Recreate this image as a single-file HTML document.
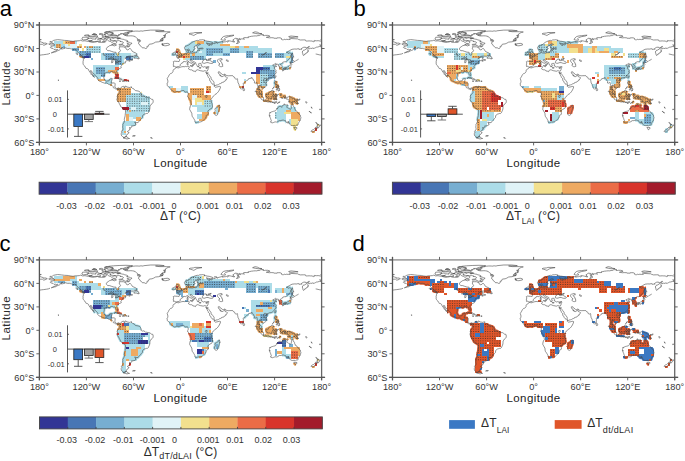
<!DOCTYPE html>
<html><head><meta charset="utf-8"><style>
html,body{margin:0;padding:0;background:#fff;}
body{width:685px;height:461px;overflow:hidden;}
svg{display:block;font-family:"Liberation Sans", sans-serif;}
</style></head><body>
<svg width="685" height="461" viewBox="0 0 685 461">
<defs><path id="land" d="M176.1 67.3 L175.6 66.9 L174.6 66.4 L173.4 66.5 L173.6 65.5 L173.1 65.2 L173.4 64.3 L173.6 63.2 L173.5 62.4 L173.2 61.8 L174.2 61.2 L175.8 61.3 L177.5 61.4 L179.1 61.5 L179.5 60.5 L179.6 59.4 L178.8 58.6 L178.1 58.2 L177.0 58.0 L176.9 57.3 L177.9 57.2 L178.9 57.4 L179.4 57.3 L179.0 56.5 L179.6 56.8 L180.6 56.8 L181.5 56.2 L181.8 55.6 L182.5 55.4 L183.2 55.3 L183.7 54.8 L184.2 54.0 L184.7 53.8 L186.0 53.6 L186.8 53.6 L187.4 53.2 L187.2 52.5 L186.8 52.0 L186.8 51.2 L187.2 50.7 L188.3 50.4 L188.8 50.3 L188.5 50.9 L188.7 51.1 L189.0 51.3 L188.0 52.0 L188.3 52.5 L189.0 52.9 L190.0 53.0 L191.3 53.0 L191.6 53.3 L193.4 52.8 L195.1 52.6 L195.9 52.9 L196.9 52.2 L197.0 51.6 L197.0 51.0 L197.4 50.5 L198.1 50.2 L198.8 50.8 L199.4 50.8 L199.5 50.2 L198.8 49.6 L198.8 49.1 L199.8 48.9 L200.8 48.8 L202.4 48.9 L203.3 48.5 L202.5 48.1 L201.1 48.2 L199.7 48.4 L198.5 48.6 L198.0 48.2 L197.2 47.9 L197.4 47.1 L197.0 46.4 L197.4 46.0 L198.1 45.5 L199.9 44.6 L200.4 44.5 L200.3 44.2 L199.2 43.8 L197.9 44.0 L197.1 44.6 L197.3 45.0 L196.0 45.7 L194.5 46.4 L193.9 47.5 L194.5 48.0 L195.2 48.4 L194.5 49.3 L193.7 49.5 L193.4 50.8 L193.0 51.5 L192.0 51.5 L191.6 52.1 L190.6 52.1 L190.4 51.4 L189.7 50.5 L189.1 49.3 L188.7 48.9 L187.1 49.8 L186.0 50.0 L185.0 49.6 L184.7 48.7 L184.4 47.7 L185.1 46.4 L187.2 45.7 L188.7 45.0 L190.2 43.9 L192.1 42.4 L193.4 41.7 L195.6 40.8 L197.3 40.4 L198.5 40.5 L199.7 39.9 L201.2 39.9 L202.6 39.7 L205.0 40.3 L204.0 40.5 L204.9 41.0 L205.7 40.7 L207.0 41.2 L209.1 41.4 L212.1 42.3 L212.7 42.6 L212.7 43.2 L211.9 43.5 L210.6 43.8 L207.1 43.2 L206.2 43.0 L207.8 43.9 L207.9 45.0 L209.5 45.5 L209.6 45.1 L209.1 44.7 L209.7 44.5 L211.5 45.0 L212.2 44.7 L211.7 44.2 L213.5 43.4 L214.9 43.7 L215.4 43.2 L214.8 42.7 L215.1 42.2 L214.6 41.7 L216.8 42.0 L217.2 42.5 L216.2 42.5 L216.8 43.2 L218.0 43.1 L218.2 42.6 L219.9 42.2 L222.6 41.5 L223.2 41.6 L222.4 42.1 L223.4 42.1 L223.9 41.9 L225.4 41.8 L226.6 41.5 L227.5 42.0 L228.4 41.5 L227.5 41.0 L228.0 40.7 L230.3 41.0 L231.4 41.3 L234.2 42.1 L234.7 41.7 L234.0 41.4 L233.9 41.1 L232.9 41.0 L233.3 40.7 L232.8 40.1 L232.8 39.9 L234.2 39.2 L234.7 38.5 L235.3 38.3 L237.4 38.5 L237.6 38.9 L236.8 39.6 L237.3 39.8 L237.6 40.3 L237.4 41.4 L238.3 41.9 L237.9 42.5 L236.4 43.5 L237.3 43.6 L237.6 43.4 L238.4 43.2 L238.7 42.8 L239.4 42.4 L238.9 42.0 L239.2 41.4 L238.4 41.4 L238.2 41.0 L238.8 40.2 L237.8 39.6 L239.2 39.0 L239.1 38.5 L239.4 38.4 L239.8 38.9 L239.5 39.6 L240.4 39.7 L240.0 39.2 L241.3 38.9 L243.0 38.9 L244.4 39.2 L243.7 38.6 L243.6 37.8 L245.0 37.6 L246.9 37.7 L248.5 37.6 L247.9 37.1 L248.9 36.7 L249.7 36.7 L251.3 36.3 L253.3 36.1 L253.6 36.0 L255.7 35.9 L256.3 36.0 L258.0 35.6 L259.5 35.6 L259.7 35.3 L260.5 34.9 L262.3 34.6 L263.7 34.9 L262.6 35.1 L263.7 35.6 L264.5 35.6 L265.3 35.4 L267.6 35.4 L269.3 35.8 L269.9 36.1 L269.8 36.5 L268.9 36.7 L266.9 37.1 L266.3 37.4 L267.2 37.5 L268.4 37.7 L269.1 37.5 L269.5 38.1 L269.9 37.8 L271.1 37.7 L273.6 37.8 L273.8 38.2 L277.1 38.3 L277.2 37.8 L278.8 37.8 L280.0 37.8 L281.3 38.3 L281.7 38.8 L281.2 39.1 L282.2 39.7 L283.4 40.0 L284.2 39.2 L285.5 39.6 L286.8 39.3 L288.3 39.6 L288.8 39.4 L290.2 39.5 L289.5 38.8 L290.6 38.5 L297.7 38.9 L298.4 39.4 L300.4 40.0 L303.6 39.9 L305.1 39.9 L305.8 40.3 L305.7 40.9 L306.6 41.1 L307.7 41.0 L309.1 40.9 L310.5 41.0 L312.0 41.0 L313.4 41.7 L314.4 41.4 L313.8 40.9 L314.2 40.6 L316.6 40.8 L318.2 40.7 L320.5 41.1 L321.6 41.4 L321.6 44.6 L320.6 45.0 L319.6 44.9 L320.3 45.3 L320.7 45.9 L321.1 46.4 L321.0 46.7 L319.6 46.5 L317.4 47.1 L316.7 47.1 L315.5 47.7 L314.3 48.2 L314.0 48.6 L312.9 48.0 L310.9 48.6 L310.5 48.3 L309.8 48.7 L308.7 48.6 L308.4 49.1 L307.5 49.9 L307.6 50.2 L308.4 50.4 L308.4 51.5 L307.6 51.5 L307.3 52.2 L307.6 52.5 L306.2 52.9 L305.9 53.8 L304.7 54.0 L304.5 54.8 L303.4 55.5 L303.1 55.0 L302.8 53.8 L302.3 52.1 L302.7 51.0 L303.4 50.5 L303.4 50.2 L304.7 50.0 L306.1 49.0 L307.4 48.2 L308.8 47.6 L309.4 46.4 L308.5 46.5 L308.0 47.2 L306.0 48.1 L305.4 47.1 L303.3 47.4 L301.4 48.6 L302.0 49.2 L300.3 49.3 L299.1 49.4 L299.1 48.9 L297.9 48.7 L296.9 49.1 L294.6 49.0 L292.0 49.3 L289.4 50.7 L286.4 52.6 L287.7 52.7 L288.0 53.2 L288.8 53.3 L289.3 52.9 L290.2 53.0 L291.3 53.9 L291.3 54.6 L290.7 55.4 L290.6 56.3 L290.3 57.6 L289.1 58.7 L288.8 59.2 L287.8 60.1 L286.7 61.0 L286.2 61.5 L285.1 61.9 L284.7 61.9 L284.2 61.6 L283.0 62.4 L282.9 62.3 L282.4 62.6 L282.2 63.4 L282.2 63.4 L281.8 63.6 L281.6 63.7 L281.3 64.0 L280.8 64.1 L280.4 64.3 L280.4 64.7 L280.4 64.8 L281.1 65.2 L281.8 66.2 L282.0 66.6 L282.0 67.6 L281.7 68.0 L281.0 68.0 L280.4 68.4 L279.7 68.5 L279.6 68.1 L279.7 67.5 L279.3 66.7 L280.0 66.6 L279.4 65.9 L279.0 65.8 L278.6 65.9 L278.8 65.8 L278.3 65.6 L278.6 65.2 L278.6 65.1 L278.8 64.6 L278.7 64.4 L278.3 64.4 L277.9 64.2 L276.8 64.4 L276.2 64.8 L275.4 65.0 L275.8 64.6 L275.7 64.3 L276.3 63.8 L275.8 63.4 L275.2 63.7 L274.3 64.2 L273.8 64.7 L273.0 64.8 L272.6 65.2 L273.1 65.6 L273.7 65.8 L273.7 66.2 L274.3 66.3 L275.2 65.8 L275.9 66.1 L276.4 66.1 L276.5 66.6 L275.4 66.7 L275.0 67.2 L274.3 67.6 L273.9 68.1 L274.7 68.5 L275.0 69.3 L275.5 70.0 L276.1 70.6 L276.1 71.3 L275.6 71.4 L275.7 71.9 L276.2 72.1 L275.9 73.4 L275.4 73.4 L274.9 74.2 L274.3 75.3 L273.5 76.2 L272.5 77.0 L271.4 77.6 L270.5 77.7 L270.0 78.1 L269.7 77.8 L269.2 78.1 L268.1 78.5 L267.4 78.7 L267.0 79.6 L266.6 79.6 L266.4 79.0 L266.6 78.7 L265.6 78.5 L265.2 78.5 L264.4 78.4 L264.1 79.0 L263.5 79.9 L263.4 80.5 L263.9 81.4 L264.7 82.4 L265.4 82.8 L265.9 83.5 L266.2 85.0 L266.1 86.3 L265.5 86.8 L264.5 87.3 L263.9 88.0 L263.0 88.7 L262.7 88.2 L262.9 87.7 L262.3 87.2 L261.6 87.1 L261.3 86.7 L260.9 85.9 L260.7 85.0 L259.9 85.5 L259.5 85.6 L259.7 85.0 L259.0 85.0 L258.9 85.8 L258.3 87.6 L258.3 88.2 L258.8 88.2 L259.1 88.9 L259.3 89.6 L260.1 90.2 L260.5 90.6 L260.8 90.7 L261.2 91.1 L261.6 91.6 L261.6 92.2 L261.5 92.5 L261.6 92.8 L261.6 93.2 L261.9 93.5 L262.2 94.2 L262.2 94.4 L261.6 94.5 L260.9 93.9 L260.0 93.2 L259.9 92.9 L259.4 92.4 L259.4 91.7 L259.0 91.3 L259.1 90.7 L259.0 90.4 L258.7 90.1 L258.5 89.7 L258.1 89.3 L257.7 88.9 L257.6 89.3 L257.5 88.9 L257.6 88.4 L257.8 87.7 L257.7 87.1 L257.9 86.5 L257.6 86.0 L257.7 85.2 L257.4 84.8 L257.2 83.9 L257.0 82.8 L256.7 82.2 L256.1 82.6 L255.3 83.2 L254.8 83.1 L254.3 82.9 L254.6 81.9 L254.4 81.2 L253.8 80.3 L254.0 80.0 L253.5 79.9 L252.9 79.2 L252.7 78.8 L252.6 78.5 L252.5 78.1 L252.1 77.6 L251.4 77.6 L251.5 77.9 L251.3 78.4 L250.9 78.2 L250.8 78.3 L250.6 78.2 L250.3 78.1 L250.2 78.5 L249.6 78.5 L248.7 78.6 L248.7 79.2 L248.3 79.6 L247.2 80.2 L246.3 81.1 L245.7 81.6 L244.9 82.1 L244.9 82.4 L244.5 82.7 L243.8 82.9 L243.4 83.0 L243.2 83.6 L243.4 84.6 L243.4 85.3 L243.1 86.0 L243.1 87.3 L242.7 87.4 L242.3 88.0 L242.6 88.2 L241.9 88.5 L241.6 88.9 L241.3 89.2 L240.5 88.5 L240.2 87.4 L239.8 86.6 L239.6 86.2 L239.2 85.5 L239.0 84.5 L238.8 84.0 L238.1 82.9 L237.8 81.4 L237.6 80.4 L237.6 79.5 L237.4 78.7 L236.3 79.2 L235.8 79.1 L234.7 78.1 L235.1 77.8 L234.8 77.6 L234.0 76.9 L233.3 76.7 L233.1 76.1 L232.6 75.6 L231.1 75.7 L229.8 75.7 L228.7 75.8 L227.2 75.6 L226.4 75.4 L225.5 75.3 L225.2 74.3 L224.8 74.2 L224.2 74.3 L223.4 74.7 L222.4 74.5 L221.7 73.8 L220.9 73.6 L220.4 72.9 L219.8 71.9 L219.4 72.0 L218.8 71.7 L218.6 72.0 L218.1 72.0 L218.3 72.4 L218.2 72.5 L218.4 73.1 L218.8 73.8 L219.1 73.9 L219.3 74.2 L219.9 74.5 L219.8 75.2 L219.9 75.4 L220.1 75.6 L220.2 75.9 L220.3 76.0 L220.6 75.1 L220.9 75.2 L220.9 75.7 L220.8 76.2 L220.9 76.5 L221.1 76.7 L221.7 76.5 L222.8 76.6 L223.4 76.0 L223.9 75.6 L224.5 75.0 L224.7 74.8 L224.8 74.9 L224.7 75.2 L224.6 75.3 L224.7 76.0 L225.0 76.5 L225.5 76.7 L226.0 76.9 L226.5 77.0 L227.1 77.7 L227.4 77.8 L227.4 78.0 L227.0 78.7 L226.7 78.9 L226.4 79.5 L226.0 79.4 L225.8 79.6 L225.7 80.0 L225.8 80.5 L225.7 80.6 L225.3 80.6 L224.9 80.9 L224.8 81.3 L224.6 81.4 L224.2 81.4 L223.8 81.7 L223.8 82.0 L223.5 82.2 L223.0 82.1 L222.5 82.4 L222.1 82.4 L221.6 82.6 L221.4 83.0 L221.4 83.2 L220.6 83.5 L219.4 83.9 L218.7 84.5 L218.3 84.6 L218.0 84.5 L217.7 84.8 L217.1 85.0 L216.5 85.0 L216.2 85.0 L216.1 85.3 L215.9 85.3 L215.8 85.5 L215.4 85.5 L215.1 85.6 L214.6 85.6 L214.4 85.1 L214.4 84.6 L214.1 83.9 L213.9 83.5 L214.1 83.5 L214.0 83.2 L214.1 83.0 L214.1 82.7 L213.9 82.3 L213.7 82.1 L213.7 81.7 L213.3 81.5 L212.8 80.8 L212.6 80.2 L212.0 79.6 L211.7 79.6 L211.2 78.8 L211.1 77.8 L210.7 76.9 L210.3 76.6 L209.9 76.4 L209.7 76.0 L209.7 75.8 L209.4 75.4 L209.2 75.2 L208.9 74.6 L208.4 74.0 L208.0 73.4 L207.6 73.4 L207.8 73.1 L207.9 72.4 L207.6 73.0 L207.5 73.3 L207.3 73.7 L207.1 73.8 L206.8 73.5 L206.4 73.2 L206.1 72.1 L206.0 72.0 L206.0 72.0 L205.9 72.0 L206.8 74.1 L207.3 74.9 L207.9 76.4 L208.3 76.8 L208.3 77.4 L209.2 78.2 L209.6 78.8 L209.6 79.9 L209.9 80.9 L210.2 81.0 L210.6 81.4 L211.0 82.3 L211.3 83.0 L211.9 83.7 L212.8 84.1 L213.4 84.8 L213.9 85.3 L214.3 85.5 L214.1 86.3 L214.3 86.4 L214.6 86.6 L215.5 87.3 L216.2 87.1 L217.0 87.0 L218.1 86.7 L219.1 86.5 L219.9 86.3 L220.5 86.7 L220.5 86.8 L220.5 87.1 L220.2 88.2 L219.8 89.1 L219.3 90.1 L218.6 91.3 L217.9 92.2 L217.0 93.2 L216.2 93.9 L215.1 94.4 L214.3 95.2 L213.1 96.8 L212.6 97.1 L212.1 97.5 L211.5 98.8 L211.2 99.1 L210.9 99.4 L210.8 100.1 L211.5 100.8 L211.2 102.1 L211.8 103.3 L212.1 103.5 L212.2 104.8 L212.5 106.9 L211.5 108.5 L209.8 109.2 L209.0 110.1 L208.1 110.8 L207.8 110.9 L208.2 112.5 L208.3 113.5 L208.3 114.3 L207.9 114.6 L206.4 115.3 L206.1 115.6 L206.3 115.9 L206.1 117.0 L205.7 118.0 L205.0 118.5 L204.5 119.2 L203.5 120.2 L202.6 121.1 L202.1 121.4 L201.2 121.7 L200.8 121.8 L199.9 122.1 L198.2 122.0 L197.4 122.3 L196.3 122.7 L195.9 122.7 L194.9 122.1 L194.9 121.3 L194.8 120.3 L194.3 119.5 L193.7 118.5 L193.3 117.8 L192.4 116.7 L192.0 115.3 L191.9 114.2 L191.8 113.2 L191.0 111.9 L190.5 110.9 L189.7 109.6 L189.7 108.5 L190.3 106.0 L191.3 104.8 L191.2 103.8 L191.0 102.7 L190.8 102.2 L190.8 101.5 L190.5 100.8 L190.1 100.2 L189.8 99.4 L189.2 98.6 L188.2 97.3 L187.4 96.1 L187.9 95.7 L187.8 95.2 L188.2 94.6 L188.2 93.0 L187.9 92.5 L187.5 92.3 L187.2 91.7 L186.4 92.0 L185.8 92.2 L185.1 92.1 L183.9 90.5 L183.3 90.5 L182.6 90.5 L181.4 90.8 L180.5 91.1 L179.6 91.5 L178.9 91.8 L177.9 91.5 L176.9 91.4 L176.0 91.5 L175.7 91.8 L174.6 92.1 L173.1 91.2 L172.5 90.7 L171.6 90.1 L170.8 89.7 L170.2 89.0 L170.1 88.0 L169.4 87.6 L169.0 87.1 L168.7 86.8 L167.9 86.4 L167.4 85.7 L167.3 85.1 L167.4 84.8 L167.3 84.6 L166.8 83.9 L167.1 83.8 L167.6 82.8 L167.9 81.3 L167.7 80.1 L167.3 79.0 L167.2 78.7 L167.4 78.2 L167.7 77.7 L168.0 76.9 L168.7 76.3 L168.9 75.8 L168.9 75.4 L169.2 74.9 L169.6 74.6 L170.2 73.8 L170.6 73.5 L171.3 73.4 L172.3 72.7 L173.0 71.6 L172.8 71.0 L173.1 70.4 L173.2 69.9 L173.7 69.5 L174.5 69.1 L175.1 68.8 L175.6 68.0 L175.9 67.4 L176.4 67.4 L176.9 67.8 L177.7 67.7 L178.8 67.9 L179.6 67.5 L180.9 67.0 L181.7 66.8 L183.0 66.6 L184.7 66.7 L185.4 66.4 L186.5 66.6 L187.1 66.5 L187.9 66.2 L188.5 66.3 L189.1 66.4 L189.0 67.0 L189.2 67.5 L189.0 68.2 L188.4 68.6 L189.0 69.0 L189.2 69.4 L189.5 69.5 L190.5 69.8 L191.4 69.8 L192.4 70.2 L192.8 70.9 L194.6 71.3 L195.5 71.7 L196.0 70.6 L196.3 70.2 L197.4 69.8 L198.5 69.9 L198.7 70.2 L199.3 70.4 L200.3 70.7 L202.1 71.0 L203.2 71.3 L204.1 70.8 L205.1 70.8 L205.7 70.9 L206.4 71.2 L207.4 71.0 L207.6 70.2 L208.0 69.5 L208.0 68.9 L208.3 68.4 L208.6 67.7 L208.6 67.0 L208.9 66.7 L207.7 66.6 L206.0 67.2 L204.5 66.7 L203.8 67.2 L202.4 66.6 L201.7 66.2 L201.9 65.9 L201.0 65.5 L201.5 64.9 L201.2 64.5 L201.4 64.1 L201.1 64.0 L201.0 63.7 L201.0 63.5 L200.4 63.4 L199.6 63.4 L199.1 63.6 L198.5 63.8 L198.8 64.9 L199.3 65.5 L198.6 65.8 L198.7 67.0 L198.4 66.6 L198.1 67.0 L197.4 66.6 L197.5 66.0 L197.0 65.5 L196.6 64.8 L196.3 64.4 L195.7 63.9 L195.8 63.4 L195.7 63.0 L195.7 62.6 L195.4 62.5 L195.0 62.2 L194.2 61.9 L193.5 61.6 L192.6 61.1 L192.2 60.6 L191.7 60.1 L191.2 60.1 L191.2 59.6 L190.2 59.9 L190.1 60.5 L190.4 60.9 L191.5 61.9 L193.0 62.6 L193.0 62.9 L193.7 63.2 L194.4 63.5 L195.0 64.0 L194.8 64.3 L194.0 63.9 L193.5 64.4 L193.9 65.0 L193.1 65.7 L192.8 65.5 L193.0 64.9 L192.6 64.1 L191.6 63.5 L191.2 63.2 L190.2 62.8 L189.3 62.3 L188.7 61.9 L188.3 61.0 L187.5 60.7 L186.3 61.2 L185.6 61.7 L184.9 61.6 L184.1 61.5 L183.0 61.9 L182.9 62.6 L181.8 63.2 L181.0 63.6 L180.6 64.1 L180.3 64.7 L180.6 65.2 L180.1 65.5 L180.0 66.0 L179.4 66.2 L178.9 66.7 L177.1 66.7 L176.1 67.3Z M57.6 39.6 L61.3 40.0 L64.5 40.4 L68.4 40.6 L70.0 41.0 L73.1 41.4 L74.7 41.0 L77.0 40.9 L79.4 40.7 L80.6 40.3 L82.5 41.0 L84.9 40.8 L88.8 41.5 L90.7 42.0 L92.7 42.4 L94.3 42.2 L95.8 42.0 L97.4 41.5 L99.0 42.2 L101.3 42.4 L103.7 42.4 L105.2 42.0 L106.4 41.0 L105.6 39.9 L106.8 39.2 L108.0 40.3 L108.8 41.0 L110.7 41.6 L111.9 42.5 L113.1 41.8 L113.9 40.8 L115.8 41.0 L116.6 41.8 L116.6 42.8 L115.4 43.5 L113.5 43.4 L112.3 44.4 L111.1 45.3 L109.6 45.7 L108.8 46.3 L107.2 47.3 L106.4 48.5 L106.4 49.4 L107.8 50.7 L109.6 50.7 L111.5 51.4 L113.9 52.2 L116.0 52.3 L116.1 54.0 L116.6 54.7 L117.8 55.3 L118.6 54.9 L118.8 53.6 L118.4 52.5 L120.0 51.6 L120.5 50.4 L119.7 49.4 L119.1 48.1 L119.6 47.3 L119.3 46.7 L121.3 46.8 L123.3 46.8 L124.8 47.5 L126.0 47.8 L126.0 48.9 L126.8 49.6 L127.8 49.9 L128.8 49.4 L129.5 48.6 L129.9 48.2 L130.7 49.3 L131.9 50.4 L132.4 51.5 L133.9 52.2 L135.4 52.8 L136.6 53.6 L136.8 54.5 L135.9 55.2 L134.6 55.4 L133.5 56.2 L131.9 56.2 L129.9 56.1 L128.4 56.3 L126.8 56.9 L125.8 57.8 L124.7 58.7 L125.6 58.3 L126.8 57.5 L128.4 57.0 L129.9 57.2 L130.2 57.6 L129.2 58.0 L129.7 58.7 L130.1 59.3 L131.9 59.6 L132.7 60.0 L131.5 60.4 L130.3 60.8 L129.0 61.3 L128.7 60.8 L129.9 60.0 L128.8 60.1 L127.8 60.5 L126.8 60.8 L125.6 61.2 L125.1 61.9 L125.2 62.6 L125.6 62.7 L125.2 63.0 L124.1 63.1 L122.6 63.5 L122.5 63.7 L122.4 64.4 L121.8 65.0 L121.5 65.2 L121.6 65.5 L121.2 66.1 L120.9 66.4 L121.0 66.9 L121.3 67.8 L120.5 68.2 L119.7 68.5 L119.0 68.9 L118.4 69.5 L117.5 70.0 L116.8 70.7 L116.7 71.7 L117.0 72.6 L117.3 73.3 L117.6 74.2 L117.7 75.2 L117.5 75.7 L116.9 75.7 L116.5 75.2 L116.1 74.5 L115.7 73.7 L115.6 73.1 L115.0 72.1 L114.3 72.0 L113.6 72.2 L112.7 71.6 L111.5 71.6 L110.6 71.7 L110.4 72.5 L109.6 72.7 L108.8 72.4 L107.0 72.2 L106.2 72.5 L104.9 73.3 L104.2 73.9 L104.3 75.1 L104.0 76.3 L103.8 77.8 L104.2 79.0 L104.9 80.2 L105.4 80.7 L106.4 81.2 L108.0 80.9 L108.9 80.9 L109.6 79.9 L109.7 79.0 L111.1 78.6 L112.3 78.6 L112.0 79.6 L111.8 80.3 L111.5 81.0 L111.3 81.7 L111.3 82.8 L110.8 83.0 L111.9 83.1 L113.1 82.9 L114.3 83.1 L115.3 83.7 L115.1 84.5 L115.0 85.7 L114.9 86.8 L115.4 87.6 L116.1 88.2 L116.7 88.6 L117.8 88.2 L118.2 87.9 L119.0 88.1 L119.8 88.6 L120.3 88.7 L120.8 88.1 L121.2 87.3 L121.9 86.8 L122.3 86.6 L123.1 86.6 L123.9 86.1 L124.1 86.5 L124.5 86.9 L124.2 87.3 L124.4 88.3 L124.8 87.8 L124.7 86.9 L125.5 86.4 L125.6 85.9 L125.9 86.4 L127.0 87.1 L128.0 87.1 L128.8 87.4 L129.9 87.5 L130.7 87.1 L132.0 87.1 L131.4 87.4 L132.3 88.0 L133.0 88.8 L133.6 88.9 L134.2 89.4 L135.0 90.1 L135.7 90.7 L137.0 90.8 L138.2 91.1 L139.1 91.3 L140.1 92.2 L140.5 92.6 L141.0 94.0 L141.4 94.2 L140.8 95.3 L141.7 95.8 L142.5 96.2 L143.3 95.9 L144.8 96.5 L145.6 97.4 L146.5 97.3 L148.0 97.7 L149.3 97.7 L150.3 98.3 L151.3 99.2 L152.7 99.4 L153.0 100.1 L153.2 101.3 L153.0 102.5 L152.3 103.5 L151.3 104.2 L150.6 105.3 L150.0 106.2 L149.9 107.6 L149.8 109.0 L149.4 110.3 L148.9 111.3 L148.4 112.6 L147.6 113.4 L146.3 113.5 L145.5 113.8 L144.2 114.2 L143.2 114.9 L142.5 115.9 L142.4 117.5 L141.5 118.4 L140.8 119.6 L139.6 120.6 L138.6 121.8 L138.2 122.5 L136.9 122.7 L135.8 122.4 L134.7 122.1 L134.7 122.5 L135.7 123.1 L135.5 123.9 L136.1 124.0 L135.3 125.3 L134.1 125.7 L132.5 125.9 L131.7 125.8 L131.8 126.7 L131.7 127.2 L130.5 127.6 L129.5 127.5 L129.5 128.4 L130.6 128.8 L130.0 129.0 L129.5 129.4 L129.3 130.3 L128.4 130.7 L127.7 131.1 L127.5 131.7 L128.3 132.2 L129.0 132.4 L128.8 133.1 L127.8 133.6 L127.4 134.5 L126.6 134.8 L126.3 135.4 L126.7 136.4 L126.0 136.5 L125.0 136.8 L124.8 137.5 L123.6 137.3 L122.5 136.5 L121.6 135.8 L121.3 134.9 L121.2 133.6 L121.9 132.8 L121.2 131.9 L121.9 131.3 L122.3 130.0 L123.1 129.6 L123.0 128.5 L122.7 127.1 L122.9 125.4 L122.8 124.6 L123.6 123.2 L124.2 122.0 L124.5 120.8 L124.3 119.6 L124.5 118.1 L124.9 117.0 L125.2 115.4 L125.3 113.9 L125.5 112.2 L125.5 110.9 L125.3 109.8 L124.5 109.4 L123.7 108.7 L122.6 108.0 L121.6 107.4 L120.9 106.9 L120.6 106.2 L120.1 105.0 L119.3 103.6 L118.6 102.0 L117.9 101.1 L116.8 100.2 L117.1 99.9 L116.7 99.1 L117.5 98.1 L117.9 97.6 L117.6 97.5 L117.0 97.2 L117.2 96.2 L117.7 95.0 L118.2 94.7 L118.7 94.1 L119.3 93.4 L119.9 92.5 L119.9 91.9 L119.8 91.1 L119.7 90.2 L119.4 89.8 L119.2 88.9 L118.7 88.9 L118.1 88.5 L117.5 88.9 L117.5 89.7 L117.0 89.5 L116.6 89.2 L115.6 88.9 L114.9 88.4 L114.2 87.9 L113.8 87.9 L113.2 87.5 L113.3 86.8 L112.7 86.2 L111.8 85.3 L111.9 85.0 L110.9 85.0 L109.9 84.6 L109.0 84.6 L108.2 84.1 L107.3 83.2 L106.3 82.8 L104.8 83.2 L103.7 82.8 L102.3 82.4 L100.9 81.6 L99.4 81.1 L98.6 80.6 L97.8 79.8 L98.0 78.9 L97.7 78.2 L97.4 77.6 L96.7 76.8 L95.8 75.9 L94.8 75.4 L94.7 74.5 L93.8 73.6 L93.3 73.5 L92.5 72.7 L91.8 71.6 L91.8 71.0 L90.5 70.6 L90.6 71.8 L91.5 72.8 L92.1 73.7 L92.5 74.5 L93.3 75.3 L93.7 76.4 L94.4 77.1 L94.4 77.4 L94.0 77.1 L93.3 76.3 L92.5 75.9 L92.6 75.2 L91.5 74.5 L90.7 74.1 L91.0 73.4 L90.0 72.3 L89.0 70.9 L88.7 70.0 L88.5 69.5 L87.7 69.0 L87.6 68.8 L86.7 68.5 L86.0 68.4 L86.0 67.9 L85.1 67.1 L84.9 66.5 L84.5 65.9 L84.0 65.5 L83.5 64.8 L83.0 63.9 L83.2 63.0 L82.9 61.9 L83.2 61.2 L83.4 59.8 L83.3 58.7 L82.7 57.6 L84.0 57.9 L84.4 58.6 L84.6 57.5 L84.1 57.1 L83.3 56.6 L82.5 56.0 L81.7 55.5 L80.6 55.0 L80.3 54.3 L79.4 53.7 L78.4 52.9 L78.2 52.4 L77.3 51.6 L76.6 50.8 L75.5 49.9 L74.7 49.3 L73.5 49.8 L72.5 49.7 L71.5 48.9 L70.5 48.7 L69.3 48.4 L67.7 48.5 L66.1 48.1 L65.2 47.8 L64.3 47.9 L64.5 48.5 L63.2 48.7 L62.1 49.0 L61.4 49.1 L61.6 47.9 L62.7 47.5 L62.1 47.5 L60.9 48.3 L59.8 48.9 L60.3 49.3 L59.5 50.0 L58.0 50.5 L56.9 51.1 L55.4 51.9 L54.1 52.1 L52.6 52.6 L51.3 52.9 L52.5 52.3 L53.7 51.7 L54.8 51.3 L56.3 50.7 L57.0 49.8 L57.6 49.4 L56.5 49.6 L55.3 49.3 L54.0 49.5 L53.5 49.0 L53.1 48.5 L51.9 48.2 L50.9 48.1 L50.8 47.6 L50.3 47.3 L50.7 46.8 L51.5 46.4 L51.5 46.1 L52.7 46.1 L53.9 45.7 L54.5 45.2 L53.9 45.0 L54.5 44.7 L53.1 44.9 L52.3 44.9 L50.9 45.0 L50.1 44.8 L48.7 44.0 L49.8 43.7 L51.6 43.3 L52.2 43.3 L53.1 43.5 L53.7 43.7 L52.3 42.9 L51.6 42.5 L50.8 42.2 L49.7 41.9 L50.2 41.5 L51.6 41.5 L52.6 41.1 L53.6 40.4 L55.9 39.9 L57.4 39.7 L57.6 39.6Z M143.8 30.8 L150.7 30.1 L158.6 30.1 L164.2 30.7 L162.7 31.0 L159.7 31.0 L155.5 31.1 L159.0 31.7 L166.4 31.7 L170.2 32.0 L168.3 32.4 L167.2 33.0 L165.4 34.0 L165.1 34.7 L166.0 35.2 L163.5 35.5 L165.1 35.9 L165.3 36.6 L164.3 36.6 L165.3 37.3 L163.6 37.4 L164.5 37.7 L163.4 38.2 L162.0 38.1 L163.0 38.6 L161.1 38.9 L163.2 39.5 L163.4 40.1 L162.1 40.3 L160.5 39.6 L160.7 40.0 L159.8 40.5 L163.0 40.6 L158.8 41.8 L155.6 42.1 L153.7 43.2 L152.0 43.9 L149.3 44.2 L148.6 45.3 L148.6 46.1 L146.9 46.4 L147.3 47.0 L146.5 48.4 L145.4 48.5 L144.2 47.8 L142.6 47.8 L141.9 47.4 L141.4 46.6 L140.1 45.7 L139.7 45.1 L139.5 44.4 L138.4 43.7 L138.7 43.2 L138.6 42.8 L139.0 41.9 L140.1 41.7 L140.4 41.4 L140.6 40.7 L139.3 41.1 L137.6 41.0 L137.9 40.0 L140.2 40.2 L138.9 39.7 L137.4 39.6 L137.6 38.6 L136.5 37.8 L135.6 37.0 L134.6 36.7 L134.6 36.3 L132.4 35.9 L130.8 35.8 L128.7 35.9 L126.8 35.9 L125.9 35.6 L124.5 35.2 L126.6 34.9 L128.1 34.9 L124.8 34.7 L123.0 34.4 L123.1 34.1 L126.1 33.7 L129.0 33.3 L129.3 33.0 L127.2 32.7 L127.8 32.4 L130.6 31.9 L131.7 31.8 L131.4 31.4 L133.2 31.3 L135.7 31.1 L138.1 31.1 L139.0 31.3 L141.0 30.9 L143.0 31.2 L143.8 30.8Z M118.2 38.5 L119.7 38.5 L121.2 38.9 L122.3 39.2 L123.9 39.4 L124.7 39.9 L126.6 40.3 L127.3 40.6 L128.1 41.3 L126.6 41.7 L128.4 42.1 L129.6 42.4 L130.8 43.1 L132.0 43.1 L131.7 43.6 L130.4 44.6 L129.5 44.3 L128.2 43.5 L127.2 43.5 L127.1 44.0 L127.9 44.5 L129.0 44.9 L129.3 45.0 L129.8 45.8 L129.6 46.4 L128.5 46.2 L126.6 45.6 L127.7 46.2 L128.5 46.7 L128.6 47.0 L126.5 46.7 L124.8 46.2 L123.9 45.8 L124.1 45.6 L121.9 44.8 L121.9 45.0 L119.6 45.2 L118.9 44.9 L119.4 44.3 L120.9 44.3 L122.6 44.2 L122.3 43.9 L122.6 43.5 L123.5 42.8 L123.4 42.5 L123.0 42.1 L121.9 41.7 L120.2 41.5 L120.8 41.4 L119.9 40.8 L119.2 40.8 L118.6 40.5 L118.2 40.7 L116.8 40.9 L113.9 40.7 L112.2 40.4 L111.0 40.3 L110.3 40.0 L111.1 39.7 L110.0 39.7 L109.8 38.9 L110.4 38.2 L111.2 37.9 L113.2 37.7 L112.6 38.1 L113.2 38.7 L113.9 38.1 L116.0 37.7 L117.3 38.5 L117.2 39.0 L118.7 38.8 L118.2 38.5Z M101.8 38.5 L100.2 38.7 L98.0 37.8 L96.7 37.9 L95.7 38.1 L95.7 39.3 L94.9 39.1 L92.6 38.9 L91.0 38.2 L90.0 38.2 L87.7 38.7 L87.1 39.4 L87.8 40.1 L88.4 40.5 L90.8 40.6 L92.4 40.3 L89.2 41.3 L91.2 41.5 L94.3 41.6 L97.3 41.3 L98.6 41.7 L100.2 41.6 L100.9 41.0 L99.6 40.3 L98.8 39.9 L97.5 39.7 L98.3 39.0 L99.8 39.0 L101.8 38.5Z M86.0 39.6 L88.4 38.7 L88.4 37.4 L85.1 37.2 L82.6 37.3 L81.8 39.2 L83.4 39.9 L86.0 39.6Z M113.2 33.4 L112.1 33.6 L110.7 34.2 L109.3 34.2 L107.7 34.2 L106.9 33.8 L107.3 33.3 L106.1 33.3 L105.2 33.1 L104.7 32.7 L105.8 32.1 L106.6 32.0 L106.3 31.9 L108.1 31.8 L109.1 32.3 L111.7 32.6 L112.3 33.1 L113.2 33.4Z M117.7 35.6 L119.4 35.2 L118.3 34.9 L120.1 34.4 L121.4 34.0 L120.5 33.6 L123.4 33.5 L125.8 32.5 L130.3 31.5 L132.6 30.9 L130.3 30.6 L126.0 30.4 L119.1 30.6 L113.5 30.9 L111.4 31.1 L108.8 31.4 L110.5 32.1 L113.1 32.7 L112.7 33.1 L113.5 34.0 L111.5 34.5 L110.6 35.0 L111.8 35.0 L114.0 34.8 L117.7 35.6Z M117.3 35.8 L118.1 36.8 L116.3 37.2 L111.4 37.2 L108.1 36.9 L107.7 36.0 L109.9 35.6 L113.2 35.6 L117.3 35.8Z M107.4 38.5 L106.6 39.1 L105.7 39.0 L105.2 38.0 L106.4 37.4 L109.6 37.6 L107.4 38.5Z M104.7 39.3 L103.4 39.6 L100.2 38.7 L101.1 38.5 L101.9 37.7 L104.4 37.9 L104.7 39.3Z M97.9 36.0 L95.7 35.8 L93.3 36.3 L90.8 36.0 L88.2 35.9 L88.8 36.5 L92.7 37.1 L95.1 36.8 L97.0 37.1 L97.9 36.0Z M104.6 35.0 L102.0 35.3 L102.1 36.3 L104.1 36.8 L106.3 36.3 L104.6 35.0Z M112.6 45.2 L114.3 45.9 L116.5 45.0 L115.1 44.5 L113.7 44.1 L111.6 45.0 L112.6 45.2Z M105.2 32.9 L107.0 33.3 L108.4 32.5 L108.8 31.7 L106.0 31.8 L104.5 32.4 L105.2 32.9Z M133.9 58.2 L134.2 57.6 L134.7 57.0 L135.5 55.8 L136.1 55.3 L137.1 55.1 L136.9 55.6 L136.4 56.2 L137.0 56.4 L137.8 56.6 L138.6 56.9 L138.9 57.3 L138.5 57.7 L139.3 58.3 L138.9 58.9 L138.0 58.8 L138.2 58.2 L137.2 58.7 L136.4 58.2 L135.6 58.2 L133.9 58.2Z M79.8 55.7 L80.7 55.9 L82.0 56.1 L82.7 56.7 L83.5 57.2 L83.8 57.6 L82.8 57.5 L82.0 57.2 L81.0 56.6 L80.2 56.2 L79.8 55.7Z M76.5 53.2 L77.2 53.1 L77.7 54.6 L76.9 54.6 L76.2 53.7 L76.5 53.2Z M113.9 78.3 L114.3 78.1 L115.2 77.6 L116.3 77.4 L117.3 77.4 L118.3 77.9 L119.1 77.8 L120.1 78.5 L120.9 78.8 L122.3 79.6 L121.8 79.8 L120.1 79.9 L119.7 79.2 L119.0 79.0 L118.0 78.4 L116.4 78.1 L115.6 77.7 L114.6 78.3 L113.9 78.3Z M122.2 81.1 L123.4 81.3 L124.3 81.5 L124.8 81.1 L125.6 81.0 L126.6 81.2 L127.0 80.9 L126.3 80.6 L125.7 80.1 L124.4 79.9 L123.4 79.9 L123.0 80.1 L123.4 80.5 L123.7 80.9 L122.2 81.1Z M119.1 81.0 L119.7 81.0 L120.7 81.3 L120.2 81.4 L119.5 81.4 L119.1 81.0Z M127.8 81.0 L129.1 81.1 L128.9 81.4 L127.8 81.4 L127.8 81.0Z M126.7 136.6 L127.5 137.6 L128.4 138.1 L129.5 138.5 L128.4 138.6 L127.0 139.0 L125.7 138.6 L124.5 138.5 L123.0 137.8 L124.2 137.5 L125.4 136.9 L126.3 136.8 L126.7 136.6Z M132.5 136.1 L133.8 135.5 L135.3 135.7 L134.6 136.1 L132.5 136.1Z M39.4 41.4 L41.3 42.1 L43.4 42.8 L43.3 43.3 L43.9 43.5 L44.1 43.1 L45.7 43.1 L47.3 43.8 L46.5 44.2 L45.3 44.3 L45.2 45.0 L44.2 45.1 L43.3 45.1 L42.4 44.3 L40.7 44.3 L39.4 44.6Z M202.4 62.9 L203.1 63.3 L203.4 63.2 L204.9 63.3 L205.8 62.8 L206.8 62.6 L208.1 62.6 L209.4 63.1 L210.5 63.4 L212.2 63.4 L213.1 63.0 L213.2 62.6 L213.0 62.1 L212.6 61.8 L212.1 61.7 L211.2 61.2 L210.4 60.7 L209.9 60.5 L209.3 60.1 L209.8 59.9 L210.4 59.3 L209.8 59.2 L210.4 58.8 L211.2 58.7 L211.2 58.4 L210.4 58.6 L209.8 58.7 L209.3 58.9 L208.6 59.0 L207.9 59.2 L207.9 59.7 L208.3 59.9 L209.1 59.8 L209.0 60.1 L208.1 60.3 L207.1 60.7 L206.6 60.5 L206.8 60.2 L206.0 60.0 L206.1 59.8 L206.8 59.5 L206.6 59.4 L205.3 59.2 L205.3 58.9 L204.6 59.0 L204.3 59.4 L203.7 60.0 L203.7 60.2 L203.3 60.4 L203.1 60.3 L202.9 61.2 L202.4 61.6 L202.2 62.1 L202.4 62.9Z M219.9 60.5 L220.7 61.7 L221.8 62.3 L221.7 62.6 L222.0 63.2 L221.9 64.1 L222.8 64.4 L222.4 64.8 L222.8 65.1 L222.6 65.8 L222.8 66.3 L221.5 66.7 L220.3 66.6 L219.7 66.2 L218.8 65.5 L218.8 65.1 L219.1 64.9 L219.4 64.0 L220.0 63.9 L219.5 63.7 L218.6 62.7 L217.7 61.8 L217.7 61.2 L217.4 60.8 L217.8 59.8 L218.6 59.0 L219.0 59.1 L219.7 59.0 L220.6 58.6 L221.3 58.8 L222.0 58.7 L222.0 59.2 L222.2 60.0 L221.4 59.9 L220.7 60.1 L220.5 60.3 L219.9 60.5Z M226.4 59.8 L227.4 60.2 L228.3 60.7 L228.4 61.3 L227.7 61.4 L226.7 61.0 L226.4 60.5 L226.4 59.8Z M176.0 56.2 L177.1 56.0 L177.8 55.8 L179.3 55.8 L181.0 55.7 L181.6 55.4 L181.0 55.1 L181.8 54.2 L180.7 54.0 L180.6 53.6 L180.1 52.8 L179.3 52.0 L178.8 51.6 L178.3 51.5 L178.9 50.7 L179.0 50.4 L178.1 49.6 L177.3 49.6 L176.6 49.6 L176.3 50.4 L176.0 50.8 L176.1 51.4 L175.7 51.7 L176.1 52.2 L176.6 52.3 L176.8 52.6 L177.8 52.5 L177.7 52.7 L178.0 53.2 L178.1 53.6 L177.4 53.7 L176.9 54.0 L177.3 54.5 L176.5 55.0 L177.2 55.3 L178.1 55.4 L177.4 55.6 L176.0 56.2Z M175.6 53.3 L176.0 52.7 L175.6 52.2 L174.8 52.2 L174.0 52.2 L173.7 52.8 L172.7 53.0 L172.8 53.6 L173.3 54.0 L172.9 54.5 L172.4 54.8 L173.1 55.1 L174.1 54.9 L175.2 54.5 L175.8 54.3 L175.6 53.3Z M162.6 45.3 L163.4 45.0 L161.8 44.6 L163.1 44.5 L161.7 44.1 L162.0 43.6 L163.4 43.9 L165.8 43.5 L167.8 43.4 L169.0 43.9 L169.8 44.5 L169.1 45.0 L167.8 45.4 L165.8 45.8 L164.4 45.7 L162.6 45.3Z M189.0 33.9 L190.3 33.3 L193.4 33.0 L194.8 32.5 L198.1 32.5 L202.0 32.7 L197.8 33.4 L196.2 34.0 L193.8 35.5 L192.3 34.9 L190.8 34.4 L189.0 33.9Z M220.9 39.5 L222.0 37.8 L223.6 36.5 L226.4 35.8 L228.7 35.7 L231.5 35.3 L234.0 35.2 L232.2 36.0 L228.3 36.7 L225.6 37.6 L224.6 38.7 L225.6 40.1 L223.9 40.2 L222.4 40.0 L220.9 39.5Z M252.6 32.8 L255.0 31.8 L257.3 32.2 L259.7 33.4 L262.0 33.7 L258.9 33.9 L255.8 33.5 L252.6 32.8Z M288.7 36.6 L291.0 36.0 L294.9 36.4 L298.1 36.9 L295.7 37.0 L292.2 37.5 L289.1 37.2 L288.7 36.6Z M39.4 39.5 L41.3 39.6 L40.3 39.9 L39.4 39.9Z M321.6 39.9 L320.7 39.7 L321.6 39.5Z M291.8 59.4 L293.0 59.0 L292.3 58.0 L293.0 56.9 L293.9 57.2 L292.8 54.9 L292.8 54.2 L292.4 52.9 L292.0 53.6 L291.5 54.6 L291.6 55.5 L291.8 57.1 L291.7 58.3 L291.8 59.4Z M290.2 63.0 L290.9 62.7 L291.1 62.1 L292.8 62.6 L294.6 61.6 L294.2 61.0 L291.8 59.8 L291.5 60.6 L291.3 61.5 L290.1 62.1 L290.5 63.2 L290.2 63.0Z M290.9 63.0 L291.7 64.1 L291.7 64.8 L291.0 65.5 L290.9 66.5 L290.7 67.0 L290.9 67.4 L290.5 68.0 L289.8 68.1 L289.3 68.3 L288.8 68.4 L288.0 68.4 L287.8 68.6 L287.7 69.3 L287.0 69.2 L286.4 69.0 L286.3 68.4 L285.0 68.5 L284.1 68.9 L283.2 68.8 L283.2 68.5 L284.4 67.7 L286.0 67.5 L286.9 67.7 L287.7 66.7 L288.2 66.6 L289.4 65.9 L289.8 65.5 L290.3 64.6 L290.2 63.7 L290.5 63.2 L290.9 63.0Z M283.1 68.8 L283.9 69.5 L283.4 70.8 L283.0 71.2 L282.6 70.9 L282.7 70.2 L282.2 69.9 L281.9 69.4 L282.7 69.1 L283.1 68.8Z M284.3 69.4 L284.8 69.8 L285.8 69.4 L286.2 69.0 L285.7 68.7 L285.0 68.8 L284.4 68.9 L284.3 69.4Z M276.0 76.3 L275.5 77.6 L275.1 78.2 L274.7 77.6 L274.6 77.0 L275.1 76.3 L275.7 75.6 L276.1 75.9 L276.0 76.3Z M267.0 80.8 L266.3 81.2 L265.7 81.0 L265.6 80.3 L266.0 79.9 L266.9 79.7 L267.4 79.7 L267.5 80.0 L267.0 80.8Z M244.6 89.6 L244.5 90.4 L244.2 90.6 L243.4 90.7 L243.1 90.1 L243.0 89.0 L243.3 87.8 L243.8 88.2 L244.2 88.7 L244.6 89.6Z M275.2 81.0 L275.6 81.0 L276.4 81.2 L276.3 82.1 L276.5 82.7 L275.9 83.0 L275.7 83.6 L275.9 84.2 L276.9 84.8 L277.6 85.1 L277.8 85.7 L277.2 85.3 L276.8 84.8 L276.7 85.1 L276.1 84.6 L275.4 84.8 L275.0 84.2 L274.6 83.7 L274.5 83.4 L274.5 82.6 L274.8 82.9 L274.9 81.7 L275.1 81.0 L275.2 81.0Z M279.6 88.9 L279.7 89.3 L279.4 90.5 L279.1 89.7 L278.8 90.1 L279.0 90.7 L278.8 91.1 L277.9 90.6 L277.6 90.0 L277.9 89.6 L277.4 89.3 L276.9 89.6 L276.4 90.0 L276.1 89.8 L276.4 89.2 L276.8 89.0 L277.3 88.6 L277.5 89.0 L278.2 88.8 L278.3 88.4 L278.8 88.4 L278.8 87.8 L279.4 88.2 L279.6 88.9Z M277.9 85.6 L278.6 85.7 L278.9 85.9 L279.1 86.8 L278.5 86.6 L278.5 87.6 L278.3 87.5 L277.9 86.4 L278.4 86.2 L277.9 85.6Z M276.5 86.4 L277.0 86.4 L276.6 87.1 L276.1 87.3 L276.1 86.5 L276.5 86.4Z M277.2 87.6 L277.3 88.4 L276.8 88.3 L276.4 87.8 L276.8 86.9 L277.3 86.9 L277.2 87.6Z M274.2 86.5 L274.3 87.1 L273.8 87.6 L273.4 88.2 L272.4 88.9 L272.8 88.3 L273.7 87.3 L274.2 86.5Z M272.9 92.2 L272.5 92.9 L273.0 93.6 L272.9 94.0 L273.8 94.7 L272.8 94.8 L272.6 96.1 L271.9 96.6 L271.8 97.4 L271.5 98.6 L271.4 98.3 L270.6 98.6 L270.3 98.2 L269.7 98.1 L269.3 97.9 L268.4 98.2 L268.1 97.8 L267.5 97.8 L266.9 97.7 L266.8 96.7 L266.4 96.5 L266.0 95.8 L265.9 95.1 L266.0 94.4 L266.5 93.9 L266.6 94.4 L267.1 94.8 L267.7 94.7 L268.3 94.3 L268.1 93.3 L269.0 93.0 L270.0 91.9 L270.3 91.6 L271.0 91.2 L271.6 90.7 L272.0 90.0 L272.3 90.0 L272.7 90.4 L272.8 90.8 L273.2 91.0 L273.9 91.2 L273.9 91.5 L273.3 91.6 L273.5 91.9 L272.9 92.2Z M255.2 91.1 L256.9 91.4 L257.6 92.1 L258.7 92.9 L259.4 93.8 L260.2 93.8 L260.8 94.3 L261.3 95.0 L261.9 95.4 L261.6 96.0 L262.3 96.3 L262.4 96.8 L262.7 97.2 L263.3 97.3 L263.7 97.9 L263.5 98.8 L263.4 100.1 L262.6 100.1 L261.9 99.4 L260.9 98.7 L260.6 98.3 L260.0 97.6 L259.6 97.1 L259.0 96.0 L258.3 95.3 L258.1 94.6 L257.8 94.0 L257.1 93.5 L256.7 92.9 L256.1 92.4 L255.3 91.6 L255.2 91.1Z M263.7 100.1 L264.6 100.1 L265.6 100.4 L265.6 100.8 L267.1 100.8 L267.4 100.5 L268.8 100.8 L269.1 101.4 L270.3 101.5 L271.2 102.0 L270.3 102.3 L269.5 101.9 L268.8 102.0 L267.9 101.9 L267.2 101.8 L266.3 101.5 L265.7 101.4 L265.4 101.5 L264.0 101.2 L263.8 100.8 L263.1 100.8 L263.7 100.1Z M271.4 101.9 L272.2 102.0 L272.8 101.9 L273.8 102.3 L273.0 102.5 L272.0 102.5 L271.4 101.9Z M274.5 102.0 L275.1 101.9 L276.8 101.8 L276.8 102.2 L275.6 102.4 L274.5 102.3 L274.5 102.0Z M277.7 103.1 L278.6 102.8 L280.1 101.9 L279.7 102.0 L278.6 102.2 L278.0 102.8 L277.4 103.6 L277.7 103.1Z M273.8 103.0 L274.9 103.0 L275.2 103.4 L274.4 103.3 L273.8 103.0Z M278.6 94.3 L278.0 95.1 L277.5 95.3 L276.7 95.1 L275.4 95.1 L274.7 95.3 L274.6 95.8 L275.3 96.5 L275.7 96.2 L277.2 95.9 L277.2 96.3 L276.5 96.1 L275.7 96.9 L276.5 97.9 L276.4 98.2 L277.1 99.1 L277.1 99.6 L276.6 99.8 L276.3 99.6 L276.7 99.0 L275.9 99.3 L275.7 99.0 L275.8 98.7 L275.4 97.8 L275.3 97.5 L274.8 97.7 L274.9 99.7 L274.4 99.9 L274.1 99.7 L274.3 99.0 L274.2 98.2 L273.9 98.2 L273.6 97.6 L273.9 97.1 L274.0 96.5 L274.4 95.3 L274.6 95.0 L275.3 94.4 L275.7 94.7 L276.8 94.7 L277.8 94.7 L278.6 94.2 L278.6 94.3Z M280.8 93.7 L280.8 94.2 L281.3 94.3 L281.4 94.6 L280.8 95.0 L281.2 95.7 L280.6 95.5 L280.4 94.7 L280.5 94.0 L280.8 93.7Z M280.9 97.6 L281.9 97.6 L282.8 97.9 L283.0 98.5 L282.3 98.1 L281.3 98.1 L280.9 97.6Z M285.6 96.4 L285.9 97.6 L286.7 98.1 L287.3 97.2 L288.2 96.8 L288.9 96.8 L289.6 97.1 L290.2 97.2 L291.0 97.5 L292.4 98.0 L293.9 98.5 L294.4 98.9 L294.8 99.4 L294.9 99.7 L296.2 100.2 L296.4 100.6 L295.7 100.7 L295.9 101.2 L296.6 101.7 L297.1 102.6 L297.5 102.6 L297.5 102.9 L298.1 103.0 L297.8 103.2 L298.7 103.5 L298.1 103.8 L297.2 103.5 L296.4 103.3 L295.8 102.9 L295.4 102.4 L294.9 101.8 L293.9 101.4 L293.3 101.6 L292.8 101.9 L292.9 102.5 L292.3 102.7 L291.0 102.6 L290.3 101.9 L289.5 101.8 L289.4 102.0 L288.4 102.0 L288.7 101.4 L289.2 101.2 L289.0 100.3 L288.6 99.7 L287.1 99.0 L286.5 99.0 L285.3 98.2 L285.1 98.6 L284.7 98.6 L284.6 98.3 L284.6 98.0 L284.0 97.6 L284.8 97.4 L285.4 97.4 L285.3 97.2 L284.1 97.2 L283.8 96.7 L283.2 96.5 L283.1 96.1 L284.3 95.8 L285.5 96.1 L285.6 96.4Z M296.8 99.7 L297.9 99.7 L298.8 99.7 L299.3 99.2 L299.9 98.8 L299.9 99.8 L299.1 100.1 L298.1 100.4 L296.8 99.7Z M305.7 101.7 L306.6 101.9 L306.9 102.6 L306.5 103.2 L305.8 102.6 L305.7 101.7Z M292.2 103.8 L292.4 104.2 L292.7 104.8 L292.8 105.1 L293.0 105.5 L293.1 105.9 L293.1 106.2 L293.9 106.6 L294.5 107.2 L294.4 107.5 L294.6 108.2 L294.6 108.6 L295.1 109.4 L295.0 110.2 L295.3 110.3 L297.1 111.4 L297.8 112.9 L298.6 113.0 L298.8 113.8 L300.4 115.2 L300.5 115.9 L300.6 116.8 L300.9 117.4 L300.8 118.1 L300.5 119.2 L300.5 119.7 L300.0 121.0 L299.4 121.3 L299.1 121.9 L298.9 122.3 L298.6 123.0 L298.3 123.4 L298.2 123.9 L298.1 124.7 L297.6 125.0 L296.8 125.0 L296.0 125.3 L295.7 125.7 L295.2 126.0 L294.6 125.7 L294.1 125.5 L294.2 125.1 L293.8 125.3 L293.1 125.8 L292.4 125.6 L292.0 125.5 L291.5 125.4 L290.7 125.2 L290.2 124.7 L290.1 124.1 L289.9 123.7 L289.5 123.4 L288.8 123.3 L289.0 122.9 L288.8 122.4 L288.4 122.9 L287.7 123.1 L288.2 122.6 L288.3 122.1 L288.6 121.7 L288.5 121.2 L287.9 121.9 L287.4 122.1 L287.1 122.8 L286.5 122.4 L286.5 122.0 L286.0 121.4 L285.6 121.1 L285.8 121.0 L284.7 120.5 L284.2 120.5 L283.4 120.1 L282.0 120.2 L281.0 120.5 L280.1 120.7 L279.3 120.6 L278.6 121.0 L277.9 121.3 L277.7 121.7 L277.5 122.0 L276.8 122.0 L276.3 122.1 L275.6 121.9 L275.0 122.0 L274.5 122.1 L274.0 122.4 L273.8 122.4 L273.4 122.6 L273.0 122.9 L272.5 122.8 L271.9 122.8 L271.1 122.4 L270.6 122.2 L270.6 121.7 L271.0 121.7 L271.2 121.5 L271.2 121.2 L271.3 120.6 L271.2 120.2 L270.8 119.4 L270.6 118.9 L270.6 118.5 L270.3 118.0 L270.3 117.7 L270.0 117.4 L269.9 116.8 L269.5 116.2 L269.3 115.9 L269.7 116.2 L269.4 115.5 L269.9 116.0 L270.0 116.0 L270.0 115.6 L269.6 115.0 L269.5 114.8 L269.4 114.5 L269.5 114.1 L269.6 113.9 L269.7 113.5 L269.6 113.1 L269.9 112.5 L270.0 113.1 L270.3 112.5 L271.0 112.3 L271.4 112.0 L272.0 111.6 L272.4 111.6 L272.5 111.6 L273.2 111.4 L273.6 111.3 L273.8 111.1 L274.0 111.1 L274.4 111.1 L275.3 110.9 L275.7 110.5 L275.9 110.1 L276.3 109.7 L276.4 109.0 L276.9 108.3 L277.2 109.0 L277.6 108.8 L277.3 108.4 L277.5 108.0 L277.9 108.2 L278.0 107.6 L278.4 107.3 L278.6 106.9 L279.0 106.8 L279.0 106.6 L279.3 106.6 L279.3 106.5 L280.1 106.2 L280.7 106.6 L281.2 107.1 L281.6 107.1 L282.1 107.2 L281.9 106.7 L282.3 106.1 L282.6 105.9 L282.6 105.7 L282.9 105.2 L283.3 105.0 L283.7 105.1 L284.4 104.9 L284.4 104.5 L283.8 104.3 L284.3 104.1 L284.8 104.4 L285.2 104.7 L285.9 104.8 L286.1 104.8 L286.6 105.0 L287.0 104.8 L287.3 104.8 L287.5 104.8 L287.9 105.1 L287.7 105.5 L287.3 105.8 L287.1 105.8 L287.2 106.2 L287.0 106.6 L286.6 106.9 L286.7 107.2 L287.3 107.6 L288.0 107.9 L288.4 108.1 L288.9 108.6 L289.1 108.6 L289.5 108.8 L289.7 109.1 L290.4 109.3 L290.9 109.1 L291.1 108.6 L291.3 108.3 L291.3 107.8 L291.6 107.2 L291.5 106.9 L291.4 106.2 L291.6 105.5 L291.7 105.4 L291.6 105.1 L291.7 104.8 L291.9 104.3 L291.9 104.0 L292.2 103.8Z M293.9 127.3 L295.3 127.6 L296.8 127.5 L296.8 128.4 L296.5 129.0 L296.1 129.3 L295.7 129.6 L294.9 129.5 L294.5 128.9 L294.4 128.3 L293.9 127.7 L293.9 127.3Z M316.1 122.4 L316.5 122.8 L317.1 123.1 L317.4 123.8 L317.9 124.6 L318.0 124.0 L318.3 124.2 L318.5 124.9 L319.6 125.2 L320.0 124.9 L320.4 124.9 L320.3 125.7 L320.0 126.1 L319.4 126.0 L319.2 126.3 L319.2 126.7 L318.5 127.8 L317.8 128.1 L317.8 127.8 L317.4 127.8 L317.8 127.1 L317.6 126.7 L316.7 126.4 L316.8 126.0 L317.4 125.8 L317.4 125.2 L317.4 124.7 L317.1 124.2 L317.1 124.0 L316.7 123.7 L316.2 123.0 L315.8 122.4 L316.1 122.4Z M316.0 127.1 L316.2 127.8 L317.1 127.8 L317.1 128.2 L316.8 128.5 L316.3 129.1 L315.9 129.4 L316.2 129.8 L315.6 129.8 L314.9 130.0 L314.7 130.6 L314.2 131.4 L313.6 131.8 L313.2 131.9 L312.5 131.9 L312.0 131.7 L311.2 131.6 L311.0 131.4 L311.4 130.7 L312.4 130.0 L312.9 129.8 L313.5 129.6 L314.2 129.1 L314.6 128.7 L315.0 128.2 L315.3 127.9 L315.4 127.5 L315.4 127.5 L316.0 127.1Z M219.3 105.2 L219.5 105.5 L219.8 106.1 L219.9 107.0 L220.1 107.3 L220.0 107.7 L219.9 108.0 L219.6 107.5 L219.5 107.7 L219.6 108.4 L219.5 108.7 L219.3 108.8 L219.2 109.5 L218.9 110.4 L218.5 111.5 L218.0 113.0 L217.7 114.1 L217.4 114.9 L216.8 115.2 L216.1 115.5 L215.6 115.2 L215.0 115.0 L214.8 114.6 L214.8 113.9 L214.4 113.3 L214.4 112.7 L214.5 112.1 L214.9 112.0 L214.9 111.7 L215.3 111.2 L215.4 110.6 L215.1 110.3 L215.0 109.8 L215.0 109.1 L215.2 108.7 L215.3 108.1 L215.7 108.1 L216.2 107.9 L216.5 107.8 L216.8 107.8 L217.3 107.3 L217.9 106.9 L218.1 106.5 L218.0 106.2 L218.4 106.2 L218.8 105.7 L218.8 105.2 L219.1 104.8 L219.3 105.2Z M205.8 68.0 L206.4 67.7 L207.6 67.5 L207.1 67.9 L207.2 68.3 L206.1 68.4 L205.8 68.0Z M198.9 67.8 L199.5 67.7 L201.1 67.8 L201.0 68.0 L199.9 68.1 L198.9 67.8Z M192.7 65.5 L192.3 66.8 L191.7 66.5 L190.7 66.0 L190.2 66.0 L190.4 65.6 L191.2 65.7 L192.7 65.5Z M187.7 63.2 L188.2 63.7 L188.1 64.8 L187.7 64.8 L187.4 65.0 L187.1 64.8 L187.1 63.8 L186.9 63.4 L187.7 63.2Z M188.0 62.4 L187.7 63.0 L187.4 62.9 L187.2 62.3 L187.9 61.8 L188.0 62.4Z M150.5 137.7 L152.0 137.9 L152.4 138.3 L151.0 137.9 L150.5 137.7Z M58.2 79.9 L59.0 80.3 L58.3 80.5 L58.2 79.9Z M309.1 111.2 L310.2 112.0 L311.5 112.8 L311.1 113.0 L309.7 112.0 L309.1 111.2Z M320.3 109.0 L320.6 109.5 L319.6 109.7 L319.6 109.1 L320.3 109.0Z M311.6 107.9 L312.0 108.4 L311.6 107.2 L311.1 106.9 L311.6 107.9Z M84.5 35.6 L86.8 36.0 L89.2 35.5 L88.8 34.9 L86.8 34.9 L84.5 35.3 L84.5 35.6Z M91.9 34.5 L94.3 34.9 L97.0 34.6 L94.7 34.3 L91.9 34.5Z M93.1 34.0 L94.7 34.2 L95.4 33.8 L93.9 33.7 L93.1 34.0Z M99.0 34.3 L101.7 34.5 L102.9 34.2 L101.7 33.5 L99.8 33.6 L99.0 34.3Z M104.1 34.5 L105.6 34.5 L105.2 34.0 L103.8 34.1 L104.1 34.5Z M104.9 36.8 L107.2 37.1 L107.6 36.4 L106.0 36.3 L104.9 36.8Z M117.0 38.1 L120.1 38.5 L120.5 37.9 L118.2 37.7 L117.0 38.1Z M102.5 41.5 L104.1 41.8 L105.2 41.3 L104.1 40.8 L102.9 41.0 L102.5 41.5Z" fill="#fff" fill-rule="evenodd" stroke="#fff" stroke-width="2.6" stroke-linejoin="round"/>
<path id="coast" d="M57.6 39.6 L61.3 40.0 L64.5 40.4 L68.4 40.6 L70.0 41.0 L73.1 41.4 L74.7 41.0 L77.0 40.9 L79.4 40.7 L80.6 40.3 L82.5 41.0 L84.9 40.8 L88.8 41.5 L90.7 42.0 L92.7 42.4 L94.3 42.2 L95.8 42.0 L97.4 41.5 L99.0 42.2 L101.3 42.4 L103.7 42.4 L105.2 42.0 L106.4 41.0 L105.6 39.9 L106.8 39.2 L108.0 40.3 L108.8 41.0 L110.7 41.6 L111.9 42.5 L113.1 41.8 L113.9 40.8 L115.8 41.0 L116.6 41.8 L116.6 42.8 L115.4 43.5 L113.5 43.4 L112.3 44.4 L111.1 45.3 L109.6 45.7 L108.8 46.3 L107.2 47.3 L106.4 48.5 L106.4 49.4 L107.8 50.7 L109.6 50.7 L111.5 51.4 L113.9 52.2 L116.0 52.3 L116.1 54.0 L116.6 54.7 L117.8 55.3 L118.6 54.9 L118.8 53.6 L118.4 52.5 L120.0 51.6 L120.5 50.4 L119.7 49.4 L119.1 48.1 L119.6 47.3 L119.3 46.7 L121.3 46.8 L123.3 46.8 L124.8 47.5 L126.0 47.8 L126.0 48.9 L126.8 49.6 L127.8 49.9 L128.8 49.4 L129.5 48.6 L129.9 48.2 L130.7 49.3 L131.9 50.4 L132.4 51.5 L133.9 52.2 L135.4 52.8 L136.6 53.6 L136.8 54.5 L135.9 55.2 L134.6 55.4 L133.5 56.2 L131.9 56.2 L129.9 56.1 L128.4 56.3 L126.8 56.9 L125.8 57.8 L124.7 58.7 L125.6 58.3 L126.8 57.5 L128.4 57.0 L129.9 57.2 L130.2 57.6 L129.2 58.0 L129.7 58.7 L130.1 59.3 L131.9 59.6 L132.7 60.0 L131.5 60.4 L130.3 60.8 L129.0 61.3 L128.7 60.8 L129.9 60.0 L128.8 60.1 L127.8 60.5 L126.8 60.8 L125.6 61.2 L125.1 61.9 L125.2 62.6 L125.6 62.7 L125.2 63.0 L124.1 63.1 L122.6 63.5 L122.5 63.7 L122.4 64.4 L121.8 65.0 L121.5 65.2 L121.6 65.5 L121.2 66.1 L120.9 66.4 L121.0 66.9 L121.3 67.8 L120.5 68.2 L119.7 68.5 L119.0 68.9 L118.4 69.5 L117.5 70.0 L116.8 70.7 L116.7 71.7 L117.0 72.6 L117.3 73.3 L117.6 74.2 L117.7 75.2 L117.5 75.7 L116.9 75.7 L116.5 75.2 L116.1 74.5 L115.7 73.7 L115.6 73.1 L115.0 72.1 L114.3 72.0 L113.6 72.2 L112.7 71.6 L111.5 71.6 L110.6 71.7 L110.4 72.5 L109.6 72.7 L108.8 72.4 L107.0 72.2 L106.2 72.5 L104.9 73.3 L104.2 73.9 L104.3 75.1 L104.0 76.3 L103.8 77.8 L104.2 79.0 L104.9 80.2 L105.4 80.7 L106.4 81.2 L108.0 80.9 L108.9 80.9 L109.6 79.9 L109.7 79.0 L111.1 78.6 L112.3 78.6 L112.0 79.6 L111.8 80.3 L111.5 81.0 L111.3 81.7 L111.3 82.8 L110.8 83.0 L111.9 83.1 L113.1 82.9 L114.3 83.1 L115.3 83.7 L115.1 84.5 L115.0 85.7 L114.9 86.8 L115.4 87.6 L116.1 88.2 L116.7 88.6 L117.8 88.2 L118.2 87.9 L119.0 88.1 L119.8 88.6 L120.3 88.7 L120.8 88.1 L121.2 87.3 L121.9 86.8 L122.3 86.6 L123.1 86.6 L123.9 86.1 L124.1 86.5 L124.5 86.9 L124.2 87.3 L124.4 88.3 L124.8 87.8 L124.7 86.9 L125.5 86.4 L125.6 85.9 L125.9 86.4 L127.0 87.1 L128.0 87.1 L128.8 87.4 L129.9 87.5 L130.7 87.1 L132.0 87.1 L131.4 87.4 L132.3 88.0 L133.0 88.8 L133.6 88.9 L134.2 89.4 L135.0 90.1 L135.7 90.7 L137.0 90.8 L138.2 91.1 L139.1 91.3 L140.1 92.2 L140.5 92.6 L141.0 94.0 L141.4 94.2 L140.8 95.3 L141.7 95.8 L142.5 96.2 L143.3 95.9 L144.8 96.5 L145.6 97.4 L146.5 97.3 L148.0 97.7 L149.3 97.7 L150.3 98.3 L151.3 99.2 L152.7 99.4 L153.0 100.1 L153.2 101.3 L153.0 102.5 L152.3 103.5 L151.3 104.2 L150.6 105.3 L150.0 106.2 L149.9 107.6 L149.8 109.0 L149.4 110.3 L148.9 111.3 L148.4 112.6 L147.6 113.4 L146.3 113.5 L145.5 113.8 L144.2 114.2 L143.2 114.9 L142.5 115.9 L142.4 117.5 L141.5 118.4 L140.8 119.6 L139.6 120.6 L138.6 121.8 L138.2 122.5 L136.9 122.7 L135.8 122.4 L134.7 122.1 L134.7 122.5 L135.7 123.1 L135.5 123.9 L136.1 124.0 L135.3 125.3 L134.1 125.7 L132.5 125.9 L131.7 125.8 L131.8 126.7 L131.7 127.2 L130.5 127.6 L129.5 127.5 L129.5 128.4 L130.6 128.8 L130.0 129.0 L129.5 129.4 L129.3 130.3 L128.4 130.7 L127.7 131.1 L127.5 131.7 L128.3 132.2 L129.0 132.4 L128.8 133.1 L127.8 133.6 L127.4 134.5 L126.6 134.8 L126.3 135.4 L126.7 136.4 L126.0 136.5 L125.0 136.8 L124.8 137.5 L123.6 137.3 L122.5 136.5 L121.6 135.8 L121.3 134.9 L121.2 133.6 L121.9 132.8 L121.2 131.9 L121.9 131.3 L122.3 130.0 L123.1 129.6 L123.0 128.5 L122.7 127.1 L122.9 125.4 L122.8 124.6 L123.6 123.2 L124.2 122.0 L124.5 120.8 L124.3 119.6 L124.5 118.1 L124.9 117.0 L125.2 115.4 L125.3 113.9 L125.5 112.2 L125.5 110.9 L125.3 109.8 L124.5 109.4 L123.7 108.7 L122.6 108.0 L121.6 107.4 L120.9 106.9 L120.6 106.2 L120.1 105.0 L119.3 103.6 L118.6 102.0 L117.9 101.1 L116.8 100.2 L117.1 99.9 L116.7 99.1 L117.5 98.1 L117.9 97.6 L117.6 97.5 L117.0 97.2 L117.2 96.2 L117.7 95.0 L118.2 94.7 L118.7 94.1 L119.3 93.4 L119.9 92.5 L119.9 91.9 L119.8 91.1 L119.7 90.2 L119.4 89.8 L119.2 88.9 L118.7 88.9 L118.1 88.5 L117.5 88.9 L117.5 89.7 L117.0 89.5 L116.6 89.2 L115.6 88.9 L114.9 88.4 L114.2 87.9 L113.8 87.9 L113.2 87.5 L113.3 86.8 L112.7 86.2 L111.8 85.3 L111.9 85.0 L110.9 85.0 L109.9 84.6 L109.0 84.6 L108.2 84.1 L107.3 83.2 L106.3 82.8 L104.8 83.2 L103.7 82.8 L102.3 82.4 L100.9 81.6 L99.4 81.1 L98.6 80.6 L97.8 79.8 L98.0 78.9 L97.7 78.2 L97.4 77.6 L96.7 76.8 L95.8 75.9 L94.8 75.4 L94.7 74.5 L93.8 73.6 L93.3 73.5 L92.5 72.7 L91.8 71.6 L91.8 71.0 L90.5 70.6 L90.6 71.8 L91.5 72.8 L92.1 73.7 L92.5 74.5 L93.3 75.3 L93.7 76.4 L94.4 77.1 L94.4 77.4 L94.0 77.1 L93.3 76.3 L92.5 75.9 L92.6 75.2 L91.5 74.5 L90.7 74.1 L91.0 73.4 L90.0 72.3 L89.0 70.9 L88.7 70.0 L88.5 69.5 L87.7 69.0 L87.6 68.8 L86.7 68.5 L86.0 68.4 L86.0 67.9 L85.1 67.1 L84.9 66.5 L84.5 65.9 L84.0 65.5 L83.5 64.8 L83.0 63.9 L83.2 63.0 L82.9 61.9 L83.2 61.2 L83.4 59.8 L83.3 58.7 L82.7 57.6 L84.0 57.9 L84.4 58.6 L84.6 57.5 L84.1 57.1 L83.3 56.6 L82.5 56.0 L81.7 55.5 L80.6 55.0 L80.3 54.3 L79.4 53.7 L78.4 52.9 L78.2 52.4 L77.3 51.6 L76.6 50.8 L75.5 49.9 L74.7 49.3 L73.5 49.8 L72.5 49.7 L71.5 48.9 L70.5 48.7 L69.3 48.4 L67.7 48.5 L66.1 48.1 L65.2 47.8 L64.3 47.9 L64.5 48.5 L63.2 48.7 L62.1 49.0 L61.4 49.1 L61.6 47.9 L62.7 47.5 L62.1 47.5 L60.9 48.3 L59.8 48.9 L60.3 49.3 L59.5 50.0 L58.0 50.5 L56.9 51.1 L55.4 51.9 L54.1 52.1 L52.6 52.6 L51.3 52.9 L52.5 52.3 L53.7 51.7 L54.8 51.3 L56.3 50.7 L57.0 49.8 L57.6 49.4 L56.5 49.6 L55.3 49.3 L54.0 49.5 L53.5 49.0 L53.1 48.5 L51.9 48.2 L50.9 48.1 L50.8 47.6 L50.3 47.3 L50.7 46.8 L51.5 46.4 L51.5 46.1 L52.7 46.1 L53.9 45.7 L54.5 45.2 L53.9 45.0 L54.5 44.7 L53.1 44.9 L52.3 44.9 L50.9 45.0 L50.1 44.8 L48.7 44.0 L49.8 43.7 L51.6 43.3 L52.2 43.3 L53.1 43.5 L53.7 43.7 L52.3 42.9 L51.6 42.5 L50.8 42.2 L49.7 41.9 L50.2 41.5 L51.6 41.5 L52.6 41.1 L53.6 40.4 L55.9 39.9 L57.4 39.7 L57.6 39.6 M143.8 30.8 L150.7 30.1 L158.6 30.1 L164.2 30.7 L162.7 31.0 L159.7 31.0 L155.5 31.1 L159.0 31.7 L166.4 31.7 L170.2 32.0 L168.3 32.4 L167.2 33.0 L165.4 34.0 L165.1 34.7 L166.0 35.2 L163.5 35.5 L165.1 35.9 L165.3 36.6 L164.3 36.6 L165.3 37.3 L163.6 37.4 L164.5 37.7 L163.4 38.2 L162.0 38.1 L163.0 38.6 L161.1 38.9 L163.2 39.5 L163.4 40.1 L162.1 40.3 L160.5 39.6 L160.7 40.0 L159.8 40.5 L163.0 40.6 L158.8 41.8 L155.6 42.1 L153.7 43.2 L152.0 43.9 L149.3 44.2 L148.6 45.3 L148.6 46.1 L146.9 46.4 L147.3 47.0 L146.5 48.4 L145.4 48.5 L144.2 47.8 L142.6 47.8 L141.9 47.4 L141.4 46.6 L140.1 45.7 L139.7 45.1 L139.5 44.4 L138.4 43.7 L138.7 43.2 L138.6 42.8 L139.0 41.9 L140.1 41.7 L140.4 41.4 L140.6 40.7 L139.3 41.1 L137.6 41.0 L137.9 40.0 L140.2 40.2 L138.9 39.7 L137.4 39.6 L137.6 38.6 L136.5 37.8 L135.6 37.0 L134.6 36.7 L134.6 36.3 L132.4 35.9 L130.8 35.8 L128.7 35.9 L126.8 35.9 L125.9 35.6 L124.5 35.2 L126.6 34.9 L128.1 34.9 L124.8 34.7 L123.0 34.4 L123.1 34.1 L126.1 33.7 L129.0 33.3 L129.3 33.0 L127.2 32.7 L127.8 32.4 L130.6 31.9 L131.7 31.8 L131.4 31.4 L133.2 31.3 L135.7 31.1 L138.1 31.1 L139.0 31.3 L141.0 30.9 L143.0 31.2 L143.8 30.8 M118.2 38.5 L119.7 38.5 L121.2 38.9 L122.3 39.2 L123.9 39.4 L124.7 39.9 L126.6 40.3 L127.3 40.6 L128.1 41.3 L126.6 41.7 L128.4 42.1 L129.6 42.4 L130.8 43.1 L132.0 43.1 L131.7 43.6 L130.4 44.6 L129.5 44.3 L128.2 43.5 L127.2 43.5 L127.1 44.0 L127.9 44.5 L129.0 44.9 L129.3 45.0 L129.8 45.8 L129.6 46.4 L128.5 46.2 L126.6 45.6 L127.7 46.2 L128.5 46.7 L128.6 47.0 L126.5 46.7 L124.8 46.2 L123.9 45.8 L124.1 45.6 L121.9 44.8 L121.9 45.0 L119.6 45.2 L118.9 44.9 L119.4 44.3 L120.9 44.3 L122.6 44.2 L122.3 43.9 L122.6 43.5 L123.5 42.8 L123.4 42.5 L123.0 42.1 L121.9 41.7 L120.2 41.5 L120.8 41.4 L119.9 40.8 L119.2 40.8 L118.6 40.5 L118.2 40.7 L116.8 40.9 L113.9 40.7 L112.2 40.4 L111.0 40.3 L110.3 40.0 L111.1 39.7 L110.0 39.7 L109.8 38.9 L110.4 38.2 L111.2 37.9 L113.2 37.7 L112.6 38.1 L113.2 38.7 L113.9 38.1 L116.0 37.7 L117.3 38.5 L117.2 39.0 L118.7 38.8 L118.2 38.5 M101.8 38.5 L100.2 38.7 L98.0 37.8 L96.7 37.9 L95.7 38.1 L95.7 39.3 L94.9 39.1 L92.6 38.9 L91.0 38.2 L90.0 38.2 L87.7 38.7 L87.1 39.4 L87.8 40.1 L88.4 40.5 L90.8 40.6 L92.4 40.3 L89.2 41.3 L91.2 41.5 L94.3 41.6 L97.3 41.3 L98.6 41.7 L100.2 41.6 L100.9 41.0 L99.6 40.3 L98.8 39.9 L97.5 39.7 L98.3 39.0 L99.8 39.0 L101.8 38.5 M86.0 39.6 L88.4 38.7 L88.4 37.4 L85.1 37.2 L82.6 37.3 L81.8 39.2 L83.4 39.9 L86.0 39.6 M113.2 33.4 L112.1 33.6 L110.7 34.2 L109.3 34.2 L107.7 34.2 L106.9 33.8 L107.3 33.3 L106.1 33.3 L105.2 33.1 L104.7 32.7 L105.8 32.1 L106.6 32.0 L106.3 31.9 L108.1 31.8 L109.1 32.3 L111.7 32.6 L112.3 33.1 L113.2 33.4 M117.7 35.6 L119.4 35.2 L118.3 34.9 L120.1 34.4 L121.4 34.0 L120.5 33.6 L123.4 33.5 L125.8 32.5 L130.3 31.5 L132.6 30.9 L130.3 30.6 L126.0 30.4 L119.1 30.6 L113.5 30.9 L111.4 31.1 L108.8 31.4 L110.5 32.1 L113.1 32.7 L112.7 33.1 L113.5 34.0 L111.5 34.5 L110.6 35.0 L111.8 35.0 L114.0 34.8 L117.7 35.6 M117.3 35.8 L118.1 36.8 L116.3 37.2 L111.4 37.2 L108.1 36.9 L107.7 36.0 L109.9 35.6 L113.2 35.6 L117.3 35.8 M107.4 38.5 L106.6 39.1 L105.7 39.0 L105.2 38.0 L106.4 37.4 L109.6 37.6 L107.4 38.5 M104.7 39.3 L103.4 39.6 L100.2 38.7 L101.1 38.5 L101.9 37.7 L104.4 37.9 L104.7 39.3 M97.9 36.0 L95.7 35.8 L93.3 36.3 L90.8 36.0 L88.2 35.9 L88.8 36.5 L92.7 37.1 L95.1 36.8 L97.0 37.1 L97.9 36.0 M104.6 35.0 L102.0 35.3 L102.1 36.3 L104.1 36.8 L106.3 36.3 L104.6 35.0 M112.6 45.2 L114.3 45.9 L116.5 45.0 L115.1 44.5 L113.7 44.1 L111.6 45.0 L112.6 45.2 M105.2 32.9 L107.0 33.3 L108.4 32.5 L108.8 31.7 L106.0 31.8 L104.5 32.4 L105.2 32.9 M133.9 58.2 L134.2 57.6 L134.7 57.0 L135.5 55.8 L136.1 55.3 L137.1 55.1 L136.9 55.6 L136.4 56.2 L137.0 56.4 L137.8 56.6 L138.6 56.9 L138.9 57.3 L138.5 57.7 L139.3 58.3 L138.9 58.9 L138.0 58.8 L138.2 58.2 L137.2 58.7 L136.4 58.2 L135.6 58.2 L133.9 58.2 M79.8 55.7 L80.7 55.9 L82.0 56.1 L82.7 56.7 L83.5 57.2 L83.8 57.6 L82.8 57.5 L82.0 57.2 L81.0 56.6 L80.2 56.2 L79.8 55.7 M76.5 53.2 L77.2 53.1 L77.7 54.6 L76.9 54.6 L76.2 53.7 L76.5 53.2 M113.9 78.3 L114.3 78.1 L115.2 77.6 L116.3 77.4 L117.3 77.4 L118.3 77.9 L119.1 77.8 L120.1 78.5 L120.9 78.8 L122.3 79.6 L121.8 79.8 L120.1 79.9 L119.7 79.2 L119.0 79.0 L118.0 78.4 L116.4 78.1 L115.6 77.7 L114.6 78.3 L113.9 78.3 M122.2 81.1 L123.4 81.3 L124.3 81.5 L124.8 81.1 L125.6 81.0 L126.6 81.2 L127.0 80.9 L126.3 80.6 L125.7 80.1 L124.4 79.9 L123.4 79.9 L123.0 80.1 L123.4 80.5 L123.7 80.9 L122.2 81.1 M119.1 81.0 L119.7 81.0 L120.7 81.3 L120.2 81.4 L119.5 81.4 L119.1 81.0 M127.8 81.0 L129.1 81.1 L128.9 81.4 L127.8 81.4 L127.8 81.0 M126.7 136.6 L127.5 137.6 L128.4 138.1 L129.5 138.5 L128.4 138.6 L127.0 139.0 L125.7 138.6 L124.5 138.5 L123.0 137.8 L124.2 137.5 L125.4 136.9 L126.3 136.8 L126.7 136.6 M132.5 136.1 L133.8 135.5 L135.3 135.7 L134.6 136.1 L132.5 136.1 M176.1 67.3 L175.6 66.9 L174.6 66.4 L173.4 66.5 L173.6 65.5 L173.1 65.2 L173.4 64.3 L173.6 63.2 L173.5 62.4 L173.2 61.8 L174.2 61.2 L175.8 61.3 L177.5 61.4 L179.1 61.5 L179.5 60.5 L179.6 59.4 L178.8 58.6 L178.1 58.2 L177.0 58.0 L176.9 57.3 L177.9 57.2 L178.9 57.4 L179.4 57.3 L179.0 56.5 L179.6 56.8 L180.6 56.8 L181.5 56.2 L181.8 55.6 L182.5 55.4 L183.2 55.3 L183.7 54.8 L184.2 54.0 L184.7 53.8 L186.0 53.6 L186.8 53.6 L187.4 53.2 L187.2 52.5 L186.8 52.0 L186.8 51.2 L187.2 50.7 L188.3 50.4 L188.8 50.3 L188.5 50.9 L188.7 51.1 L189.0 51.3 L188.0 52.0 L188.3 52.5 L189.0 52.9 L190.0 53.0 L191.3 53.0 L191.6 53.3 L193.4 52.8 L195.1 52.6 L195.9 52.9 L196.9 52.2 L197.0 51.6 L197.0 51.0 L197.4 50.5 L198.1 50.2 L198.8 50.8 L199.4 50.8 L199.5 50.2 L198.8 49.6 L198.8 49.1 L199.8 48.9 L200.8 48.8 L202.4 48.9 L203.3 48.5 L202.5 48.1 L201.1 48.2 L199.7 48.4 L198.5 48.6 L198.0 48.2 L197.2 47.9 L197.4 47.1 L197.0 46.4 L197.4 46.0 L198.1 45.5 L199.9 44.6 L200.4 44.5 L200.3 44.2 L199.2 43.8 L197.9 44.0 L197.1 44.6 L197.3 45.0 L196.0 45.7 L194.5 46.4 L193.9 47.5 L194.5 48.0 L195.2 48.4 L194.5 49.3 L193.7 49.5 L193.4 50.8 L193.0 51.5 L192.0 51.5 L191.6 52.1 L190.6 52.1 L190.4 51.4 L189.7 50.5 L189.1 49.3 L188.7 48.9 L187.1 49.8 L186.0 50.0 L185.0 49.6 L184.7 48.7 L184.4 47.7 L185.1 46.4 L187.2 45.7 L188.7 45.0 L190.2 43.9 L192.1 42.4 L193.4 41.7 L195.6 40.8 L197.3 40.4 L198.5 40.5 L199.7 39.9 L201.2 39.9 L202.6 39.7 L205.0 40.3 L204.0 40.5 L204.9 41.0 L205.7 40.7 L207.0 41.2 L209.1 41.4 L212.1 42.3 L212.7 42.6 L212.7 43.2 L211.9 43.5 L210.6 43.8 L207.1 43.2 L206.2 43.0 L207.8 43.9 L207.9 45.0 L209.5 45.5 L209.6 45.1 L209.1 44.7 L209.7 44.5 L211.5 45.0 L212.2 44.7 L211.7 44.2 L213.5 43.4 L214.9 43.7 L215.4 43.2 L214.8 42.7 L215.1 42.2 L214.6 41.7 L216.8 42.0 L217.2 42.5 L216.2 42.5 L216.8 43.2 L218.0 43.1 L218.2 42.6 L219.9 42.2 L222.6 41.5 L223.2 41.6 L222.4 42.1 L223.4 42.1 L223.9 41.9 L225.4 41.8 L226.6 41.5 L227.5 42.0 L228.4 41.5 L227.5 41.0 L228.0 40.7 L230.3 41.0 L231.4 41.3 L234.2 42.1 L234.7 41.7 L234.0 41.4 L233.9 41.1 L232.9 41.0 L233.3 40.7 L232.8 40.1 L232.8 39.9 L234.2 39.2 L234.7 38.5 L235.3 38.3 L237.4 38.5 L237.6 38.9 L236.8 39.6 L237.3 39.8 L237.6 40.3 L237.4 41.4 L238.3 41.9 L237.9 42.5 L236.4 43.5 L237.3 43.6 L237.6 43.4 L238.4 43.2 L238.7 42.8 L239.4 42.4 L238.9 42.0 L239.2 41.4 L238.4 41.4 L238.2 41.0 L238.8 40.2 L237.8 39.6 L239.2 39.0 L239.1 38.5 L239.4 38.4 L239.8 38.9 L239.5 39.6 L240.4 39.7 L240.0 39.2 L241.3 38.9 L243.0 38.9 L244.4 39.2 L243.7 38.6 L243.6 37.8 L245.0 37.6 L246.9 37.7 L248.5 37.6 L247.9 37.1 L248.9 36.7 L249.7 36.7 L251.3 36.3 L253.3 36.1 L253.6 36.0 L255.7 35.9 L256.3 36.0 L258.0 35.6 L259.5 35.6 L259.7 35.3 L260.5 34.9 L262.3 34.6 L263.7 34.9 L262.6 35.1 L263.7 35.6 L264.5 35.6 L265.3 35.4 L267.6 35.4 L269.3 35.8 L269.9 36.1 L269.8 36.5 L268.9 36.7 L266.9 37.1 L266.3 37.4 L267.2 37.5 L268.4 37.7 L269.1 37.5 L269.5 38.1 L269.9 37.8 L271.1 37.7 L273.6 37.8 L273.8 38.2 L277.1 38.3 L277.2 37.8 L278.8 37.8 L280.0 37.8 L281.3 38.3 L281.7 38.8 L281.2 39.1 L282.2 39.7 L283.4 40.0 L284.2 39.2 L285.5 39.6 L286.8 39.3 L288.3 39.6 L288.8 39.4 L290.2 39.5 L289.5 38.8 L290.6 38.5 L297.7 38.9 L298.4 39.4 L300.4 40.0 L303.6 39.9 L305.1 39.9 L305.8 40.3 L305.7 40.9 L306.6 41.1 L307.7 41.0 L309.1 40.9 L310.5 41.0 L312.0 41.0 L313.4 41.7 L314.4 41.4 L313.8 40.9 L314.2 40.6 L316.6 40.8 L318.2 40.7 L320.5 41.1 L321.6 41.4 M39.4 41.4 L41.3 42.1 L43.4 42.8 L43.3 43.3 L43.9 43.5 L44.1 43.1 L45.7 43.1 L47.3 43.8 L46.5 44.2 L45.3 44.3 L45.2 45.0 L44.2 45.1 L43.3 45.1 L42.4 44.3 L40.7 44.3 L39.4 44.6 M321.6 44.6 L320.6 45.0 L319.6 44.9 L320.3 45.3 L320.7 45.9 L321.1 46.4 L321.0 46.7 L319.6 46.5 L317.4 47.1 L316.7 47.1 L315.5 47.7 L314.3 48.2 L314.0 48.6 L312.9 48.0 L310.9 48.6 L310.5 48.3 L309.8 48.7 L308.7 48.6 L308.4 49.1 L307.5 49.9 L307.6 50.2 L308.4 50.4 L308.4 51.5 L307.6 51.5 L307.3 52.2 L307.6 52.5 L306.2 52.9 L305.9 53.8 L304.7 54.0 L304.5 54.8 L303.4 55.5 L303.1 55.0 L302.8 53.8 L302.3 52.1 L302.7 51.0 L303.4 50.5 L303.4 50.2 L304.7 50.0 L306.1 49.0 L307.4 48.2 L308.8 47.6 L309.4 46.4 L308.5 46.5 L308.0 47.2 L306.0 48.1 L305.4 47.1 L303.3 47.4 L301.4 48.6 L302.0 49.2 L300.3 49.3 L299.1 49.4 L299.1 48.9 L297.9 48.7 L296.9 49.1 L294.6 49.0 L292.0 49.3 L289.4 50.7 L286.4 52.6 L287.7 52.7 L288.0 53.2 L288.8 53.3 L289.3 52.9 L290.2 53.0 L291.3 53.9 L291.3 54.6 L290.7 55.4 L290.6 56.3 L290.3 57.6 L289.1 58.7 L288.8 59.2 L287.8 60.1 L286.7 61.0 L286.2 61.5 L285.1 61.9 L284.7 61.9 L284.2 61.6 L283.0 62.4 L282.9 62.3 L282.4 62.6 L282.2 63.4 L282.2 63.4 L281.8 63.6 L281.6 63.7 L281.3 64.0 L280.8 64.1 L280.4 64.3 L280.4 64.7 L280.4 64.8 L281.1 65.2 L281.8 66.2 L282.0 66.6 L282.0 67.6 L281.7 68.0 L281.0 68.0 L280.4 68.4 L279.7 68.5 L279.6 68.1 L279.7 67.5 L279.3 66.7 L280.0 66.6 L279.4 65.9 L279.0 65.8 L278.6 65.9 L278.8 65.8 L278.3 65.6 L278.6 65.2 L278.6 65.1 L278.8 64.6 L278.7 64.4 L278.3 64.4 L277.9 64.2 L276.8 64.4 L276.2 64.8 L275.4 65.0 L275.8 64.6 L275.7 64.3 L276.3 63.8 L275.8 63.4 L275.2 63.7 L274.3 64.2 L273.8 64.7 L273.0 64.8 L272.6 65.2 L273.1 65.6 L273.7 65.8 L273.7 66.2 L274.3 66.3 L275.2 65.8 L275.9 66.1 L276.4 66.1 L276.5 66.6 L275.4 66.7 L275.0 67.2 L274.3 67.6 L273.9 68.1 L274.7 68.5 L275.0 69.3 L275.5 70.0 L276.1 70.6 L276.1 71.3 L275.6 71.4 L275.7 71.9 L276.2 72.1 L275.9 73.4 L275.4 73.4 L274.9 74.2 L274.3 75.3 L273.5 76.2 L272.5 77.0 L271.4 77.6 L270.5 77.7 L270.0 78.1 L269.7 77.8 L269.2 78.1 L268.1 78.5 L267.4 78.7 L267.0 79.6 L266.6 79.6 L266.4 79.0 L266.6 78.7 L265.6 78.5 L265.2 78.5 L264.4 78.4 L264.1 79.0 L263.5 79.9 L263.4 80.5 L263.9 81.4 L264.7 82.4 L265.4 82.8 L265.9 83.5 L266.2 85.0 L266.1 86.3 L265.5 86.8 L264.5 87.3 L263.9 88.0 L263.0 88.7 L262.7 88.2 L262.9 87.7 L262.3 87.2 L261.6 87.1 L261.3 86.7 L260.9 85.9 L260.7 85.0 L259.9 85.5 L259.5 85.6 L259.7 85.0 L259.0 85.0 L258.9 85.8 L258.3 87.6 L258.3 88.2 L258.8 88.2 L259.1 88.9 L259.3 89.6 L260.1 90.2 L260.5 90.6 L260.8 90.7 L261.2 91.1 L261.6 91.6 L261.6 92.2 L261.5 92.5 L261.6 92.8 L261.6 93.2 L261.9 93.5 L262.2 94.2 L262.2 94.4 L261.6 94.5 L260.9 93.9 L260.0 93.2 L259.9 92.9 L259.4 92.4 L259.4 91.7 L259.0 91.3 L259.1 90.7 L259.0 90.4 L258.7 90.1 L258.5 89.7 L258.1 89.3 L257.7 88.9 L257.6 89.3 L257.5 88.9 L257.6 88.4 L257.8 87.7 L257.7 87.1 L257.9 86.5 L257.6 86.0 L257.7 85.2 L257.4 84.8 L257.2 83.9 L257.0 82.8 L256.7 82.2 L256.1 82.6 L255.3 83.2 L254.8 83.1 L254.3 82.9 L254.6 81.9 L254.4 81.2 L253.8 80.3 L254.0 80.0 L253.5 79.9 L252.9 79.2 L252.7 78.8 L252.6 78.5 L252.5 78.1 L252.1 77.6 L251.4 77.6 L251.5 77.9 L251.3 78.4 L250.9 78.2 L250.8 78.3 L250.6 78.2 L250.3 78.1 L250.2 78.5 L249.6 78.5 L248.7 78.6 L248.7 79.2 L248.3 79.6 L247.2 80.2 L246.3 81.1 L245.7 81.6 L244.9 82.1 L244.9 82.4 L244.5 82.7 L243.8 82.9 L243.4 83.0 L243.2 83.6 L243.4 84.6 L243.4 85.3 L243.1 86.0 L243.1 87.3 L242.7 87.4 L242.3 88.0 L242.6 88.2 L241.9 88.5 L241.6 88.9 L241.3 89.2 L240.5 88.5 L240.2 87.4 L239.8 86.6 L239.6 86.2 L239.2 85.5 L239.0 84.5 L238.8 84.0 L238.1 82.9 L237.8 81.4 L237.6 80.4 L237.6 79.5 L237.4 78.7 L236.3 79.2 L235.8 79.1 L234.7 78.1 L235.1 77.8 L234.8 77.6 L234.0 76.9 L233.3 76.7 L233.1 76.1 L232.6 75.6 L231.1 75.7 L229.8 75.7 L228.7 75.8 L227.2 75.6 L226.4 75.4 L225.5 75.3 L225.2 74.3 L224.8 74.2 L224.2 74.3 L223.4 74.7 L222.4 74.5 L221.7 73.8 L220.9 73.6 L220.4 72.9 L219.8 71.9 L219.4 72.0 L218.8 71.7 L218.6 72.0 L218.1 72.0 L218.3 72.4 L218.2 72.5 L218.4 73.1 L218.8 73.8 L219.1 73.9 L219.3 74.2 L219.9 74.5 L219.8 75.2 L219.9 75.4 L220.1 75.6 L220.2 75.9 L220.3 76.0 L220.6 75.1 L220.9 75.2 L220.9 75.7 L220.8 76.2 L220.9 76.5 L221.1 76.7 L221.7 76.5 L222.8 76.6 L223.4 76.0 L223.9 75.6 L224.5 75.0 L224.7 74.8 L224.8 74.9 L224.7 75.2 L224.6 75.3 L224.7 76.0 L225.0 76.5 L225.5 76.7 L226.0 76.9 L226.5 77.0 L227.1 77.7 L227.4 77.8 L227.4 78.0 L227.0 78.7 L226.7 78.9 L226.4 79.5 L226.0 79.4 L225.8 79.6 L225.7 80.0 L225.8 80.5 L225.7 80.6 L225.3 80.6 L224.9 80.9 L224.8 81.3 L224.6 81.4 L224.2 81.4 L223.8 81.7 L223.8 82.0 L223.5 82.2 L223.0 82.1 L222.5 82.4 L222.1 82.4 L221.6 82.6 L221.4 83.0 L221.4 83.2 L220.6 83.5 L219.4 83.9 L218.7 84.5 L218.3 84.6 L218.0 84.5 L217.7 84.8 L217.1 85.0 L216.5 85.0 L216.2 85.0 L216.1 85.3 L215.9 85.3 L215.8 85.5 L215.4 85.5 L215.1 85.6 L214.6 85.6 L214.4 85.1 L214.4 84.6 L214.1 83.9 L213.9 83.5 L214.1 83.5 L214.0 83.2 L214.1 83.0 L214.1 82.7 L213.9 82.3 L213.7 82.1 L213.7 81.7 L213.3 81.5 L212.8 80.8 L212.6 80.2 L212.0 79.6 L211.7 79.6 L211.2 78.8 L211.1 77.8 L210.7 76.9 L210.3 76.6 L209.9 76.4 L209.7 76.0 L209.7 75.8 L209.4 75.4 L209.2 75.2 L208.9 74.6 L208.4 74.0 L208.0 73.4 L207.6 73.4 L207.8 73.1 L207.9 72.4 L207.6 73.0 L207.5 73.3 L207.3 73.7 L207.1 73.8 L206.8 73.5 L206.4 73.2 L206.1 72.1 L206.0 72.0 M176.1 67.3 L177.1 66.7 L178.9 66.7 L179.4 66.2 L180.0 66.0 L180.1 65.5 L180.6 65.2 L180.3 64.7 L180.6 64.1 L181.0 63.6 L181.8 63.2 L182.9 62.6 L183.0 61.9 L184.1 61.5 L184.9 61.6 L185.6 61.7 L186.3 61.2 L187.5 60.7 L188.3 61.0 L188.7 61.9 L189.3 62.3 L190.2 62.8 L191.2 63.2 L191.6 63.5 L192.6 64.1 L193.0 64.9 L192.8 65.5 L193.1 65.7 L193.9 65.0 L193.5 64.4 L194.0 63.9 L194.8 64.3 L195.0 64.0 L194.4 63.5 L193.7 63.2 L193.0 62.9 L193.0 62.6 L191.5 61.9 L190.4 60.9 L190.1 60.5 L190.2 59.9 L191.2 59.6 L191.2 60.1 L191.7 60.1 L192.2 60.6 L192.6 61.1 L193.5 61.6 L194.2 61.9 L195.0 62.2 L195.4 62.5 L195.7 62.6 L195.7 63.0 L195.8 63.4 L195.7 63.9 L196.3 64.4 L196.6 64.8 L197.0 65.5 L197.5 66.0 L197.4 66.6 L198.1 67.0 L198.4 66.6 L198.7 67.0 L198.6 65.8 L199.3 65.5 L198.8 64.9 L198.5 63.8 L199.1 63.6 L199.6 63.4 L200.4 63.4 L201.0 63.5 L201.0 63.7 L201.1 64.0 L201.4 64.1 L201.2 64.5 L201.5 64.9 L201.0 65.5 L201.9 65.9 L201.7 66.2 L202.4 66.6 L203.8 67.2 L204.5 66.7 L206.0 67.2 L207.7 66.6 L208.9 66.7 L208.6 67.0 L208.6 67.7 L208.3 68.4 L208.0 68.9 L208.0 69.5 L207.6 70.2 L207.4 71.0 L206.4 71.2 L205.7 70.9 L205.1 70.8 L204.1 70.8 L203.2 71.3 L202.1 71.0 L200.3 70.7 L199.3 70.4 L198.7 70.2 L198.5 69.9 L197.4 69.8 L196.3 70.2 L196.0 70.6 L195.5 71.7 L194.6 71.3 L192.8 70.9 L192.4 70.2 L191.4 69.8 L190.5 69.8 L189.5 69.5 L189.2 69.4 L189.0 69.0 L188.4 68.6 L189.0 68.2 L189.2 67.5 L189.0 67.0 L189.1 66.4 L188.5 66.3 L187.9 66.2 L187.1 66.5 L186.5 66.6 L185.4 66.4 L184.7 66.7 L183.0 66.6 L181.7 66.8 L180.9 67.0 L179.6 67.5 L178.8 67.9 L177.7 67.7 L176.9 67.8 L176.4 67.4 L175.9 67.4 L175.6 68.0 L175.1 68.8 L174.5 69.1 L173.7 69.5 L173.2 69.9 L173.1 70.4 L172.8 71.0 L173.0 71.6 L172.3 72.7 L171.3 73.4 L170.6 73.5 L170.2 73.8 L169.6 74.6 L169.2 74.9 L168.9 75.4 L168.9 75.8 L168.7 76.3 L168.0 76.9 L167.7 77.7 L167.4 78.2 L167.2 78.7 L167.3 79.0 L167.7 80.1 L167.9 81.3 L167.6 82.8 L167.1 83.8 L166.8 83.9 L167.3 84.6 L167.4 84.8 L167.3 85.1 L167.4 85.7 L167.9 86.4 L168.7 86.8 L169.0 87.1 L169.4 87.6 L170.1 88.0 L170.2 89.0 L170.8 89.7 L171.6 90.1 L172.5 90.7 L173.1 91.2 L174.6 92.1 L175.7 91.8 L176.0 91.5 L176.9 91.4 L177.9 91.5 L178.9 91.8 L179.6 91.5 L180.5 91.1 L181.4 90.8 L182.6 90.5 L183.3 90.5 L183.9 90.5 L185.1 92.1 L185.8 92.2 L186.4 92.0 L187.2 91.7 L187.5 92.3 L187.9 92.5 L188.2 93.0 L188.2 94.6 L187.8 95.2 L187.9 95.7 L187.4 96.1 L188.2 97.3 L189.2 98.6 L189.8 99.4 L190.1 100.2 L190.5 100.8 L190.8 101.5 L190.8 102.2 L191.0 102.7 L191.2 103.8 L191.3 104.8 L190.3 106.0 L189.7 108.5 L189.7 109.6 L190.5 110.9 L191.0 111.9 L191.8 113.2 L191.9 114.2 L192.0 115.3 L192.4 116.7 L193.3 117.8 L193.7 118.5 L194.3 119.5 L194.8 120.3 L194.9 121.3 L194.9 122.1 L195.9 122.7 L196.3 122.7 L197.4 122.3 L198.2 122.0 L199.9 122.1 L200.8 121.8 L201.2 121.7 L202.1 121.4 L202.6 121.1 L203.5 120.2 L204.5 119.2 L205.0 118.5 L205.7 118.0 L206.1 117.0 L206.3 115.9 L206.1 115.6 L206.4 115.3 L207.9 114.6 L208.3 114.3 L208.3 113.5 L208.2 112.5 L207.8 110.9 L208.1 110.8 L209.0 110.1 L209.8 109.2 L211.5 108.5 L212.5 106.9 L212.2 104.8 L212.1 103.5 L211.8 103.3 L211.2 102.1 L211.5 100.8 L210.8 100.1 L210.9 99.4 L211.2 99.1 L211.5 98.8 L212.1 97.5 L212.6 97.1 L213.1 96.8 L214.3 95.2 L215.1 94.4 L216.2 93.9 L217.0 93.2 L217.9 92.2 L218.6 91.3 L219.3 90.1 L219.8 89.1 L220.2 88.2 L220.5 87.1 L220.5 86.8 L220.5 86.7 L219.9 86.3 L219.1 86.5 L218.1 86.7 L217.0 87.0 L216.2 87.1 L215.5 87.3 L214.6 86.6 L214.3 86.4 L214.1 86.3 L214.3 85.5 L213.9 85.3 L213.4 84.8 L212.8 84.1 L211.9 83.7 L211.3 83.0 L211.0 82.3 L210.6 81.4 L210.2 81.0 L209.9 80.9 L209.6 79.9 L209.6 78.8 L209.2 78.2 L208.3 77.4 L208.3 76.8 L207.9 76.4 L207.3 74.9 L206.8 74.1 L205.9 72.0 L206.0 72.0 M202.4 62.9 L203.1 63.3 L203.4 63.2 L204.9 63.3 L205.8 62.8 L206.8 62.6 L208.1 62.6 L209.4 63.1 L210.5 63.4 L212.2 63.4 L213.1 63.0 L213.2 62.6 L213.0 62.1 L212.6 61.8 L212.1 61.7 L211.2 61.2 L210.4 60.7 L209.9 60.5 L209.3 60.1 L209.8 59.9 L210.4 59.3 L209.8 59.2 L210.4 58.8 L211.2 58.7 L211.2 58.4 L210.4 58.6 L209.8 58.7 L209.3 58.9 L208.6 59.0 L207.9 59.2 L207.9 59.7 L208.3 59.9 L209.1 59.8 L209.0 60.1 L208.1 60.3 L207.1 60.7 L206.6 60.5 L206.8 60.2 L206.0 60.0 L206.1 59.8 L206.8 59.5 L206.6 59.4 L205.3 59.2 L205.3 58.9 L204.6 59.0 L204.3 59.4 L203.7 60.0 L203.7 60.2 L203.3 60.4 L203.1 60.3 L202.9 61.2 L202.4 61.6 L202.2 62.1 L202.4 62.9 M219.9 60.5 L220.7 61.7 L221.8 62.3 L221.7 62.6 L222.0 63.2 L221.9 64.1 L222.8 64.4 L222.4 64.8 L222.8 65.1 L222.6 65.8 L222.8 66.3 L221.5 66.7 L220.3 66.6 L219.7 66.2 L218.8 65.5 L218.8 65.1 L219.1 64.9 L219.4 64.0 L220.0 63.9 L219.5 63.7 L218.6 62.7 L217.7 61.8 L217.7 61.2 L217.4 60.8 L217.8 59.8 L218.6 59.0 L219.0 59.1 L219.7 59.0 L220.6 58.6 L221.3 58.8 L222.0 58.7 L222.0 59.2 L222.2 60.0 L221.4 59.9 L220.7 60.1 L220.5 60.3 L219.9 60.5 M226.4 59.8 L227.4 60.2 L228.3 60.7 L228.4 61.3 L227.7 61.4 L226.7 61.0 L226.4 60.5 L226.4 59.8 M176.0 56.2 L177.1 56.0 L177.8 55.8 L179.3 55.8 L181.0 55.7 L181.6 55.4 L181.0 55.1 L181.8 54.2 L180.7 54.0 L180.6 53.6 L180.1 52.8 L179.3 52.0 L178.8 51.6 L178.3 51.5 L178.9 50.7 L179.0 50.4 L178.1 49.6 L177.3 49.6 L176.6 49.6 L176.3 50.4 L176.0 50.8 L176.1 51.4 L175.7 51.7 L176.1 52.2 L176.6 52.3 L176.8 52.6 L177.8 52.5 L177.7 52.7 L178.0 53.2 L178.1 53.6 L177.4 53.7 L176.9 54.0 L177.3 54.5 L176.5 55.0 L177.2 55.3 L178.1 55.4 L177.4 55.6 L176.0 56.2 M175.6 53.3 L176.0 52.7 L175.6 52.2 L174.8 52.2 L174.0 52.2 L173.7 52.8 L172.7 53.0 L172.8 53.6 L173.3 54.0 L172.9 54.5 L172.4 54.8 L173.1 55.1 L174.1 54.9 L175.2 54.5 L175.8 54.3 L175.6 53.3 M162.6 45.3 L163.4 45.0 L161.8 44.6 L163.1 44.5 L161.7 44.1 L162.0 43.6 L163.4 43.9 L165.8 43.5 L167.8 43.4 L169.0 43.9 L169.8 44.5 L169.1 45.0 L167.8 45.4 L165.8 45.8 L164.4 45.7 L162.6 45.3 M189.0 33.9 L190.3 33.3 L193.4 33.0 L194.8 32.5 L198.1 32.5 L202.0 32.7 L197.8 33.4 L196.2 34.0 L193.8 35.5 L192.3 34.9 L190.8 34.4 L189.0 33.9 M220.9 39.5 L222.0 37.8 L223.6 36.5 L226.4 35.8 L228.7 35.7 L231.5 35.3 L234.0 35.2 L232.2 36.0 L228.3 36.7 L225.6 37.6 L224.6 38.7 L225.6 40.1 L223.9 40.2 L222.4 40.0 L220.9 39.5 M252.6 32.8 L255.0 31.8 L257.3 32.2 L259.7 33.4 L262.0 33.7 L258.9 33.9 L255.8 33.5 L252.6 32.8 M288.7 36.6 L291.0 36.0 L294.9 36.4 L298.1 36.9 L295.7 37.0 L292.2 37.5 L289.1 37.2 L288.7 36.6 M39.4 39.5 L41.3 39.6 L40.3 39.9 L39.4 39.9 M321.6 39.9 L320.7 39.7 L321.6 39.5 M291.8 59.4 L293.0 59.0 L292.3 58.0 L293.0 56.9 L293.9 57.2 L292.8 54.9 L292.8 54.2 L292.4 52.9 L292.0 53.6 L291.5 54.6 L291.6 55.5 L291.8 57.1 L291.7 58.3 L291.8 59.4 M290.2 63.0 L290.9 62.7 L291.1 62.1 L292.8 62.6 L294.6 61.6 L294.2 61.0 L291.8 59.8 L291.5 60.6 L291.3 61.5 L290.1 62.1 L290.5 63.2 L290.2 63.0 M290.9 63.0 L291.7 64.1 L291.7 64.8 L291.0 65.5 L290.9 66.5 L290.7 67.0 L290.9 67.4 L290.5 68.0 L289.8 68.1 L289.3 68.3 L288.8 68.4 L288.0 68.4 L287.8 68.6 L287.7 69.3 L287.0 69.2 L286.4 69.0 L286.3 68.4 L285.0 68.5 L284.1 68.9 L283.2 68.8 L283.2 68.5 L284.4 67.7 L286.0 67.5 L286.9 67.7 L287.7 66.7 L288.2 66.6 L289.4 65.9 L289.8 65.5 L290.3 64.6 L290.2 63.7 L290.5 63.2 L290.9 63.0 M283.1 68.8 L283.9 69.5 L283.4 70.8 L283.0 71.2 L282.6 70.9 L282.7 70.2 L282.2 69.9 L281.9 69.4 L282.7 69.1 L283.1 68.8 M284.3 69.4 L284.8 69.8 L285.8 69.4 L286.2 69.0 L285.7 68.7 L285.0 68.8 L284.4 68.9 L284.3 69.4 M276.0 76.3 L275.5 77.6 L275.1 78.2 L274.7 77.6 L274.6 77.0 L275.1 76.3 L275.7 75.6 L276.1 75.9 L276.0 76.3 M267.0 80.8 L266.3 81.2 L265.7 81.0 L265.6 80.3 L266.0 79.9 L266.9 79.7 L267.4 79.7 L267.5 80.0 L267.0 80.8 M244.6 89.6 L244.5 90.4 L244.2 90.6 L243.4 90.7 L243.1 90.1 L243.0 89.0 L243.3 87.8 L243.8 88.2 L244.2 88.7 L244.6 89.6 M275.2 81.0 L275.6 81.0 L276.4 81.2 L276.3 82.1 L276.5 82.7 L275.9 83.0 L275.7 83.6 L275.9 84.2 L276.9 84.8 L277.6 85.1 L277.8 85.7 L277.2 85.3 L276.8 84.8 L276.7 85.1 L276.1 84.6 L275.4 84.8 L275.0 84.2 L274.6 83.7 L274.5 83.4 L274.5 82.6 L274.8 82.9 L274.9 81.7 L275.1 81.0 L275.2 81.0 M279.6 88.9 L279.7 89.3 L279.4 90.5 L279.1 89.7 L278.8 90.1 L279.0 90.7 L278.8 91.1 L277.9 90.6 L277.6 90.0 L277.9 89.6 L277.4 89.3 L276.9 89.6 L276.4 90.0 L276.1 89.8 L276.4 89.2 L276.8 89.0 L277.3 88.6 L277.5 89.0 L278.2 88.8 L278.3 88.4 L278.8 88.4 L278.8 87.8 L279.4 88.2 L279.6 88.9 M277.9 85.6 L278.6 85.7 L278.9 85.9 L279.1 86.8 L278.5 86.6 L278.5 87.6 L278.3 87.5 L277.9 86.4 L278.4 86.2 L277.9 85.6 M276.5 86.4 L277.0 86.4 L276.6 87.1 L276.1 87.3 L276.1 86.5 L276.5 86.4 M277.2 87.6 L277.3 88.4 L276.8 88.3 L276.4 87.8 L276.8 86.9 L277.3 86.9 L277.2 87.6 M274.2 86.5 L274.3 87.1 L273.8 87.6 L273.4 88.2 L272.4 88.9 L272.8 88.3 L273.7 87.3 L274.2 86.5 M272.9 92.2 L272.5 92.9 L273.0 93.6 L272.9 94.0 L273.8 94.7 L272.8 94.8 L272.6 96.1 L271.9 96.6 L271.8 97.4 L271.5 98.6 L271.4 98.3 L270.6 98.6 L270.3 98.2 L269.7 98.1 L269.3 97.9 L268.4 98.2 L268.1 97.8 L267.5 97.8 L266.9 97.7 L266.8 96.7 L266.4 96.5 L266.0 95.8 L265.9 95.1 L266.0 94.4 L266.5 93.9 L266.6 94.4 L267.1 94.8 L267.7 94.7 L268.3 94.3 L268.1 93.3 L269.0 93.0 L270.0 91.9 L270.3 91.6 L271.0 91.2 L271.6 90.7 L272.0 90.0 L272.3 90.0 L272.7 90.4 L272.8 90.8 L273.2 91.0 L273.9 91.2 L273.9 91.5 L273.3 91.6 L273.5 91.9 L272.9 92.2 M255.2 91.1 L256.9 91.4 L257.6 92.1 L258.7 92.9 L259.4 93.8 L260.2 93.8 L260.8 94.3 L261.3 95.0 L261.9 95.4 L261.6 96.0 L262.3 96.3 L262.4 96.8 L262.7 97.2 L263.3 97.3 L263.7 97.9 L263.5 98.8 L263.4 100.1 L262.6 100.1 L261.9 99.4 L260.9 98.7 L260.6 98.3 L260.0 97.6 L259.6 97.1 L259.0 96.0 L258.3 95.3 L258.1 94.6 L257.8 94.0 L257.1 93.5 L256.7 92.9 L256.1 92.4 L255.3 91.6 L255.2 91.1 M263.7 100.1 L264.6 100.1 L265.6 100.4 L265.6 100.8 L267.1 100.8 L267.4 100.5 L268.8 100.8 L269.1 101.4 L270.3 101.5 L271.2 102.0 L270.3 102.3 L269.5 101.9 L268.8 102.0 L267.9 101.9 L267.2 101.8 L266.3 101.5 L265.7 101.4 L265.4 101.5 L264.0 101.2 L263.8 100.8 L263.1 100.8 L263.7 100.1 M271.4 101.9 L272.2 102.0 L272.8 101.9 L273.8 102.3 L273.0 102.5 L272.0 102.5 L271.4 101.9 M274.5 102.0 L275.1 101.9 L276.8 101.8 L276.8 102.2 L275.6 102.4 L274.5 102.3 L274.5 102.0 M277.7 103.1 L278.6 102.8 L280.1 101.9 L279.7 102.0 L278.6 102.2 L278.0 102.8 L277.4 103.6 L277.7 103.1 M273.8 103.0 L274.9 103.0 L275.2 103.4 L274.4 103.3 L273.8 103.0 M278.6 94.3 L278.0 95.1 L277.5 95.3 L276.7 95.1 L275.4 95.1 L274.7 95.3 L274.6 95.8 L275.3 96.5 L275.7 96.2 L277.2 95.9 L277.2 96.3 L276.5 96.1 L275.7 96.9 L276.5 97.9 L276.4 98.2 L277.1 99.1 L277.1 99.6 L276.6 99.8 L276.3 99.6 L276.7 99.0 L275.9 99.3 L275.7 99.0 L275.8 98.7 L275.4 97.8 L275.3 97.5 L274.8 97.7 L274.9 99.7 L274.4 99.9 L274.1 99.7 L274.3 99.0 L274.2 98.2 L273.9 98.2 L273.6 97.6 L273.9 97.1 L274.0 96.5 L274.4 95.3 L274.6 95.0 L275.3 94.4 L275.7 94.7 L276.8 94.7 L277.8 94.7 L278.6 94.2 L278.6 94.3 M280.8 93.7 L280.8 94.2 L281.3 94.3 L281.4 94.6 L280.8 95.0 L281.2 95.7 L280.6 95.5 L280.4 94.7 L280.5 94.0 L280.8 93.7 M280.9 97.6 L281.9 97.6 L282.8 97.9 L283.0 98.5 L282.3 98.1 L281.3 98.1 L280.9 97.6 M285.6 96.4 L285.9 97.6 L286.7 98.1 L287.3 97.2 L288.2 96.8 L288.9 96.8 L289.6 97.1 L290.2 97.2 L291.0 97.5 L292.4 98.0 L293.9 98.5 L294.4 98.9 L294.8 99.4 L294.9 99.7 L296.2 100.2 L296.4 100.6 L295.7 100.7 L295.9 101.2 L296.6 101.7 L297.1 102.6 L297.5 102.6 L297.5 102.9 L298.1 103.0 L297.8 103.2 L298.7 103.5 L298.1 103.8 L297.2 103.5 L296.4 103.3 L295.8 102.9 L295.4 102.4 L294.9 101.8 L293.9 101.4 L293.3 101.6 L292.8 101.9 L292.9 102.5 L292.3 102.7 L291.0 102.6 L290.3 101.9 L289.5 101.8 L289.4 102.0 L288.4 102.0 L288.7 101.4 L289.2 101.2 L289.0 100.3 L288.6 99.7 L287.1 99.0 L286.5 99.0 L285.3 98.2 L285.1 98.6 L284.7 98.6 L284.6 98.3 L284.6 98.0 L284.0 97.6 L284.8 97.4 L285.4 97.4 L285.3 97.2 L284.1 97.2 L283.8 96.7 L283.2 96.5 L283.1 96.1 L284.3 95.8 L285.5 96.1 L285.6 96.4 M296.8 99.7 L297.9 99.7 L298.8 99.7 L299.3 99.2 L299.9 98.8 L299.9 99.8 L299.1 100.1 L298.1 100.4 L296.8 99.7 M305.7 101.7 L306.6 101.9 L306.9 102.6 L306.5 103.2 L305.8 102.6 L305.7 101.7 M292.2 103.8 L292.4 104.2 L292.7 104.8 L292.8 105.1 L293.0 105.5 L293.1 105.9 L293.1 106.2 L293.9 106.6 L294.5 107.2 L294.4 107.5 L294.6 108.2 L294.6 108.6 L295.1 109.4 L295.0 110.2 L295.3 110.3 L297.1 111.4 L297.8 112.9 L298.6 113.0 L298.8 113.8 L300.4 115.2 L300.5 115.9 L300.6 116.8 L300.9 117.4 L300.8 118.1 L300.5 119.2 L300.5 119.7 L300.0 121.0 L299.4 121.3 L299.1 121.9 L298.9 122.3 L298.6 123.0 L298.3 123.4 L298.2 123.9 L298.1 124.7 L297.6 125.0 L296.8 125.0 L296.0 125.3 L295.7 125.7 L295.2 126.0 L294.6 125.7 L294.1 125.5 L294.2 125.1 L293.8 125.3 L293.1 125.8 L292.4 125.6 L292.0 125.5 L291.5 125.4 L290.7 125.2 L290.2 124.7 L290.1 124.1 L289.9 123.7 L289.5 123.4 L288.8 123.3 L289.0 122.9 L288.8 122.4 L288.4 122.9 L287.7 123.1 L288.2 122.6 L288.3 122.1 L288.6 121.7 L288.5 121.2 L287.9 121.9 L287.4 122.1 L287.1 122.8 L286.5 122.4 L286.5 122.0 L286.0 121.4 L285.6 121.1 L285.8 121.0 L284.7 120.5 L284.2 120.5 L283.4 120.1 L282.0 120.2 L281.0 120.5 L280.1 120.7 L279.3 120.6 L278.6 121.0 L277.9 121.3 L277.7 121.7 L277.5 122.0 L276.8 122.0 L276.3 122.1 L275.6 121.9 L275.0 122.0 L274.5 122.1 L274.0 122.4 L273.8 122.4 L273.4 122.6 L273.0 122.9 L272.5 122.8 L271.9 122.8 L271.1 122.4 L270.6 122.2 L270.6 121.7 L271.0 121.7 L271.2 121.5 L271.2 121.2 L271.3 120.6 L271.2 120.2 L270.8 119.4 L270.6 118.9 L270.6 118.5 L270.3 118.0 L270.3 117.7 L270.0 117.4 L269.9 116.8 L269.5 116.2 L269.3 115.9 L269.7 116.2 L269.4 115.5 L269.9 116.0 L270.0 116.0 L270.0 115.6 L269.6 115.0 L269.5 114.8 L269.4 114.5 L269.5 114.1 L269.6 113.9 L269.7 113.5 L269.6 113.1 L269.9 112.5 L270.0 113.1 L270.3 112.5 L271.0 112.3 L271.4 112.0 L272.0 111.6 L272.4 111.6 L272.5 111.6 L273.2 111.4 L273.6 111.3 L273.8 111.1 L274.0 111.1 L274.4 111.1 L275.3 110.9 L275.7 110.5 L275.9 110.1 L276.3 109.7 L276.4 109.0 L276.9 108.3 L277.2 109.0 L277.6 108.8 L277.3 108.4 L277.5 108.0 L277.9 108.2 L278.0 107.6 L278.4 107.3 L278.6 106.9 L279.0 106.8 L279.0 106.6 L279.3 106.6 L279.3 106.5 L280.1 106.2 L280.7 106.6 L281.2 107.1 L281.6 107.1 L282.1 107.2 L281.9 106.7 L282.3 106.1 L282.6 105.9 L282.6 105.7 L282.9 105.2 L283.3 105.0 L283.7 105.1 L284.4 104.9 L284.4 104.5 L283.8 104.3 L284.3 104.1 L284.8 104.4 L285.2 104.7 L285.9 104.8 L286.1 104.8 L286.6 105.0 L287.0 104.8 L287.3 104.8 L287.5 104.8 L287.9 105.1 L287.7 105.5 L287.3 105.8 L287.1 105.8 L287.2 106.2 L287.0 106.6 L286.6 106.9 L286.7 107.2 L287.3 107.6 L288.0 107.9 L288.4 108.1 L288.9 108.6 L289.1 108.6 L289.5 108.8 L289.7 109.1 L290.4 109.3 L290.9 109.1 L291.1 108.6 L291.3 108.3 L291.3 107.8 L291.6 107.2 L291.5 106.9 L291.4 106.2 L291.6 105.5 L291.7 105.4 L291.6 105.1 L291.7 104.8 L291.9 104.3 L291.9 104.0 L292.2 103.8 M293.9 127.3 L295.3 127.6 L296.8 127.5 L296.8 128.4 L296.5 129.0 L296.1 129.3 L295.7 129.6 L294.9 129.5 L294.5 128.9 L294.4 128.3 L293.9 127.7 L293.9 127.3 M316.1 122.4 L316.5 122.8 L317.1 123.1 L317.4 123.8 L317.9 124.6 L318.0 124.0 L318.3 124.2 L318.5 124.9 L319.6 125.2 L320.0 124.9 L320.4 124.9 L320.3 125.7 L320.0 126.1 L319.4 126.0 L319.2 126.3 L319.2 126.7 L318.5 127.8 L317.8 128.1 L317.8 127.8 L317.4 127.8 L317.8 127.1 L317.6 126.7 L316.7 126.4 L316.8 126.0 L317.4 125.8 L317.4 125.2 L317.4 124.7 L317.1 124.2 L317.1 124.0 L316.7 123.7 L316.2 123.0 L315.8 122.4 L316.1 122.4 M316.0 127.1 L316.2 127.8 L317.1 127.8 L317.1 128.2 L316.8 128.5 L316.3 129.1 L315.9 129.4 L316.2 129.8 L315.6 129.8 L314.9 130.0 L314.7 130.6 L314.2 131.4 L313.6 131.8 L313.2 131.9 L312.5 131.9 L312.0 131.7 L311.2 131.6 L311.0 131.4 L311.4 130.7 L312.4 130.0 L312.9 129.8 L313.5 129.6 L314.2 129.1 L314.6 128.7 L315.0 128.2 L315.3 127.9 L315.4 127.5 L315.4 127.5 L316.0 127.1 M219.3 105.2 L219.5 105.5 L219.8 106.1 L219.9 107.0 L220.1 107.3 L220.0 107.7 L219.9 108.0 L219.6 107.5 L219.5 107.7 L219.6 108.4 L219.5 108.7 L219.3 108.8 L219.2 109.5 L218.9 110.4 L218.5 111.5 L218.0 113.0 L217.7 114.1 L217.4 114.9 L216.8 115.2 L216.1 115.5 L215.6 115.2 L215.0 115.0 L214.8 114.6 L214.8 113.9 L214.4 113.3 L214.4 112.7 L214.5 112.1 L214.9 112.0 L214.9 111.7 L215.3 111.2 L215.4 110.6 L215.1 110.3 L215.0 109.8 L215.0 109.1 L215.2 108.7 L215.3 108.1 L215.7 108.1 L216.2 107.9 L216.5 107.8 L216.8 107.8 L217.3 107.3 L217.9 106.9 L218.1 106.5 L218.0 106.2 L218.4 106.2 L218.8 105.7 L218.8 105.2 L219.1 104.8 L219.3 105.2 M205.8 68.0 L206.4 67.7 L207.6 67.5 L207.1 67.9 L207.2 68.3 L206.1 68.4 L205.8 68.0 M198.9 67.8 L199.5 67.7 L201.1 67.8 L201.0 68.0 L199.9 68.1 L198.9 67.8 M192.7 65.5 L192.3 66.8 L191.7 66.5 L190.7 66.0 L190.2 66.0 L190.4 65.6 L191.2 65.7 L192.7 65.5 M187.7 63.2 L188.2 63.7 L188.1 64.8 L187.7 64.8 L187.4 65.0 L187.1 64.8 L187.1 63.8 L186.9 63.4 L187.7 63.2 M188.0 62.4 L187.7 63.0 L187.4 62.9 L187.2 62.3 L187.9 61.8 L188.0 62.4 M150.5 137.7 L152.0 137.9 L152.4 138.3 L151.0 137.9 L150.5 137.7 M295.3 61.1 L296.3 60.5 L297.8 59.7 L298.6 59.2 M50.0 53.3 L48.3 54.0 L46.5 54.3 L43.7 54.7 L41.8 54.9 L39.8 55.2 M315.7 54.0 L316.9 54.2 L319.2 54.8 L321.2 55.1 M58.2 79.9 L59.0 80.3 L58.3 80.5 L58.2 79.9 M309.1 111.2 L310.2 112.0 L311.5 112.8 L311.1 113.0 L309.7 112.0 L309.1 111.2 M320.3 109.0 L320.6 109.5 L319.6 109.7 L319.6 109.1 L320.3 109.0 M311.6 107.9 L312.0 108.4 L311.6 107.2 L311.1 106.9 L311.6 107.9 M84.5 35.6 L86.8 36.0 L89.2 35.5 L88.8 34.9 L86.8 34.9 L84.5 35.3 L84.5 35.6 M91.9 34.5 L94.3 34.9 L97.0 34.6 L94.7 34.3 L91.9 34.5 M93.1 34.0 L94.7 34.2 L95.4 33.8 L93.9 33.7 L93.1 34.0 M99.0 34.3 L101.7 34.5 L102.9 34.2 L101.7 33.5 L99.8 33.6 L99.0 34.3 M104.1 34.5 L105.6 34.5 L105.2 34.0 L103.8 34.1 L104.1 34.5 M104.9 36.8 L107.2 37.1 L107.6 36.4 L106.0 36.3 L104.9 36.8 M117.0 38.1 L120.1 38.5 L120.5 37.9 L118.2 37.7 L117.0 38.1 M102.5 41.5 L104.1 41.8 L105.2 41.3 L104.1 40.8 L102.9 41.0 L102.5 41.5 M108.3 58.9 L109.6 59.0 L111.1 58.7 L112.1 59.0 L113.9 58.8 L114.2 59.0 L113.9 58.3 L113.2 58.0 L111.4 57.2 L110.4 57.8 L109.2 58.5 L108.3 58.9 M111.7 62.9 L112.1 62.8 L112.9 62.3 L112.9 61.3 L112.7 60.7 L113.5 59.9 L113.9 59.6 L113.1 59.5 L112.3 59.7 L111.8 60.4 L111.6 61.8 L111.7 62.9 M114.1 59.5 L115.0 59.4 L116.5 59.5 L117.4 59.8 L117.8 60.4 L117.2 60.5 L116.5 60.8 L115.9 61.8 L115.8 61.3 L115.2 60.8 L115.0 60.2 L114.1 59.5 M115.1 62.8 L116.2 63.0 L117.9 62.5 L118.7 61.9 L117.4 62.1 L115.8 62.6 L115.1 62.8 M117.9 61.6 L118.6 61.6 L120.3 61.6 L120.8 61.1 L120.1 60.9 L119.0 61.1 L117.9 61.6 M104.5 56.0 L105.0 55.4 L104.2 54.4 L103.7 53.3 L102.9 53.7 L103.4 54.7 L104.1 55.5 L104.5 56.0 M205.6 95.7 L207.1 95.5 L207.2 96.2 L206.8 97.4 L205.8 97.4 L205.3 96.6 L205.6 95.7 M261.9 55.0 L263.2 54.7 L264.8 54.0 L266.3 52.0 L266.2 52.4 L265.2 53.7 L263.8 54.5 L262.4 55.1 L261.9 55.0" fill="none" stroke="#484848" stroke-width="0.6" stroke-linejoin="round"/></defs>
<rect width="685" height="461" fill="#fff"/>
<text x="-0.3" y="16.3" font-size="22" fill="#000">a</text>
<text x="353.4" y="16.3" font-size="22" fill="#000">b</text>
<text x="-0.5" y="251.4" font-size="22" fill="#000">c</text>
<text x="352.6" y="251.4" font-size="22" fill="#000">d</text>
<mask id="lm_a" maskUnits="userSpaceOnUse" x="0" y="0" width="685" height="461"><use href="#land" transform="translate(0,0)"/></mask>
<g mask="url(#lm_a)"><g shape-rendering="crispEdges"><rect x="53.51" y="41.44" width="23.52" height="7.04" fill="#acdce8"/><rect x="65.27" y="43.78" width="11.76" height="4.70" fill="#e0f3f7"/><rect x="55.86" y="43.78" width="4.70" height="4.70" fill="#eeaa62"/><rect x="62.92" y="41.44" width="2.35" height="2.35" fill="#f2e08e"/><rect x="65.27" y="41.44" width="4.70" height="2.35" fill="#eeaa62"/><rect x="69.97" y="41.44" width="4.70" height="2.35" fill="#eb6c46"/><rect x="67.62" y="43.78" width="2.35" height="2.35" fill="#f2e08e"/><rect x="62.92" y="46.13" width="2.35" height="2.35" fill="#77aed1"/><rect x="72.32" y="48.48" width="7.05" height="4.70" fill="#acdce8"/><rect x="72.32" y="48.48" width="7.05" height="2.35" fill="#77aed1"/><rect x="79.38" y="43.78" width="2.35" height="2.35" fill="#f2e08e"/><rect x="77.03" y="46.13" width="4.70" height="2.35" fill="#eeaa62"/><rect x="81.73" y="48.48" width="2.35" height="2.35" fill="#f2e08e"/><rect x="84.08" y="46.13" width="2.35" height="2.35" fill="#eeaa62"/><rect x="86.43" y="46.13" width="14.11" height="7.04" fill="#acdce8"/><rect x="88.78" y="46.13" width="4.70" height="2.35" fill="#eeaa62"/><rect x="79.38" y="50.83" width="11.76" height="7.04" fill="#77aed1"/><rect x="86.43" y="53.18" width="4.70" height="4.70" fill="#4876b5"/><rect x="84.08" y="55.52" width="4.70" height="2.35" fill="#323595"/><rect x="79.38" y="55.52" width="2.35" height="2.35" fill="#eeaa62"/><rect x="91.14" y="57.87" width="2.35" height="2.35" fill="#77aed1"/><rect x="100.54" y="53.18" width="18.81" height="7.04" fill="#acdce8"/><rect x="105.25" y="53.18" width="14.11" height="7.04" fill="#77aed1"/><rect x="117.00" y="53.18" width="2.35" height="2.35" fill="#f2e08e"/><rect x="93.49" y="64.92" width="25.87" height="11.74" fill="#acdce8"/><rect x="95.84" y="67.26" width="9.41" height="9.39" fill="#77aed1"/><rect x="107.60" y="69.61" width="7.05" height="2.35" fill="#eeaa62"/><rect x="114.65" y="67.26" width="4.70" height="2.35" fill="#eb6c46"/><rect x="112.30" y="69.61" width="4.70" height="7.04" fill="#eeaa62"/><rect x="109.95" y="71.96" width="2.35" height="7.04" fill="#e0f3f7"/><rect x="114.65" y="76.66" width="4.70" height="2.35" fill="#d8342b"/><rect x="98.19" y="79.00" width="4.70" height="2.35" fill="#f2e08e"/><rect x="114.65" y="53.18" width="9.41" height="11.74" fill="#acdce8"/><rect x="114.65" y="55.52" width="7.05" height="9.39" fill="#77aed1"/><rect x="117.00" y="53.18" width="2.35" height="2.35" fill="#f2e08e"/><rect x="124.06" y="53.18" width="14.11" height="4.70" fill="#acdce8"/><rect x="126.41" y="55.52" width="7.05" height="4.70" fill="#77aed1"/><rect x="126.41" y="55.52" width="4.70" height="4.70" fill="#4876b5"/><rect x="131.12" y="53.18" width="7.05" height="2.35" fill="#e0f3f7"/><rect x="121.71" y="62.57" width="2.35" height="2.35" fill="#f2e08e"/><rect x="114.65" y="67.26" width="4.70" height="2.35" fill="#eb6c46"/><rect x="114.65" y="69.61" width="2.35" height="4.70" fill="#eeaa62"/><rect x="117.00" y="71.96" width="2.35" height="2.35" fill="#eeaa62"/><rect x="117.00" y="74.31" width="2.35" height="2.35" fill="#d8342b"/><rect x="124.06" y="79.00" width="2.35" height="2.35" fill="#d8342b"/><rect x="95.84" y="74.31" width="4.70" height="4.70" fill="#acdce8"/><rect x="98.19" y="79.00" width="7.05" height="2.35" fill="#eeaa62"/><rect x="105.25" y="79.00" width="7.05" height="4.70" fill="#acdce8"/><rect x="109.95" y="83.70" width="2.35" height="2.35" fill="#eeaa62"/><rect x="114.65" y="74.31" width="4.70" height="4.70" fill="#d8342b"/><rect x="119.36" y="76.66" width="4.70" height="2.35" fill="#e0f3f7"/><rect x="124.06" y="79.00" width="4.70" height="2.35" fill="#d8342b"/><rect x="126.41" y="93.09" width="23.52" height="18.78" fill="#acdce8"/><rect x="117.00" y="88.40" width="14.11" height="7.04" fill="#eeaa62"/><rect x="117.00" y="95.44" width="9.41" height="7.04" fill="#eeaa62"/><rect x="140.52" y="90.74" width="4.70" height="2.35" fill="#f2e08e"/><rect x="140.52" y="102.48" width="7.05" height="2.35" fill="#e0f3f7"/><rect x="131.12" y="107.18" width="4.70" height="2.35" fill="#e0f3f7"/><rect x="121.71" y="107.18" width="7.05" height="2.35" fill="#a31b2b"/><rect x="128.76" y="109.53" width="2.35" height="2.35" fill="#eeaa62"/><rect x="126.41" y="111.88" width="18.81" height="7.04" fill="#acdce8"/><rect x="135.82" y="116.57" width="4.70" height="4.70" fill="#eeaa62"/><rect x="126.41" y="114.22" width="2.35" height="7.04" fill="#eeaa62"/><rect x="128.76" y="116.57" width="4.70" height="7.04" fill="#e0f3f7"/><rect x="121.71" y="121.27" width="14.11" height="4.70" fill="#acdce8"/><rect x="124.06" y="125.96" width="2.35" height="4.70" fill="#eeaa62"/><rect x="121.71" y="125.96" width="4.70" height="9.39" fill="#acdce8"/><rect x="124.06" y="130.66" width="2.35" height="2.35" fill="#eeaa62"/><rect x="185.20" y="41.44" width="37.63" height="11.74" fill="#acdce8"/><rect x="185.20" y="53.18" width="21.16" height="7.04" fill="#acdce8"/><rect x="204.02" y="53.18" width="23.52" height="2.35" fill="#acdce8"/><rect x="206.37" y="53.18" width="7.05" height="2.35" fill="#77aed1"/><rect x="194.61" y="46.13" width="2.35" height="4.70" fill="#ffffff"/><rect x="171.09" y="53.18" width="4.70" height="2.35" fill="#acdce8"/><rect x="175.80" y="48.48" width="4.70" height="4.70" fill="#eeaa62"/><rect x="175.80" y="50.83" width="2.35" height="2.35" fill="#d8342b"/><rect x="178.15" y="53.18" width="2.35" height="2.35" fill="#f2e08e"/><rect x="178.15" y="53.18" width="11.76" height="4.70" fill="#eeaa62"/><rect x="182.85" y="55.52" width="2.35" height="2.35" fill="#d8342b"/><rect x="182.85" y="57.87" width="2.35" height="2.35" fill="#f2e08e"/><rect x="194.61" y="41.44" width="9.41" height="2.35" fill="#eeaa62"/><rect x="194.61" y="41.44" width="2.35" height="2.35" fill="#f2e08e"/><rect x="199.31" y="50.83" width="2.35" height="2.35" fill="#e0f3f7"/><rect x="189.91" y="55.52" width="14.11" height="4.70" fill="#77aed1"/><rect x="206.37" y="48.48" width="16.46" height="4.70" fill="#77aed1"/><rect x="222.83" y="48.48" width="7.05" height="7.04" fill="#77aed1"/><rect x="220.48" y="43.78" width="9.41" height="2.35" fill="#eeaa62"/><rect x="222.83" y="46.13" width="21.16" height="7.04" fill="#acdce8"/><rect x="229.88" y="46.13" width="4.70" height="2.35" fill="#f2e08e"/><rect x="234.59" y="46.13" width="4.70" height="2.35" fill="#eeaa62"/><rect x="229.88" y="48.48" width="14.11" height="4.70" fill="#77aed1"/><rect x="244.00" y="46.13" width="2.35" height="2.35" fill="#eeaa62"/><rect x="213.42" y="60.22" width="2.35" height="2.35" fill="#77aed1"/><rect x="241.64" y="71.96" width="2.35" height="2.35" fill="#77aed1"/><rect x="192.26" y="53.18" width="2.35" height="2.35" fill="#eeaa62"/><rect x="168.74" y="86.05" width="4.70" height="2.35" fill="#acdce8"/><rect x="171.09" y="88.40" width="9.41" height="4.70" fill="#eeaa62"/><rect x="175.80" y="88.40" width="4.70" height="2.35" fill="#e0f3f7"/><rect x="180.50" y="86.05" width="7.05" height="7.04" fill="#acdce8"/><rect x="189.91" y="88.40" width="14.11" height="9.39" fill="#eeaa62"/><rect x="187.56" y="93.09" width="4.70" height="11.74" fill="#eeaa62"/><rect x="192.26" y="95.44" width="4.70" height="4.70" fill="#e0f3f7"/><rect x="194.61" y="97.79" width="9.41" height="7.04" fill="#f2e08e"/><rect x="196.96" y="102.48" width="4.70" height="2.35" fill="#e0f3f7"/><rect x="192.26" y="104.83" width="7.05" height="2.35" fill="#acdce8"/><rect x="196.96" y="104.83" width="16.46" height="7.04" fill="#acdce8"/><rect x="204.02" y="100.14" width="9.41" height="4.70" fill="#acdce8"/><rect x="201.66" y="95.44" width="9.41" height="4.70" fill="#eeaa62"/><rect x="204.02" y="100.14" width="7.05" height="7.04" fill="#acdce8"/><rect x="206.37" y="86.05" width="4.70" height="7.04" fill="#eeaa62"/><rect x="206.37" y="90.74" width="2.35" height="2.35" fill="#d8342b"/><rect x="196.96" y="114.22" width="7.05" height="4.70" fill="#acdce8"/><rect x="201.66" y="111.88" width="7.05" height="9.39" fill="#eeaa62"/><rect x="199.31" y="118.92" width="4.70" height="2.35" fill="#eeaa62"/><rect x="194.61" y="121.27" width="4.70" height="2.35" fill="#acdce8"/><rect x="215.78" y="104.83" width="4.70" height="7.04" fill="#eeaa62"/><rect x="215.78" y="107.18" width="2.35" height="7.04" fill="#acdce8"/><rect x="213.42" y="111.88" width="2.35" height="2.35" fill="#eeaa62"/><rect x="239.29" y="46.13" width="18.81" height="7.04" fill="#acdce8"/><rect x="244.00" y="46.13" width="4.70" height="2.35" fill="#eeaa62"/><rect x="246.35" y="50.83" width="7.05" height="7.04" fill="#77aed1"/><rect x="258.10" y="48.48" width="14.11" height="9.39" fill="#acdce8"/><rect x="258.10" y="53.18" width="14.11" height="4.70" fill="#77aed1"/><rect x="274.57" y="53.18" width="18.81" height="4.70" fill="#acdce8"/><rect x="274.57" y="53.18" width="9.41" height="4.70" fill="#77aed1"/><rect x="286.32" y="50.83" width="7.05" height="11.74" fill="#acdce8"/><rect x="286.32" y="55.52" width="4.70" height="2.35" fill="#f2e08e"/><rect x="291.03" y="53.18" width="2.35" height="9.39" fill="#77aed1"/><rect x="262.81" y="64.92" width="11.76" height="21.13" fill="#acdce8"/><rect x="262.81" y="67.26" width="7.05" height="4.70" fill="#4876b5"/><rect x="255.75" y="67.26" width="7.05" height="7.04" fill="#323595"/><rect x="251.05" y="71.96" width="4.70" height="2.35" fill="#323595"/><rect x="260.46" y="69.61" width="14.11" height="11.74" fill="#77aed1"/><rect x="255.75" y="74.31" width="4.70" height="7.04" fill="#f2e08e"/><rect x="258.10" y="74.31" width="2.35" height="2.35" fill="#eeaa62"/><rect x="241.64" y="71.96" width="4.70" height="2.35" fill="#acdce8"/><rect x="279.27" y="62.57" width="4.70" height="2.35" fill="#acdce8"/><rect x="279.27" y="67.26" width="2.35" height="2.35" fill="#eeaa62"/><rect x="281.62" y="64.92" width="7.05" height="4.70" fill="#acdce8"/><rect x="288.68" y="67.26" width="2.35" height="2.35" fill="#eeaa62"/><rect x="244.00" y="79.00" width="2.35" height="2.35" fill="#acdce8"/><rect x="244.00" y="81.35" width="2.35" height="2.35" fill="#eeaa62"/><rect x="260.46" y="74.31" width="7.05" height="11.74" fill="#acdce8"/><rect x="255.75" y="74.31" width="4.70" height="9.39" fill="#eeaa62"/><rect x="258.10" y="86.05" width="7.05" height="2.35" fill="#eeaa62"/><rect x="255.75" y="88.40" width="7.05" height="9.39" fill="#eeaa62"/><rect x="262.81" y="100.14" width="9.41" height="2.35" fill="#eeaa62"/><rect x="265.16" y="90.74" width="11.76" height="9.39" fill="#eeaa62"/><rect x="274.57" y="81.35" width="4.70" height="7.04" fill="#eeaa62"/><rect x="279.27" y="93.09" width="7.05" height="4.70" fill="#eeaa62"/><rect x="288.68" y="95.44" width="9.41" height="9.39" fill="#eeaa62"/><rect x="276.92" y="104.83" width="9.41" height="18.78" fill="#acdce8"/><rect x="274.57" y="111.88" width="2.35" height="7.04" fill="#acdce8"/><rect x="283.97" y="104.83" width="7.05" height="4.70" fill="#acdce8"/><rect x="286.32" y="109.53" width="4.70" height="2.35" fill="#eeaa62"/><rect x="283.97" y="111.88" width="7.05" height="2.35" fill="#f2e08e"/><rect x="286.32" y="114.22" width="4.70" height="4.70" fill="#ffffff"/><rect x="288.68" y="118.92" width="2.35" height="4.70" fill="#acdce8"/><rect x="291.03" y="107.18" width="4.70" height="4.70" fill="#acdce8"/><rect x="291.03" y="111.88" width="9.41" height="9.39" fill="#eeaa62"/><rect x="291.03" y="118.92" width="7.05" height="7.04" fill="#f2e08e"/><rect x="293.38" y="125.96" width="2.35" height="4.70" fill="#f2e08e"/><rect x="316.90" y="123.62" width="2.35" height="2.35" fill="#f2e08e"/><rect x="314.54" y="128.31" width="2.35" height="2.35" fill="#eeaa62"/><rect x="314.54" y="128.31" width="2.35" height="2.35" fill="#d8342b"/><rect x="312.19" y="130.66" width="2.35" height="2.35" fill="#eeaa62"/><rect x="239.29" y="86.05" width="4.70" height="2.35" fill="#eeaa62"/><rect x="241.64" y="86.05" width="2.35" height="2.35" fill="#d8342b"/></g><path d="M56.59 44.51h0.9v0.9h-0.9z M56.59 46.86h0.9v0.9h-0.9z M58.94 44.51h0.9v0.9h-0.9z M58.94 46.86h0.9v0.9h-0.9z M65.99 42.16h0.9v0.9h-0.9z M68.35 42.16h0.9v0.9h-0.9z M73.05 49.20h0.9v0.9h-0.9z M75.40 49.20h0.9v0.9h-0.9z M77.75 46.86h0.9v0.9h-0.9z M77.75 49.20h0.9v0.9h-0.9z M80.10 46.86h0.9v0.9h-0.9z M80.10 51.55h0.9v0.9h-0.9z M80.10 53.90h0.9v0.9h-0.9z M82.46 51.55h0.9v0.9h-0.9z M82.46 53.90h0.9v0.9h-0.9z M82.46 56.25h0.9v0.9h-0.9z M84.81 51.55h0.9v0.9h-0.9z M84.81 53.90h0.9v0.9h-0.9z M87.16 46.86h0.9v0.9h-0.9z M87.16 49.20h0.9v0.9h-0.9z M87.16 51.55h0.9v0.9h-0.9z M87.16 53.90h0.9v0.9h-0.9z M89.51 46.86h0.9v0.9h-0.9z M89.51 49.20h0.9v0.9h-0.9z M89.51 51.55h0.9v0.9h-0.9z M89.51 53.90h0.9v0.9h-0.9z M89.51 56.25h0.9v0.9h-0.9z M91.86 46.86h0.9v0.9h-0.9z M91.86 49.20h0.9v0.9h-0.9z M91.86 51.55h0.9v0.9h-0.9z M94.21 46.86h0.9v0.9h-0.9z M94.21 49.20h0.9v0.9h-0.9z M94.21 51.55h0.9v0.9h-0.9z M96.57 46.86h0.9v0.9h-0.9z M96.57 49.20h0.9v0.9h-0.9z M96.57 51.55h0.9v0.9h-0.9z M96.57 67.99h0.9v0.9h-0.9z M96.57 70.34h0.9v0.9h-0.9z M96.57 72.68h0.9v0.9h-0.9z M98.92 46.86h0.9v0.9h-0.9z M98.92 49.20h0.9v0.9h-0.9z M98.92 51.55h0.9v0.9h-0.9z M98.92 67.99h0.9v0.9h-0.9z M98.92 70.34h0.9v0.9h-0.9z M98.92 72.68h0.9v0.9h-0.9z M101.27 67.99h0.9v0.9h-0.9z M101.27 70.34h0.9v0.9h-0.9z M101.27 72.68h0.9v0.9h-0.9z M101.27 75.03h0.9v0.9h-0.9z M103.62 67.99h0.9v0.9h-0.9z M103.62 70.34h0.9v0.9h-0.9z M103.62 72.68h0.9v0.9h-0.9z M103.62 75.03h0.9v0.9h-0.9z M105.97 53.90h0.9v0.9h-0.9z M105.97 56.25h0.9v0.9h-0.9z M105.97 58.60h0.9v0.9h-0.9z M108.32 53.90h0.9v0.9h-0.9z M108.32 56.25h0.9v0.9h-0.9z M108.32 58.60h0.9v0.9h-0.9z M110.68 53.90h0.9v0.9h-0.9z M110.68 56.25h0.9v0.9h-0.9z M110.68 58.60h0.9v0.9h-0.9z M113.03 53.90h0.9v0.9h-0.9z M113.03 56.25h0.9v0.9h-0.9z M113.03 58.60h0.9v0.9h-0.9z M115.38 56.25h0.9v0.9h-0.9z M115.38 58.60h0.9v0.9h-0.9z M115.38 60.94h0.9v0.9h-0.9z M115.38 63.29h0.9v0.9h-0.9z M117.73 56.25h0.9v0.9h-0.9z M117.73 58.60h0.9v0.9h-0.9z M117.73 60.94h0.9v0.9h-0.9z M117.73 63.29h0.9v0.9h-0.9z M117.73 89.12h0.9v0.9h-0.9z M117.73 91.47h0.9v0.9h-0.9z M117.73 93.82h0.9v0.9h-0.9z M117.73 96.16h0.9v0.9h-0.9z M117.73 98.51h0.9v0.9h-0.9z M117.73 100.86h0.9v0.9h-0.9z M120.08 56.25h0.9v0.9h-0.9z M120.08 58.60h0.9v0.9h-0.9z M120.08 60.94h0.9v0.9h-0.9z M120.08 63.29h0.9v0.9h-0.9z M120.08 89.12h0.9v0.9h-0.9z M120.08 91.47h0.9v0.9h-0.9z M120.08 93.82h0.9v0.9h-0.9z M120.08 96.16h0.9v0.9h-0.9z M120.08 98.51h0.9v0.9h-0.9z M120.08 100.86h0.9v0.9h-0.9z M122.43 89.12h0.9v0.9h-0.9z M122.43 91.47h0.9v0.9h-0.9z M122.43 93.82h0.9v0.9h-0.9z M122.43 96.16h0.9v0.9h-0.9z M122.43 98.51h0.9v0.9h-0.9z M122.43 100.86h0.9v0.9h-0.9z M124.79 89.12h0.9v0.9h-0.9z M124.79 91.47h0.9v0.9h-0.9z M124.79 93.82h0.9v0.9h-0.9z M124.79 96.16h0.9v0.9h-0.9z M124.79 98.51h0.9v0.9h-0.9z M124.79 100.86h0.9v0.9h-0.9z M127.14 89.12h0.9v0.9h-0.9z M127.14 91.47h0.9v0.9h-0.9z M127.14 93.82h0.9v0.9h-0.9z M127.14 96.16h0.9v0.9h-0.9z M127.14 98.51h0.9v0.9h-0.9z M127.14 100.86h0.9v0.9h-0.9z M127.14 103.21h0.9v0.9h-0.9z M127.14 105.56h0.9v0.9h-0.9z M127.14 110.25h0.9v0.9h-0.9z M129.49 89.12h0.9v0.9h-0.9z M129.49 91.47h0.9v0.9h-0.9z M129.49 93.82h0.9v0.9h-0.9z M129.49 96.16h0.9v0.9h-0.9z M129.49 98.51h0.9v0.9h-0.9z M129.49 100.86h0.9v0.9h-0.9z M129.49 103.21h0.9v0.9h-0.9z M129.49 105.56h0.9v0.9h-0.9z M129.49 107.90h0.9v0.9h-0.9z M131.84 56.25h0.9v0.9h-0.9z M131.84 58.60h0.9v0.9h-0.9z M131.84 93.82h0.9v0.9h-0.9z M131.84 96.16h0.9v0.9h-0.9z M131.84 98.51h0.9v0.9h-0.9z M131.84 100.86h0.9v0.9h-0.9z M131.84 103.21h0.9v0.9h-0.9z M131.84 105.56h0.9v0.9h-0.9z M131.84 110.25h0.9v0.9h-0.9z M134.19 93.82h0.9v0.9h-0.9z M134.19 96.16h0.9v0.9h-0.9z M134.19 98.51h0.9v0.9h-0.9z M134.19 100.86h0.9v0.9h-0.9z M134.19 103.21h0.9v0.9h-0.9z M134.19 105.56h0.9v0.9h-0.9z M134.19 110.25h0.9v0.9h-0.9z M136.54 93.82h0.9v0.9h-0.9z M136.54 96.16h0.9v0.9h-0.9z M136.54 98.51h0.9v0.9h-0.9z M136.54 100.86h0.9v0.9h-0.9z M136.54 103.21h0.9v0.9h-0.9z M136.54 105.56h0.9v0.9h-0.9z M136.54 107.90h0.9v0.9h-0.9z M136.54 110.25h0.9v0.9h-0.9z M138.90 93.82h0.9v0.9h-0.9z M138.90 96.16h0.9v0.9h-0.9z M138.90 98.51h0.9v0.9h-0.9z M138.90 100.86h0.9v0.9h-0.9z M138.90 103.21h0.9v0.9h-0.9z M138.90 105.56h0.9v0.9h-0.9z M138.90 107.90h0.9v0.9h-0.9z M138.90 110.25h0.9v0.9h-0.9z M141.25 93.82h0.9v0.9h-0.9z M141.25 96.16h0.9v0.9h-0.9z M141.25 98.51h0.9v0.9h-0.9z M141.25 100.86h0.9v0.9h-0.9z M141.25 105.56h0.9v0.9h-0.9z M141.25 107.90h0.9v0.9h-0.9z M141.25 110.25h0.9v0.9h-0.9z M143.60 93.82h0.9v0.9h-0.9z M143.60 96.16h0.9v0.9h-0.9z M143.60 98.51h0.9v0.9h-0.9z M143.60 100.86h0.9v0.9h-0.9z M143.60 105.56h0.9v0.9h-0.9z M143.60 107.90h0.9v0.9h-0.9z M143.60 110.25h0.9v0.9h-0.9z M145.95 93.82h0.9v0.9h-0.9z M145.95 96.16h0.9v0.9h-0.9z M145.95 98.51h0.9v0.9h-0.9z M145.95 100.86h0.9v0.9h-0.9z M145.95 105.56h0.9v0.9h-0.9z M145.95 107.90h0.9v0.9h-0.9z M145.95 110.25h0.9v0.9h-0.9z M148.30 93.82h0.9v0.9h-0.9z M148.30 96.16h0.9v0.9h-0.9z M148.30 98.51h0.9v0.9h-0.9z M148.30 100.86h0.9v0.9h-0.9z M148.30 103.21h0.9v0.9h-0.9z M148.30 105.56h0.9v0.9h-0.9z M148.30 107.90h0.9v0.9h-0.9z M148.30 110.25h0.9v0.9h-0.9z M178.87 53.90h0.9v0.9h-0.9z M178.87 56.25h0.9v0.9h-0.9z M181.23 53.90h0.9v0.9h-0.9z M181.23 56.25h0.9v0.9h-0.9z M183.58 53.90h0.9v0.9h-0.9z M185.93 53.90h0.9v0.9h-0.9z M185.93 56.25h0.9v0.9h-0.9z M188.28 53.90h0.9v0.9h-0.9z M188.28 56.25h0.9v0.9h-0.9z M190.63 56.25h0.9v0.9h-0.9z M190.63 58.60h0.9v0.9h-0.9z M190.63 89.12h0.9v0.9h-0.9z M190.63 91.47h0.9v0.9h-0.9z M192.98 56.25h0.9v0.9h-0.9z M192.98 58.60h0.9v0.9h-0.9z M192.98 89.12h0.9v0.9h-0.9z M192.98 91.47h0.9v0.9h-0.9z M192.98 93.82h0.9v0.9h-0.9z M195.34 56.25h0.9v0.9h-0.9z M195.34 58.60h0.9v0.9h-0.9z M195.34 89.12h0.9v0.9h-0.9z M195.34 91.47h0.9v0.9h-0.9z M195.34 93.82h0.9v0.9h-0.9z M197.69 56.25h0.9v0.9h-0.9z M197.69 58.60h0.9v0.9h-0.9z M197.69 89.12h0.9v0.9h-0.9z M197.69 91.47h0.9v0.9h-0.9z M197.69 93.82h0.9v0.9h-0.9z M197.69 96.16h0.9v0.9h-0.9z M200.04 56.25h0.9v0.9h-0.9z M200.04 58.60h0.9v0.9h-0.9z M200.04 89.12h0.9v0.9h-0.9z M200.04 91.47h0.9v0.9h-0.9z M200.04 93.82h0.9v0.9h-0.9z M200.04 96.16h0.9v0.9h-0.9z M202.39 56.25h0.9v0.9h-0.9z M202.39 58.60h0.9v0.9h-0.9z M202.39 89.12h0.9v0.9h-0.9z M202.39 91.47h0.9v0.9h-0.9z M202.39 93.82h0.9v0.9h-0.9z M204.74 100.86h0.9v0.9h-0.9z M204.74 103.21h0.9v0.9h-0.9z M204.74 105.56h0.9v0.9h-0.9z M207.09 49.20h0.9v0.9h-0.9z M207.09 51.55h0.9v0.9h-0.9z M207.09 53.90h0.9v0.9h-0.9z M207.09 86.77h0.9v0.9h-0.9z M207.09 89.12h0.9v0.9h-0.9z M207.09 100.86h0.9v0.9h-0.9z M207.09 103.21h0.9v0.9h-0.9z M207.09 105.56h0.9v0.9h-0.9z M209.45 49.20h0.9v0.9h-0.9z M209.45 51.55h0.9v0.9h-0.9z M209.45 53.90h0.9v0.9h-0.9z M209.45 86.77h0.9v0.9h-0.9z M209.45 89.12h0.9v0.9h-0.9z M209.45 91.47h0.9v0.9h-0.9z M209.45 100.86h0.9v0.9h-0.9z M209.45 103.21h0.9v0.9h-0.9z M209.45 105.56h0.9v0.9h-0.9z M211.80 49.20h0.9v0.9h-0.9z M211.80 51.55h0.9v0.9h-0.9z M211.80 53.90h0.9v0.9h-0.9z M214.15 49.20h0.9v0.9h-0.9z M214.15 51.55h0.9v0.9h-0.9z M216.50 49.20h0.9v0.9h-0.9z M216.50 51.55h0.9v0.9h-0.9z M218.85 49.20h0.9v0.9h-0.9z M218.85 51.55h0.9v0.9h-0.9z M221.20 49.20h0.9v0.9h-0.9z M221.20 51.55h0.9v0.9h-0.9z M223.56 53.90h0.9v0.9h-0.9z M225.91 53.90h0.9v0.9h-0.9z M228.26 53.90h0.9v0.9h-0.9z M230.61 49.20h0.9v0.9h-0.9z M230.61 51.55h0.9v0.9h-0.9z M232.96 49.20h0.9v0.9h-0.9z M232.96 51.55h0.9v0.9h-0.9z M235.31 49.20h0.9v0.9h-0.9z M235.31 51.55h0.9v0.9h-0.9z M237.67 49.20h0.9v0.9h-0.9z M237.67 51.55h0.9v0.9h-0.9z M247.07 51.55h0.9v0.9h-0.9z M247.07 53.90h0.9v0.9h-0.9z M247.07 56.25h0.9v0.9h-0.9z M249.42 51.55h0.9v0.9h-0.9z M249.42 53.90h0.9v0.9h-0.9z M249.42 56.25h0.9v0.9h-0.9z M251.78 51.55h0.9v0.9h-0.9z M251.78 53.90h0.9v0.9h-0.9z M251.78 56.25h0.9v0.9h-0.9z M256.48 89.12h0.9v0.9h-0.9z M256.48 91.47h0.9v0.9h-0.9z M256.48 93.82h0.9v0.9h-0.9z M256.48 96.16h0.9v0.9h-0.9z M258.83 53.90h0.9v0.9h-0.9z M258.83 56.25h0.9v0.9h-0.9z M258.83 86.77h0.9v0.9h-0.9z M258.83 89.12h0.9v0.9h-0.9z M258.83 91.47h0.9v0.9h-0.9z M258.83 93.82h0.9v0.9h-0.9z M258.83 96.16h0.9v0.9h-0.9z M261.18 53.90h0.9v0.9h-0.9z M261.18 56.25h0.9v0.9h-0.9z M261.18 70.34h0.9v0.9h-0.9z M261.18 72.68h0.9v0.9h-0.9z M261.18 75.03h0.9v0.9h-0.9z M261.18 77.38h0.9v0.9h-0.9z M261.18 79.73h0.9v0.9h-0.9z M261.18 82.08h0.9v0.9h-0.9z M261.18 84.42h0.9v0.9h-0.9z M261.18 86.77h0.9v0.9h-0.9z M261.18 89.12h0.9v0.9h-0.9z M261.18 91.47h0.9v0.9h-0.9z M261.18 93.82h0.9v0.9h-0.9z M261.18 96.16h0.9v0.9h-0.9z M263.53 53.90h0.9v0.9h-0.9z M263.53 56.25h0.9v0.9h-0.9z M263.53 67.99h0.9v0.9h-0.9z M263.53 70.34h0.9v0.9h-0.9z M263.53 72.68h0.9v0.9h-0.9z M263.53 75.03h0.9v0.9h-0.9z M263.53 77.38h0.9v0.9h-0.9z M263.53 79.73h0.9v0.9h-0.9z M263.53 82.08h0.9v0.9h-0.9z M263.53 84.42h0.9v0.9h-0.9z M263.53 86.77h0.9v0.9h-0.9z M265.89 53.90h0.9v0.9h-0.9z M265.89 56.25h0.9v0.9h-0.9z M265.89 67.99h0.9v0.9h-0.9z M265.89 70.34h0.9v0.9h-0.9z M265.89 72.68h0.9v0.9h-0.9z M265.89 75.03h0.9v0.9h-0.9z M265.89 77.38h0.9v0.9h-0.9z M265.89 79.73h0.9v0.9h-0.9z M265.89 82.08h0.9v0.9h-0.9z M265.89 84.42h0.9v0.9h-0.9z M265.89 91.47h0.9v0.9h-0.9z M265.89 93.82h0.9v0.9h-0.9z M265.89 96.16h0.9v0.9h-0.9z M265.89 98.51h0.9v0.9h-0.9z M268.24 53.90h0.9v0.9h-0.9z M268.24 56.25h0.9v0.9h-0.9z M268.24 67.99h0.9v0.9h-0.9z M268.24 70.34h0.9v0.9h-0.9z M268.24 72.68h0.9v0.9h-0.9z M268.24 75.03h0.9v0.9h-0.9z M268.24 77.38h0.9v0.9h-0.9z M268.24 79.73h0.9v0.9h-0.9z M268.24 91.47h0.9v0.9h-0.9z M268.24 93.82h0.9v0.9h-0.9z M268.24 96.16h0.9v0.9h-0.9z M268.24 98.51h0.9v0.9h-0.9z M270.59 53.90h0.9v0.9h-0.9z M270.59 56.25h0.9v0.9h-0.9z M270.59 70.34h0.9v0.9h-0.9z M270.59 72.68h0.9v0.9h-0.9z M270.59 75.03h0.9v0.9h-0.9z M270.59 77.38h0.9v0.9h-0.9z M270.59 79.73h0.9v0.9h-0.9z M270.59 91.47h0.9v0.9h-0.9z M270.59 93.82h0.9v0.9h-0.9z M270.59 96.16h0.9v0.9h-0.9z M270.59 98.51h0.9v0.9h-0.9z M272.94 70.34h0.9v0.9h-0.9z M272.94 72.68h0.9v0.9h-0.9z M272.94 75.03h0.9v0.9h-0.9z M272.94 77.38h0.9v0.9h-0.9z M272.94 79.73h0.9v0.9h-0.9z M272.94 91.47h0.9v0.9h-0.9z M272.94 93.82h0.9v0.9h-0.9z M272.94 96.16h0.9v0.9h-0.9z M272.94 98.51h0.9v0.9h-0.9z M275.29 53.90h0.9v0.9h-0.9z M275.29 56.25h0.9v0.9h-0.9z M275.29 91.47h0.9v0.9h-0.9z M275.29 93.82h0.9v0.9h-0.9z M275.29 96.16h0.9v0.9h-0.9z M275.29 98.51h0.9v0.9h-0.9z M275.29 112.60h0.9v0.9h-0.9z M275.29 114.95h0.9v0.9h-0.9z M275.29 117.30h0.9v0.9h-0.9z M277.64 53.90h0.9v0.9h-0.9z M277.64 56.25h0.9v0.9h-0.9z M280.00 53.90h0.9v0.9h-0.9z M280.00 56.25h0.9v0.9h-0.9z M282.35 53.90h0.9v0.9h-0.9z M282.35 56.25h0.9v0.9h-0.9z M289.40 96.16h0.9v0.9h-0.9z M289.40 98.51h0.9v0.9h-0.9z M289.40 100.86h0.9v0.9h-0.9z M289.40 103.21h0.9v0.9h-0.9z M291.75 96.16h0.9v0.9h-0.9z M291.75 98.51h0.9v0.9h-0.9z M291.75 100.86h0.9v0.9h-0.9z M291.75 103.21h0.9v0.9h-0.9z M294.11 96.16h0.9v0.9h-0.9z M294.11 98.51h0.9v0.9h-0.9z M294.11 100.86h0.9v0.9h-0.9z M294.11 103.21h0.9v0.9h-0.9z M296.46 96.16h0.9v0.9h-0.9z M296.46 98.51h0.9v0.9h-0.9z M296.46 100.86h0.9v0.9h-0.9z M296.46 103.21h0.9v0.9h-0.9z" fill="#2a2a2a" fill-opacity="0.75"/></g>
<use href="#coast" transform="translate(0,0)"/>
<line x1="35.9" y1="25.0" x2="325.1" y2="25.0" stroke="#a8a8a8" stroke-width="1.8"/>
<line x1="39.4" y1="22.0" x2="39.4" y2="145.4" stroke="#555" stroke-width="1.3"/>
<line x1="321.6" y1="22.0" x2="321.6" y2="145.4" stroke="#666" stroke-width="1.3"/>
<line x1="35.9" y1="142.4" x2="325.1" y2="142.4" stroke="#555" stroke-width="1.3"/>
<path d="M39.4 142.4 L39.4 145.4 M39.4 25.0 L39.4 22.0 M86.4 142.4 L86.4 145.4 M86.4 25.0 L86.4 22.0 M133.5 142.4 L133.5 145.4 M133.5 25.0 L133.5 22.0 M180.5 142.4 L180.5 145.4 M180.5 25.0 L180.5 22.0 M227.5 142.4 L227.5 145.4 M227.5 25.0 L227.5 22.0 M274.6 142.4 L274.6 145.4 M274.6 25.0 L274.6 22.0 M321.6 142.4 L321.6 145.4 M321.6 25.0 L321.6 22.0 M39.4 142.4 L36.4 142.4 M321.6 142.4 L324.6 142.4 M39.4 118.9 L36.4 118.9 M321.6 118.9 L324.6 118.9 M39.4 95.4 L36.4 95.4 M321.6 95.4 L324.6 95.4 M39.4 72.0 L36.4 72.0 M321.6 72.0 L324.6 72.0 M39.4 48.5 L36.4 48.5 M321.6 48.5 L324.6 48.5 M39.4 25.0 L36.4 25.0 M321.6 25.0 L324.6 25.0" stroke="#555" stroke-width="0.9"/>
<text x="39.4" y="154.7" font-size="9.2" text-anchor="middle" fill="#333" >180°</text>
<text x="86.4" y="154.7" font-size="9.2" text-anchor="middle" fill="#333" >120°W</text>
<text x="133.5" y="154.7" font-size="9.2" text-anchor="middle" fill="#333" >60°W</text>
<text x="180.5" y="154.7" font-size="9.2" text-anchor="middle" fill="#333" >0°</text>
<text x="227.5" y="154.7" font-size="9.2" text-anchor="middle" fill="#333" >60°E</text>
<text x="274.6" y="154.7" font-size="9.2" text-anchor="middle" fill="#333" >120°E</text>
<text x="321.6" y="154.7" font-size="9.2" text-anchor="middle" fill="#333" >180°</text>
<text x="34.4" y="28.3" font-size="9.2" text-anchor="end" fill="#333" >90°N</text>
<text x="34.4" y="51.8" font-size="9.2" text-anchor="end" fill="#333" >60°N</text>
<text x="34.4" y="75.3" font-size="9.2" text-anchor="end" fill="#333" >30°N</text>
<text x="34.4" y="98.7" font-size="9.2" text-anchor="end" fill="#333" >0°</text>
<text x="34.4" y="122.2" font-size="9.2" text-anchor="end" fill="#333" >30°S</text>
<text x="34.4" y="145.7" font-size="9.2" text-anchor="end" fill="#333" >60°S</text>
<text x="180.5" y="166.9" font-size="11.5" text-anchor="middle" fill="#222" letter-spacing="0.4">Longitude</text>
<text transform="translate(9.8,83.3) rotate(-90)" font-size="11.5" text-anchor="middle" fill="#2b2b2b" letter-spacing="0.45">Latitude</text>
<mask id="lm_b" maskUnits="userSpaceOnUse" x="0" y="0" width="685" height="461"><use href="#land" transform="translate(353.1,0)"/></mask>
<g mask="url(#lm_b)"><g shape-rendering="crispEdges"><rect x="406.61" y="41.44" width="23.52" height="7.04" fill="#acdce8"/><rect x="420.72" y="43.78" width="9.41" height="4.70" fill="#e0f3f7"/><rect x="423.07" y="41.44" width="4.70" height="2.35" fill="#eeaa62"/><rect x="413.67" y="46.13" width="2.35" height="2.35" fill="#eeaa62"/><rect x="413.67" y="48.48" width="2.35" height="2.35" fill="#77aed1"/><rect x="425.42" y="46.13" width="18.81" height="9.39" fill="#eeaa62"/><rect x="430.13" y="43.78" width="2.35" height="2.35" fill="#f2e08e"/><rect x="437.18" y="46.13" width="7.05" height="2.35" fill="#e0f3f7"/><rect x="425.42" y="50.83" width="7.05" height="7.04" fill="#acdce8"/><rect x="432.48" y="55.52" width="11.76" height="2.35" fill="#acdce8"/><rect x="439.53" y="50.83" width="2.35" height="2.35" fill="#f2e08e"/><rect x="437.18" y="48.48" width="7.05" height="4.70" fill="#e0f3f7"/><rect x="444.24" y="48.48" width="14.11" height="4.70" fill="#acdce8"/><rect x="453.64" y="53.18" width="18.81" height="7.04" fill="#acdce8"/><rect x="460.70" y="53.18" width="4.70" height="2.35" fill="#f2e08e"/><rect x="467.75" y="53.18" width="4.70" height="7.04" fill="#acdce8"/><rect x="446.59" y="64.92" width="25.87" height="7.04" fill="#eeaa62"/><rect x="446.59" y="71.96" width="14.11" height="4.70" fill="#eeaa62"/><rect x="456.00" y="64.92" width="2.35" height="4.70" fill="#d8342b"/><rect x="446.59" y="71.96" width="4.70" height="2.35" fill="#eb6c46"/><rect x="456.00" y="69.61" width="4.70" height="2.35" fill="#f2e08e"/><rect x="460.70" y="67.26" width="2.35" height="2.35" fill="#e0f3f7"/><rect x="460.70" y="71.96" width="11.76" height="7.04" fill="#acdce8"/><rect x="453.64" y="74.31" width="4.70" height="4.70" fill="#acdce8"/><rect x="453.64" y="76.66" width="2.35" height="2.35" fill="#77aed1"/><rect x="467.75" y="53.18" width="11.76" height="16.44" fill="#acdce8"/><rect x="472.46" y="53.18" width="4.70" height="2.35" fill="#f2e08e"/><rect x="472.46" y="55.52" width="9.41" height="2.35" fill="#eeaa62"/><rect x="479.51" y="53.18" width="11.76" height="4.70" fill="#acdce8"/><rect x="484.22" y="55.52" width="7.05" height="2.35" fill="#e0f3f7"/><rect x="484.22" y="53.18" width="2.35" height="2.35" fill="#f2e08e"/><rect x="470.11" y="60.22" width="9.41" height="4.70" fill="#77aed1"/><rect x="470.11" y="67.26" width="2.35" height="2.35" fill="#eeaa62"/><rect x="467.75" y="69.61" width="2.35" height="2.35" fill="#f2e08e"/><rect x="467.75" y="71.96" width="4.70" height="2.35" fill="#acdce8"/><rect x="477.16" y="79.00" width="2.35" height="2.35" fill="#f2e08e"/><rect x="448.94" y="74.31" width="7.05" height="9.39" fill="#eeaa62"/><rect x="453.64" y="79.00" width="2.35" height="2.35" fill="#acdce8"/><rect x="456.00" y="81.35" width="11.76" height="4.70" fill="#eeaa62"/><rect x="460.70" y="83.70" width="4.70" height="2.35" fill="#acdce8"/><rect x="472.46" y="86.05" width="28.22" height="25.83" fill="#eeaa62"/><rect x="481.86" y="90.74" width="18.81" height="18.78" fill="#eb6c46"/><rect x="491.27" y="93.09" width="9.41" height="9.39" fill="#d8342b"/><rect x="500.68" y="102.48" width="2.35" height="4.70" fill="#a31b2b"/><rect x="498.32" y="100.14" width="2.35" height="4.70" fill="#ffffff"/><rect x="486.57" y="107.18" width="2.35" height="2.35" fill="#ffffff"/><rect x="470.11" y="90.74" width="4.70" height="11.74" fill="#acdce8"/><rect x="479.51" y="109.53" width="2.35" height="9.39" fill="#a31b2b"/><rect x="474.81" y="109.53" width="4.70" height="11.74" fill="#acdce8"/><rect x="481.86" y="111.88" width="11.76" height="9.39" fill="#acdce8"/><rect x="486.57" y="114.22" width="2.35" height="2.35" fill="#eeaa62"/><rect x="481.86" y="118.92" width="4.70" height="2.35" fill="#f2e08e"/><rect x="491.27" y="109.53" width="2.35" height="2.35" fill="#eeaa62"/><rect x="477.16" y="118.92" width="2.35" height="14.09" fill="#eeaa62"/><rect x="479.51" y="121.27" width="7.05" height="9.39" fill="#acdce8"/><rect x="474.81" y="130.66" width="4.70" height="7.04" fill="#acdce8"/><rect x="524.19" y="48.48" width="9.41" height="7.04" fill="#acdce8"/><rect x="528.90" y="53.18" width="11.76" height="11.74" fill="#eeaa62"/><rect x="533.60" y="60.22" width="2.35" height="2.35" fill="#d8342b"/><rect x="538.30" y="64.92" width="2.35" height="2.35" fill="#d8342b"/><rect x="538.30" y="43.78" width="18.81" height="9.39" fill="#acdce8"/><rect x="547.71" y="46.13" width="2.35" height="4.70" fill="#ffffff"/><rect x="547.71" y="41.44" width="4.70" height="2.35" fill="#eeaa62"/><rect x="552.41" y="41.44" width="4.70" height="4.70" fill="#f2e08e"/><rect x="545.36" y="43.78" width="2.35" height="2.35" fill="#f2e08e"/><rect x="557.12" y="41.44" width="21.16" height="11.74" fill="#acdce8"/><rect x="566.52" y="43.78" width="16.46" height="4.70" fill="#eeaa62"/><rect x="568.88" y="48.48" width="9.41" height="4.70" fill="#f2e08e"/><rect x="578.28" y="46.13" width="9.41" height="7.04" fill="#eeaa62"/><rect x="582.99" y="46.13" width="14.11" height="7.04" fill="#acdce8"/><rect x="587.69" y="48.48" width="7.05" height="4.70" fill="#f2e08e"/><rect x="592.39" y="48.48" width="4.70" height="2.35" fill="#eeaa62"/><rect x="538.30" y="50.83" width="7.05" height="9.39" fill="#acdce8"/><rect x="545.36" y="53.18" width="4.70" height="4.70" fill="#f2e08e"/><rect x="550.06" y="53.18" width="9.41" height="4.70" fill="#eeaa62"/><rect x="550.06" y="53.18" width="4.70" height="2.35" fill="#acdce8"/><rect x="545.36" y="57.87" width="9.41" height="2.35" fill="#eeaa62"/><rect x="552.41" y="57.87" width="2.35" height="2.35" fill="#d8342b"/><rect x="561.82" y="55.52" width="2.35" height="2.35" fill="#eeaa62"/><rect x="566.52" y="60.22" width="2.35" height="2.35" fill="#eeaa62"/><rect x="592.39" y="76.66" width="2.35" height="2.35" fill="#d8342b"/><rect x="594.74" y="71.96" width="2.35" height="2.35" fill="#acdce8"/><rect x="521.84" y="86.05" width="7.05" height="2.35" fill="#acdce8"/><rect x="521.84" y="86.05" width="2.35" height="2.35" fill="#77aed1"/><rect x="524.19" y="88.40" width="16.46" height="4.70" fill="#eeaa62"/><rect x="526.54" y="90.74" width="7.05" height="2.35" fill="#f2e08e"/><rect x="533.60" y="86.05" width="7.05" height="2.35" fill="#acdce8"/><rect x="540.65" y="88.40" width="16.46" height="4.70" fill="#acdce8"/><rect x="540.65" y="90.74" width="23.52" height="16.44" fill="#eeaa62"/><rect x="552.41" y="93.09" width="2.35" height="4.70" fill="#f2e08e"/><rect x="557.12" y="95.44" width="4.70" height="4.70" fill="#acdce8"/><rect x="547.71" y="100.14" width="18.81" height="7.04" fill="#eb6c46"/><rect x="550.06" y="107.18" width="7.05" height="2.35" fill="#d8342b"/><rect x="561.82" y="102.48" width="2.35" height="4.70" fill="#d8342b"/><rect x="559.47" y="86.05" width="4.70" height="4.70" fill="#77aed1"/><rect x="559.47" y="90.74" width="4.70" height="2.35" fill="#323595"/><rect x="561.82" y="95.44" width="2.35" height="2.35" fill="#acdce8"/><rect x="545.36" y="109.53" width="2.35" height="2.35" fill="#a31b2b"/><rect x="554.76" y="107.18" width="7.05" height="4.70" fill="#eeaa62"/><rect x="552.41" y="111.88" width="7.05" height="9.39" fill="#acdce8"/><rect x="550.06" y="114.22" width="2.35" height="7.04" fill="#a31b2b"/><rect x="547.71" y="121.27" width="7.05" height="2.35" fill="#acdce8"/><rect x="566.52" y="104.83" width="7.05" height="9.39" fill="#eb6c46"/><rect x="543.01" y="100.14" width="2.35" height="2.35" fill="#77aed1"/><rect x="592.39" y="46.13" width="4.70" height="7.04" fill="#eeaa62"/><rect x="594.74" y="48.48" width="7.05" height="4.70" fill="#f2e08e"/><rect x="597.10" y="46.13" width="14.11" height="4.70" fill="#acdce8"/><rect x="604.15" y="48.48" width="7.05" height="2.35" fill="#f2e08e"/><rect x="599.45" y="50.83" width="11.76" height="2.35" fill="#eeaa62"/><rect x="608.85" y="48.48" width="14.11" height="4.70" fill="#acdce8"/><rect x="613.56" y="50.83" width="4.70" height="2.35" fill="#eeaa62"/><rect x="611.20" y="53.18" width="4.70" height="2.35" fill="#f2e08e"/><rect x="611.20" y="55.52" width="11.76" height="2.35" fill="#eeaa62"/><rect x="622.96" y="53.18" width="2.35" height="2.35" fill="#f2e08e"/><rect x="627.67" y="53.18" width="14.11" height="4.70" fill="#acdce8"/><rect x="639.42" y="50.83" width="7.05" height="11.74" fill="#acdce8"/><rect x="639.42" y="53.18" width="7.05" height="4.70" fill="#eeaa62"/><rect x="644.13" y="60.22" width="2.35" height="2.35" fill="#77aed1"/><rect x="632.37" y="62.57" width="11.76" height="7.04" fill="#acdce8"/><rect x="634.72" y="69.61" width="2.35" height="2.35" fill="#eeaa62"/><rect x="641.78" y="67.26" width="2.35" height="2.35" fill="#eeaa62"/><rect x="604.15" y="64.92" width="25.87" height="16.44" fill="#acdce8"/><rect x="608.85" y="67.26" width="16.46" height="11.74" fill="#77aed1"/><rect x="613.56" y="67.26" width="7.05" height="2.35" fill="#4876b5"/><rect x="613.56" y="79.00" width="7.05" height="7.04" fill="#eeaa62"/><rect x="594.74" y="71.96" width="4.70" height="2.35" fill="#acdce8"/><rect x="597.10" y="74.31" width="2.35" height="2.35" fill="#eeaa62"/><rect x="597.10" y="79.00" width="2.35" height="2.35" fill="#eeaa62"/><rect x="592.39" y="76.66" width="2.35" height="2.35" fill="#d8342b"/><rect x="597.10" y="81.35" width="2.35" height="2.35" fill="#d8342b"/><rect x="606.50" y="76.66" width="2.35" height="2.35" fill="#eeaa62"/><rect x="608.85" y="74.31" width="18.81" height="4.70" fill="#acdce8"/><rect x="613.56" y="76.66" width="7.05" height="11.74" fill="#eeaa62"/><rect x="611.20" y="79.00" width="4.70" height="4.70" fill="#acdce8"/><rect x="608.85" y="86.05" width="7.05" height="11.74" fill="#eeaa62"/><rect x="618.26" y="90.74" width="11.76" height="9.39" fill="#eeaa62"/><rect x="620.61" y="93.09" width="4.70" height="2.35" fill="#f2e08e"/><rect x="627.67" y="81.35" width="4.70" height="7.04" fill="#eeaa62"/><rect x="615.91" y="100.14" width="9.41" height="2.35" fill="#eeaa62"/><rect x="632.37" y="93.09" width="18.81" height="11.74" fill="#eeaa62"/><rect x="630.02" y="104.83" width="18.81" height="7.04" fill="#eb6c46"/><rect x="634.72" y="104.83" width="4.70" height="2.35" fill="#d8342b"/><rect x="644.13" y="104.83" width="4.70" height="4.70" fill="#a31b2b"/><rect x="634.72" y="109.53" width="4.70" height="2.35" fill="#eeaa62"/><rect x="634.72" y="111.88" width="18.81" height="14.09" fill="#acdce8"/><rect x="644.13" y="114.22" width="7.05" height="9.39" fill="#77aed1"/><rect x="639.42" y="111.88" width="4.70" height="7.04" fill="#ffffff"/><rect x="622.96" y="111.88" width="4.70" height="2.35" fill="#a31b2b"/><rect x="630.02" y="116.57" width="4.70" height="2.35" fill="#77aed1"/><rect x="627.67" y="118.92" width="2.35" height="2.35" fill="#eeaa62"/><rect x="622.96" y="121.27" width="4.70" height="2.35" fill="#eeaa62"/><rect x="644.13" y="114.22" width="2.35" height="2.35" fill="#eeaa62"/><rect x="670.00" y="123.62" width="2.35" height="4.70" fill="#acdce8"/><rect x="670.00" y="125.96" width="2.35" height="2.35" fill="#f2e08e"/><rect x="665.29" y="128.31" width="2.35" height="4.70" fill="#acdce8"/><rect x="597.10" y="79.00" width="2.35" height="2.35" fill="#eeaa62"/><rect x="592.39" y="83.70" width="4.70" height="4.70" fill="#acdce8"/><rect x="592.39" y="76.66" width="2.35" height="2.35" fill="#d8342b"/></g><path d="M414.39 46.86h0.9v0.9h-0.9z M426.15 46.86h0.9v0.9h-0.9z M426.15 49.20h0.9v0.9h-0.9z M428.50 46.86h0.9v0.9h-0.9z M428.50 49.20h0.9v0.9h-0.9z M430.85 46.86h0.9v0.9h-0.9z M430.85 49.20h0.9v0.9h-0.9z M433.20 46.86h0.9v0.9h-0.9z M433.20 49.20h0.9v0.9h-0.9z M433.20 51.55h0.9v0.9h-0.9z M433.20 53.90h0.9v0.9h-0.9z M435.56 46.86h0.9v0.9h-0.9z M435.56 49.20h0.9v0.9h-0.9z M435.56 51.55h0.9v0.9h-0.9z M435.56 53.90h0.9v0.9h-0.9z M437.91 53.90h0.9v0.9h-0.9z M440.26 53.90h0.9v0.9h-0.9z M442.61 53.90h0.9v0.9h-0.9z M444.96 49.20h0.9v0.9h-0.9z M444.96 51.55h0.9v0.9h-0.9z M447.31 49.20h0.9v0.9h-0.9z M447.31 51.55h0.9v0.9h-0.9z M447.31 65.64h0.9v0.9h-0.9z M447.31 67.99h0.9v0.9h-0.9z M447.31 70.34h0.9v0.9h-0.9z M447.31 75.03h0.9v0.9h-0.9z M449.67 49.20h0.9v0.9h-0.9z M449.67 51.55h0.9v0.9h-0.9z M449.67 65.64h0.9v0.9h-0.9z M449.67 67.99h0.9v0.9h-0.9z M449.67 70.34h0.9v0.9h-0.9z M452.02 49.20h0.9v0.9h-0.9z M452.02 51.55h0.9v0.9h-0.9z M452.02 65.64h0.9v0.9h-0.9z M452.02 67.99h0.9v0.9h-0.9z M452.02 70.34h0.9v0.9h-0.9z M452.02 72.68h0.9v0.9h-0.9z M454.37 49.20h0.9v0.9h-0.9z M454.37 51.55h0.9v0.9h-0.9z M454.37 53.90h0.9v0.9h-0.9z M454.37 56.25h0.9v0.9h-0.9z M454.37 58.60h0.9v0.9h-0.9z M454.37 65.64h0.9v0.9h-0.9z M454.37 67.99h0.9v0.9h-0.9z M454.37 70.34h0.9v0.9h-0.9z M454.37 72.68h0.9v0.9h-0.9z M456.72 49.20h0.9v0.9h-0.9z M456.72 51.55h0.9v0.9h-0.9z M456.72 53.90h0.9v0.9h-0.9z M456.72 56.25h0.9v0.9h-0.9z M456.72 58.60h0.9v0.9h-0.9z M456.72 72.68h0.9v0.9h-0.9z M459.07 53.90h0.9v0.9h-0.9z M459.07 56.25h0.9v0.9h-0.9z M459.07 58.60h0.9v0.9h-0.9z M459.07 65.64h0.9v0.9h-0.9z M459.07 67.99h0.9v0.9h-0.9z M459.07 72.68h0.9v0.9h-0.9z M459.07 75.03h0.9v0.9h-0.9z M461.42 56.25h0.9v0.9h-0.9z M461.42 58.60h0.9v0.9h-0.9z M461.42 65.64h0.9v0.9h-0.9z M461.42 70.34h0.9v0.9h-0.9z M463.78 56.25h0.9v0.9h-0.9z M463.78 58.60h0.9v0.9h-0.9z M463.78 65.64h0.9v0.9h-0.9z M463.78 67.99h0.9v0.9h-0.9z M463.78 70.34h0.9v0.9h-0.9z M466.13 53.90h0.9v0.9h-0.9z M466.13 56.25h0.9v0.9h-0.9z M466.13 58.60h0.9v0.9h-0.9z M466.13 65.64h0.9v0.9h-0.9z M466.13 67.99h0.9v0.9h-0.9z M466.13 70.34h0.9v0.9h-0.9z M470.83 60.94h0.9v0.9h-0.9z M470.83 63.29h0.9v0.9h-0.9z M470.83 70.34h0.9v0.9h-0.9z M473.18 56.25h0.9v0.9h-0.9z M473.18 60.94h0.9v0.9h-0.9z M473.18 63.29h0.9v0.9h-0.9z M473.18 86.77h0.9v0.9h-0.9z M473.18 89.12h0.9v0.9h-0.9z M473.18 103.21h0.9v0.9h-0.9z M473.18 105.56h0.9v0.9h-0.9z M473.18 107.90h0.9v0.9h-0.9z M473.18 110.25h0.9v0.9h-0.9z M475.53 56.25h0.9v0.9h-0.9z M475.53 60.94h0.9v0.9h-0.9z M475.53 63.29h0.9v0.9h-0.9z M475.53 86.77h0.9v0.9h-0.9z M475.53 89.12h0.9v0.9h-0.9z M475.53 91.47h0.9v0.9h-0.9z M475.53 93.82h0.9v0.9h-0.9z M475.53 96.16h0.9v0.9h-0.9z M475.53 98.51h0.9v0.9h-0.9z M475.53 100.86h0.9v0.9h-0.9z M475.53 103.21h0.9v0.9h-0.9z M475.53 105.56h0.9v0.9h-0.9z M475.53 107.90h0.9v0.9h-0.9z M477.89 56.25h0.9v0.9h-0.9z M477.89 60.94h0.9v0.9h-0.9z M477.89 63.29h0.9v0.9h-0.9z M477.89 86.77h0.9v0.9h-0.9z M477.89 89.12h0.9v0.9h-0.9z M477.89 91.47h0.9v0.9h-0.9z M477.89 93.82h0.9v0.9h-0.9z M477.89 96.16h0.9v0.9h-0.9z M477.89 98.51h0.9v0.9h-0.9z M477.89 100.86h0.9v0.9h-0.9z M477.89 103.21h0.9v0.9h-0.9z M477.89 105.56h0.9v0.9h-0.9z M477.89 107.90h0.9v0.9h-0.9z M477.89 119.64h0.9v0.9h-0.9z M477.89 121.99h0.9v0.9h-0.9z M477.89 124.34h0.9v0.9h-0.9z M477.89 126.69h0.9v0.9h-0.9z M477.89 129.04h0.9v0.9h-0.9z M480.24 86.77h0.9v0.9h-0.9z M480.24 89.12h0.9v0.9h-0.9z M480.24 91.47h0.9v0.9h-0.9z M480.24 93.82h0.9v0.9h-0.9z M480.24 96.16h0.9v0.9h-0.9z M480.24 98.51h0.9v0.9h-0.9z M480.24 100.86h0.9v0.9h-0.9z M480.24 103.21h0.9v0.9h-0.9z M480.24 105.56h0.9v0.9h-0.9z M480.24 107.90h0.9v0.9h-0.9z M482.59 86.77h0.9v0.9h-0.9z M482.59 89.12h0.9v0.9h-0.9z M482.59 91.47h0.9v0.9h-0.9z M482.59 93.82h0.9v0.9h-0.9z M482.59 96.16h0.9v0.9h-0.9z M482.59 98.51h0.9v0.9h-0.9z M482.59 100.86h0.9v0.9h-0.9z M482.59 103.21h0.9v0.9h-0.9z M482.59 105.56h0.9v0.9h-0.9z M482.59 107.90h0.9v0.9h-0.9z M482.59 110.25h0.9v0.9h-0.9z M484.94 86.77h0.9v0.9h-0.9z M484.94 89.12h0.9v0.9h-0.9z M484.94 91.47h0.9v0.9h-0.9z M484.94 93.82h0.9v0.9h-0.9z M484.94 96.16h0.9v0.9h-0.9z M484.94 98.51h0.9v0.9h-0.9z M484.94 100.86h0.9v0.9h-0.9z M484.94 103.21h0.9v0.9h-0.9z M484.94 105.56h0.9v0.9h-0.9z M484.94 107.90h0.9v0.9h-0.9z M484.94 110.25h0.9v0.9h-0.9z M487.29 86.77h0.9v0.9h-0.9z M487.29 89.12h0.9v0.9h-0.9z M487.29 91.47h0.9v0.9h-0.9z M487.29 93.82h0.9v0.9h-0.9z M487.29 96.16h0.9v0.9h-0.9z M487.29 98.51h0.9v0.9h-0.9z M487.29 100.86h0.9v0.9h-0.9z M487.29 103.21h0.9v0.9h-0.9z M487.29 105.56h0.9v0.9h-0.9z M487.29 110.25h0.9v0.9h-0.9z M489.64 86.77h0.9v0.9h-0.9z M489.64 89.12h0.9v0.9h-0.9z M489.64 91.47h0.9v0.9h-0.9z M489.64 93.82h0.9v0.9h-0.9z M489.64 96.16h0.9v0.9h-0.9z M489.64 98.51h0.9v0.9h-0.9z M489.64 100.86h0.9v0.9h-0.9z M489.64 103.21h0.9v0.9h-0.9z M489.64 105.56h0.9v0.9h-0.9z M489.64 107.90h0.9v0.9h-0.9z M489.64 110.25h0.9v0.9h-0.9z M492.00 86.77h0.9v0.9h-0.9z M492.00 89.12h0.9v0.9h-0.9z M492.00 91.47h0.9v0.9h-0.9z M492.00 93.82h0.9v0.9h-0.9z M492.00 96.16h0.9v0.9h-0.9z M492.00 98.51h0.9v0.9h-0.9z M492.00 100.86h0.9v0.9h-0.9z M492.00 103.21h0.9v0.9h-0.9z M492.00 105.56h0.9v0.9h-0.9z M492.00 107.90h0.9v0.9h-0.9z M494.35 86.77h0.9v0.9h-0.9z M494.35 89.12h0.9v0.9h-0.9z M494.35 91.47h0.9v0.9h-0.9z M494.35 93.82h0.9v0.9h-0.9z M494.35 96.16h0.9v0.9h-0.9z M494.35 98.51h0.9v0.9h-0.9z M494.35 100.86h0.9v0.9h-0.9z M494.35 103.21h0.9v0.9h-0.9z M494.35 105.56h0.9v0.9h-0.9z M494.35 107.90h0.9v0.9h-0.9z M494.35 110.25h0.9v0.9h-0.9z M496.70 86.77h0.9v0.9h-0.9z M496.70 89.12h0.9v0.9h-0.9z M496.70 91.47h0.9v0.9h-0.9z M496.70 93.82h0.9v0.9h-0.9z M496.70 96.16h0.9v0.9h-0.9z M496.70 98.51h0.9v0.9h-0.9z M496.70 100.86h0.9v0.9h-0.9z M496.70 103.21h0.9v0.9h-0.9z M496.70 105.56h0.9v0.9h-0.9z M496.70 107.90h0.9v0.9h-0.9z M496.70 110.25h0.9v0.9h-0.9z M499.05 86.77h0.9v0.9h-0.9z M499.05 89.12h0.9v0.9h-0.9z M499.05 91.47h0.9v0.9h-0.9z M499.05 93.82h0.9v0.9h-0.9z M499.05 96.16h0.9v0.9h-0.9z M499.05 98.51h0.9v0.9h-0.9z M499.05 105.56h0.9v0.9h-0.9z M499.05 107.90h0.9v0.9h-0.9z M499.05 110.25h0.9v0.9h-0.9z M524.92 49.20h0.9v0.9h-0.9z M524.92 51.55h0.9v0.9h-0.9z M524.92 53.90h0.9v0.9h-0.9z M527.27 49.20h0.9v0.9h-0.9z M527.27 51.55h0.9v0.9h-0.9z M527.27 53.90h0.9v0.9h-0.9z M527.27 91.47h0.9v0.9h-0.9z M529.62 49.20h0.9v0.9h-0.9z M529.62 51.55h0.9v0.9h-0.9z M529.62 53.90h0.9v0.9h-0.9z M529.62 56.25h0.9v0.9h-0.9z M529.62 58.60h0.9v0.9h-0.9z M529.62 60.94h0.9v0.9h-0.9z M529.62 63.29h0.9v0.9h-0.9z M529.62 91.47h0.9v0.9h-0.9z M531.97 49.20h0.9v0.9h-0.9z M531.97 51.55h0.9v0.9h-0.9z M531.97 53.90h0.9v0.9h-0.9z M531.97 56.25h0.9v0.9h-0.9z M531.97 58.60h0.9v0.9h-0.9z M531.97 60.94h0.9v0.9h-0.9z M531.97 63.29h0.9v0.9h-0.9z M531.97 91.47h0.9v0.9h-0.9z M534.33 53.90h0.9v0.9h-0.9z M534.33 56.25h0.9v0.9h-0.9z M534.33 58.60h0.9v0.9h-0.9z M534.33 63.29h0.9v0.9h-0.9z M536.68 53.90h0.9v0.9h-0.9z M536.68 56.25h0.9v0.9h-0.9z M536.68 58.60h0.9v0.9h-0.9z M536.68 60.94h0.9v0.9h-0.9z M536.68 63.29h0.9v0.9h-0.9z M539.03 44.51h0.9v0.9h-0.9z M539.03 46.86h0.9v0.9h-0.9z M539.03 49.20h0.9v0.9h-0.9z M539.03 60.94h0.9v0.9h-0.9z M539.03 63.29h0.9v0.9h-0.9z M541.38 44.51h0.9v0.9h-0.9z M541.38 46.86h0.9v0.9h-0.9z M541.38 49.20h0.9v0.9h-0.9z M541.38 91.47h0.9v0.9h-0.9z M541.38 93.82h0.9v0.9h-0.9z M541.38 96.16h0.9v0.9h-0.9z M541.38 98.51h0.9v0.9h-0.9z M541.38 100.86h0.9v0.9h-0.9z M541.38 103.21h0.9v0.9h-0.9z M541.38 105.56h0.9v0.9h-0.9z M543.73 44.51h0.9v0.9h-0.9z M543.73 46.86h0.9v0.9h-0.9z M543.73 49.20h0.9v0.9h-0.9z M543.73 91.47h0.9v0.9h-0.9z M543.73 93.82h0.9v0.9h-0.9z M543.73 96.16h0.9v0.9h-0.9z M543.73 98.51h0.9v0.9h-0.9z M543.73 103.21h0.9v0.9h-0.9z M543.73 105.56h0.9v0.9h-0.9z M546.08 46.86h0.9v0.9h-0.9z M546.08 49.20h0.9v0.9h-0.9z M546.08 51.55h0.9v0.9h-0.9z M546.08 58.60h0.9v0.9h-0.9z M546.08 91.47h0.9v0.9h-0.9z M546.08 93.82h0.9v0.9h-0.9z M546.08 96.16h0.9v0.9h-0.9z M546.08 98.51h0.9v0.9h-0.9z M546.08 100.86h0.9v0.9h-0.9z M546.08 103.21h0.9v0.9h-0.9z M546.08 105.56h0.9v0.9h-0.9z M548.44 44.51h0.9v0.9h-0.9z M548.44 51.55h0.9v0.9h-0.9z M548.44 58.60h0.9v0.9h-0.9z M548.44 91.47h0.9v0.9h-0.9z M548.44 93.82h0.9v0.9h-0.9z M548.44 96.16h0.9v0.9h-0.9z M548.44 98.51h0.9v0.9h-0.9z M548.44 100.86h0.9v0.9h-0.9z M548.44 103.21h0.9v0.9h-0.9z M548.44 105.56h0.9v0.9h-0.9z M550.79 44.51h0.9v0.9h-0.9z M550.79 46.86h0.9v0.9h-0.9z M550.79 49.20h0.9v0.9h-0.9z M550.79 51.55h0.9v0.9h-0.9z M550.79 56.25h0.9v0.9h-0.9z M550.79 58.60h0.9v0.9h-0.9z M550.79 91.47h0.9v0.9h-0.9z M550.79 93.82h0.9v0.9h-0.9z M550.79 96.16h0.9v0.9h-0.9z M550.79 98.51h0.9v0.9h-0.9z M550.79 100.86h0.9v0.9h-0.9z M550.79 103.21h0.9v0.9h-0.9z M550.79 105.56h0.9v0.9h-0.9z M550.79 107.90h0.9v0.9h-0.9z M550.79 114.95h0.9v0.9h-0.9z M550.79 117.30h0.9v0.9h-0.9z M550.79 119.64h0.9v0.9h-0.9z M553.14 46.86h0.9v0.9h-0.9z M553.14 49.20h0.9v0.9h-0.9z M553.14 51.55h0.9v0.9h-0.9z M553.14 56.25h0.9v0.9h-0.9z M553.14 91.47h0.9v0.9h-0.9z M553.14 98.51h0.9v0.9h-0.9z M553.14 100.86h0.9v0.9h-0.9z M553.14 103.21h0.9v0.9h-0.9z M553.14 105.56h0.9v0.9h-0.9z M553.14 107.90h0.9v0.9h-0.9z M555.49 46.86h0.9v0.9h-0.9z M555.49 49.20h0.9v0.9h-0.9z M555.49 51.55h0.9v0.9h-0.9z M555.49 53.90h0.9v0.9h-0.9z M555.49 56.25h0.9v0.9h-0.9z M555.49 91.47h0.9v0.9h-0.9z M555.49 93.82h0.9v0.9h-0.9z M555.49 96.16h0.9v0.9h-0.9z M555.49 98.51h0.9v0.9h-0.9z M555.49 100.86h0.9v0.9h-0.9z M555.49 103.21h0.9v0.9h-0.9z M555.49 105.56h0.9v0.9h-0.9z M555.49 107.90h0.9v0.9h-0.9z M555.49 110.25h0.9v0.9h-0.9z M557.84 53.90h0.9v0.9h-0.9z M557.84 56.25h0.9v0.9h-0.9z M557.84 91.47h0.9v0.9h-0.9z M557.84 93.82h0.9v0.9h-0.9z M557.84 100.86h0.9v0.9h-0.9z M557.84 103.21h0.9v0.9h-0.9z M557.84 105.56h0.9v0.9h-0.9z M557.84 107.90h0.9v0.9h-0.9z M557.84 110.25h0.9v0.9h-0.9z M560.19 93.82h0.9v0.9h-0.9z M560.19 100.86h0.9v0.9h-0.9z M560.19 103.21h0.9v0.9h-0.9z M560.19 105.56h0.9v0.9h-0.9z M560.19 107.90h0.9v0.9h-0.9z M560.19 110.25h0.9v0.9h-0.9z M562.55 93.82h0.9v0.9h-0.9z M562.55 98.51h0.9v0.9h-0.9z M562.55 100.86h0.9v0.9h-0.9z M564.90 100.86h0.9v0.9h-0.9z M564.90 103.21h0.9v0.9h-0.9z M564.90 105.56h0.9v0.9h-0.9z M609.58 67.99h0.9v0.9h-0.9z M609.58 70.34h0.9v0.9h-0.9z M609.58 72.68h0.9v0.9h-0.9z M609.58 75.03h0.9v0.9h-0.9z M609.58 77.38h0.9v0.9h-0.9z M609.58 86.77h0.9v0.9h-0.9z M609.58 89.12h0.9v0.9h-0.9z M609.58 91.47h0.9v0.9h-0.9z M609.58 93.82h0.9v0.9h-0.9z M609.58 96.16h0.9v0.9h-0.9z M611.93 56.25h0.9v0.9h-0.9z M611.93 67.99h0.9v0.9h-0.9z M611.93 70.34h0.9v0.9h-0.9z M611.93 72.68h0.9v0.9h-0.9z M611.93 75.03h0.9v0.9h-0.9z M611.93 77.38h0.9v0.9h-0.9z M611.93 86.77h0.9v0.9h-0.9z M611.93 89.12h0.9v0.9h-0.9z M611.93 91.47h0.9v0.9h-0.9z M611.93 93.82h0.9v0.9h-0.9z M611.93 96.16h0.9v0.9h-0.9z M614.28 56.25h0.9v0.9h-0.9z M614.28 67.99h0.9v0.9h-0.9z M614.28 70.34h0.9v0.9h-0.9z M614.28 72.68h0.9v0.9h-0.9z M614.28 75.03h0.9v0.9h-0.9z M614.28 77.38h0.9v0.9h-0.9z M614.28 84.42h0.9v0.9h-0.9z M614.28 86.77h0.9v0.9h-0.9z M614.28 89.12h0.9v0.9h-0.9z M614.28 91.47h0.9v0.9h-0.9z M614.28 93.82h0.9v0.9h-0.9z M614.28 96.16h0.9v0.9h-0.9z M616.63 56.25h0.9v0.9h-0.9z M616.63 67.99h0.9v0.9h-0.9z M616.63 70.34h0.9v0.9h-0.9z M616.63 72.68h0.9v0.9h-0.9z M616.63 75.03h0.9v0.9h-0.9z M616.63 77.38h0.9v0.9h-0.9z M616.63 79.73h0.9v0.9h-0.9z M616.63 82.08h0.9v0.9h-0.9z M616.63 84.42h0.9v0.9h-0.9z M616.63 86.77h0.9v0.9h-0.9z M618.99 56.25h0.9v0.9h-0.9z M618.99 67.99h0.9v0.9h-0.9z M618.99 70.34h0.9v0.9h-0.9z M618.99 72.68h0.9v0.9h-0.9z M618.99 75.03h0.9v0.9h-0.9z M618.99 77.38h0.9v0.9h-0.9z M618.99 79.73h0.9v0.9h-0.9z M618.99 82.08h0.9v0.9h-0.9z M618.99 84.42h0.9v0.9h-0.9z M618.99 86.77h0.9v0.9h-0.9z M618.99 91.47h0.9v0.9h-0.9z M618.99 93.82h0.9v0.9h-0.9z M618.99 96.16h0.9v0.9h-0.9z M618.99 98.51h0.9v0.9h-0.9z M621.34 56.25h0.9v0.9h-0.9z M621.34 67.99h0.9v0.9h-0.9z M621.34 70.34h0.9v0.9h-0.9z M621.34 72.68h0.9v0.9h-0.9z M621.34 75.03h0.9v0.9h-0.9z M621.34 77.38h0.9v0.9h-0.9z M621.34 91.47h0.9v0.9h-0.9z M621.34 96.16h0.9v0.9h-0.9z M621.34 98.51h0.9v0.9h-0.9z M623.69 67.99h0.9v0.9h-0.9z M623.69 70.34h0.9v0.9h-0.9z M623.69 72.68h0.9v0.9h-0.9z M623.69 75.03h0.9v0.9h-0.9z M623.69 77.38h0.9v0.9h-0.9z M623.69 91.47h0.9v0.9h-0.9z M623.69 96.16h0.9v0.9h-0.9z M623.69 98.51h0.9v0.9h-0.9z M626.04 75.03h0.9v0.9h-0.9z M626.04 77.38h0.9v0.9h-0.9z M626.04 91.47h0.9v0.9h-0.9z M626.04 93.82h0.9v0.9h-0.9z M626.04 96.16h0.9v0.9h-0.9z M626.04 98.51h0.9v0.9h-0.9z M628.39 53.90h0.9v0.9h-0.9z M628.39 56.25h0.9v0.9h-0.9z M628.39 91.47h0.9v0.9h-0.9z M628.39 93.82h0.9v0.9h-0.9z M628.39 96.16h0.9v0.9h-0.9z M628.39 98.51h0.9v0.9h-0.9z M630.74 53.90h0.9v0.9h-0.9z M630.74 56.25h0.9v0.9h-0.9z M633.10 53.90h0.9v0.9h-0.9z M633.10 56.25h0.9v0.9h-0.9z M633.10 93.82h0.9v0.9h-0.9z M633.10 96.16h0.9v0.9h-0.9z M633.10 98.51h0.9v0.9h-0.9z M633.10 100.86h0.9v0.9h-0.9z M633.10 103.21h0.9v0.9h-0.9z M635.45 53.90h0.9v0.9h-0.9z M635.45 56.25h0.9v0.9h-0.9z M635.45 93.82h0.9v0.9h-0.9z M635.45 96.16h0.9v0.9h-0.9z M635.45 98.51h0.9v0.9h-0.9z M635.45 100.86h0.9v0.9h-0.9z M635.45 103.21h0.9v0.9h-0.9z M635.45 110.25h0.9v0.9h-0.9z M637.80 53.90h0.9v0.9h-0.9z M637.80 56.25h0.9v0.9h-0.9z M637.80 93.82h0.9v0.9h-0.9z M637.80 96.16h0.9v0.9h-0.9z M637.80 98.51h0.9v0.9h-0.9z M637.80 100.86h0.9v0.9h-0.9z M637.80 103.21h0.9v0.9h-0.9z M637.80 110.25h0.9v0.9h-0.9z M640.15 53.90h0.9v0.9h-0.9z M640.15 56.25h0.9v0.9h-0.9z M640.15 93.82h0.9v0.9h-0.9z M640.15 96.16h0.9v0.9h-0.9z M640.15 98.51h0.9v0.9h-0.9z M640.15 100.86h0.9v0.9h-0.9z M640.15 103.21h0.9v0.9h-0.9z M642.50 53.90h0.9v0.9h-0.9z M642.50 56.25h0.9v0.9h-0.9z M642.50 93.82h0.9v0.9h-0.9z M642.50 96.16h0.9v0.9h-0.9z M642.50 98.51h0.9v0.9h-0.9z M642.50 100.86h0.9v0.9h-0.9z M642.50 103.21h0.9v0.9h-0.9z M644.85 53.90h0.9v0.9h-0.9z M644.85 56.25h0.9v0.9h-0.9z M644.85 93.82h0.9v0.9h-0.9z M644.85 96.16h0.9v0.9h-0.9z M644.85 98.51h0.9v0.9h-0.9z M644.85 100.86h0.9v0.9h-0.9z M644.85 103.21h0.9v0.9h-0.9z M644.85 105.56h0.9v0.9h-0.9z M644.85 107.90h0.9v0.9h-0.9z M644.85 117.30h0.9v0.9h-0.9z M644.85 119.64h0.9v0.9h-0.9z M644.85 121.99h0.9v0.9h-0.9z M647.21 93.82h0.9v0.9h-0.9z M647.21 96.16h0.9v0.9h-0.9z M647.21 98.51h0.9v0.9h-0.9z M647.21 100.86h0.9v0.9h-0.9z M647.21 103.21h0.9v0.9h-0.9z M647.21 105.56h0.9v0.9h-0.9z M647.21 107.90h0.9v0.9h-0.9z M647.21 114.95h0.9v0.9h-0.9z M647.21 117.30h0.9v0.9h-0.9z M647.21 119.64h0.9v0.9h-0.9z M647.21 121.99h0.9v0.9h-0.9z M649.56 93.82h0.9v0.9h-0.9z M649.56 96.16h0.9v0.9h-0.9z M649.56 98.51h0.9v0.9h-0.9z M649.56 100.86h0.9v0.9h-0.9z M649.56 103.21h0.9v0.9h-0.9z M649.56 114.95h0.9v0.9h-0.9z M649.56 117.30h0.9v0.9h-0.9z M649.56 119.64h0.9v0.9h-0.9z M649.56 121.99h0.9v0.9h-0.9z" fill="#2a2a2a" fill-opacity="0.75"/></g>
<use href="#coast" transform="translate(353.1,0)"/>
<line x1="389.0" y1="25.0" x2="678.2" y2="25.0" stroke="#a8a8a8" stroke-width="1.8"/>
<line x1="392.5" y1="22.0" x2="392.5" y2="145.4" stroke="#555" stroke-width="1.3"/>
<line x1="674.7" y1="22.0" x2="674.7" y2="145.4" stroke="#666" stroke-width="1.3"/>
<line x1="389.0" y1="142.4" x2="678.2" y2="142.4" stroke="#555" stroke-width="1.3"/>
<path d="M392.5 142.4 L392.5 145.4 M392.5 25.0 L392.5 22.0 M439.5 142.4 L439.5 145.4 M439.5 25.0 L439.5 22.0 M486.6 142.4 L486.6 145.4 M486.6 25.0 L486.6 22.0 M533.6 142.4 L533.6 145.4 M533.6 25.0 L533.6 22.0 M580.6 142.4 L580.6 145.4 M580.6 25.0 L580.6 22.0 M627.7 142.4 L627.7 145.4 M627.7 25.0 L627.7 22.0 M674.7 142.4 L674.7 145.4 M674.7 25.0 L674.7 22.0 M392.5 142.4 L389.5 142.4 M674.7 142.4 L677.7 142.4 M392.5 118.9 L389.5 118.9 M674.7 118.9 L677.7 118.9 M392.5 95.4 L389.5 95.4 M674.7 95.4 L677.7 95.4 M392.5 72.0 L389.5 72.0 M674.7 72.0 L677.7 72.0 M392.5 48.5 L389.5 48.5 M674.7 48.5 L677.7 48.5 M392.5 25.0 L389.5 25.0 M674.7 25.0 L677.7 25.0" stroke="#555" stroke-width="0.9"/>
<text x="392.5" y="154.7" font-size="9.2" text-anchor="middle" fill="#333" >180°</text>
<text x="439.5" y="154.7" font-size="9.2" text-anchor="middle" fill="#333" >120°W</text>
<text x="486.6" y="154.7" font-size="9.2" text-anchor="middle" fill="#333" >60°W</text>
<text x="533.6" y="154.7" font-size="9.2" text-anchor="middle" fill="#333" >0°</text>
<text x="580.6" y="154.7" font-size="9.2" text-anchor="middle" fill="#333" >60°E</text>
<text x="627.7" y="154.7" font-size="9.2" text-anchor="middle" fill="#333" >120°E</text>
<text x="674.7" y="154.7" font-size="9.2" text-anchor="middle" fill="#333" >180°</text>
<text x="387.5" y="28.3" font-size="9.2" text-anchor="end" fill="#333" >90°N</text>
<text x="387.5" y="51.8" font-size="9.2" text-anchor="end" fill="#333" >60°N</text>
<text x="387.5" y="75.3" font-size="9.2" text-anchor="end" fill="#333" >30°N</text>
<text x="387.5" y="98.7" font-size="9.2" text-anchor="end" fill="#333" >0°</text>
<text x="387.5" y="122.2" font-size="9.2" text-anchor="end" fill="#333" >30°S</text>
<text x="387.5" y="145.7" font-size="9.2" text-anchor="end" fill="#333" >60°S</text>
<text x="533.6" y="166.9" font-size="11.5" text-anchor="middle" fill="#222" letter-spacing="0.4">Longitude</text>
<text transform="translate(362.9,83.3) rotate(-90)" font-size="11.5" text-anchor="middle" fill="#2b2b2b" letter-spacing="0.45">Latitude</text>
<mask id="lm_c" maskUnits="userSpaceOnUse" x="0" y="0" width="685" height="461"><use href="#land" transform="translate(0,234.9)"/></mask>
<g mask="url(#lm_c)"><g shape-rendering="crispEdges"><rect x="53.51" y="276.34" width="23.52" height="7.04" fill="#acdce8"/><rect x="62.92" y="276.34" width="11.76" height="2.35" fill="#eeaa62"/><rect x="53.51" y="278.68" width="16.46" height="2.35" fill="#eeaa62"/><rect x="58.21" y="281.03" width="7.05" height="2.35" fill="#77aed1"/><rect x="65.27" y="281.03" width="9.41" height="2.35" fill="#e0f3f7"/><rect x="72.32" y="281.03" width="7.05" height="7.04" fill="#acdce8"/><rect x="72.32" y="281.03" width="4.70" height="4.70" fill="#77aed1"/><rect x="79.38" y="278.68" width="2.35" height="2.35" fill="#eeaa62"/><rect x="84.08" y="281.03" width="2.35" height="2.35" fill="#eeaa62"/><rect x="88.78" y="281.03" width="4.70" height="2.35" fill="#eeaa62"/><rect x="81.73" y="283.38" width="2.35" height="2.35" fill="#eeaa62"/><rect x="77.03" y="283.38" width="23.52" height="7.04" fill="#acdce8"/><rect x="79.38" y="285.73" width="11.76" height="7.04" fill="#77aed1"/><rect x="86.43" y="285.73" width="4.70" height="4.70" fill="#4876b5"/><rect x="84.08" y="290.42" width="4.70" height="2.35" fill="#323595"/><rect x="79.38" y="290.42" width="2.35" height="2.35" fill="#eeaa62"/><rect x="91.14" y="292.77" width="2.35" height="2.35" fill="#77aed1"/><rect x="98.19" y="283.38" width="2.35" height="2.35" fill="#eeaa62"/><rect x="102.89" y="285.73" width="2.35" height="2.35" fill="#f2e08e"/><rect x="100.54" y="288.08" width="18.81" height="7.04" fill="#acdce8"/><rect x="105.25" y="288.08" width="14.11" height="7.04" fill="#77aed1"/><rect x="117.00" y="288.08" width="2.35" height="2.35" fill="#eeaa62"/><rect x="93.49" y="299.82" width="25.87" height="14.09" fill="#acdce8"/><rect x="93.49" y="299.82" width="16.46" height="9.39" fill="#77aed1"/><rect x="98.19" y="304.51" width="4.70" height="2.35" fill="#4876b5"/><rect x="93.49" y="304.51" width="7.05" height="4.70" fill="#323595"/><rect x="112.30" y="302.16" width="7.05" height="2.35" fill="#eeaa62"/><rect x="114.65" y="302.16" width="4.70" height="2.35" fill="#eb6c46"/><rect x="107.60" y="304.51" width="2.35" height="2.35" fill="#f2e08e"/><rect x="100.54" y="311.56" width="2.35" height="2.35" fill="#eeaa62"/><rect x="114.65" y="306.86" width="4.70" height="4.70" fill="#eeaa62"/><rect x="114.65" y="288.08" width="9.41" height="11.74" fill="#acdce8"/><rect x="114.65" y="290.42" width="7.05" height="4.70" fill="#77aed1"/><rect x="117.00" y="288.08" width="2.35" height="2.35" fill="#eeaa62"/><rect x="124.06" y="288.08" width="14.11" height="4.70" fill="#acdce8"/><rect x="126.41" y="290.42" width="4.70" height="4.70" fill="#4876b5"/><rect x="131.12" y="290.42" width="7.05" height="2.35" fill="#e0f3f7"/><rect x="121.71" y="295.12" width="4.70" height="2.35" fill="#eeaa62"/><rect x="119.36" y="297.47" width="4.70" height="2.35" fill="#eb6c46"/><rect x="114.65" y="302.16" width="4.70" height="2.35" fill="#eb6c46"/><rect x="114.65" y="304.51" width="2.35" height="2.35" fill="#f2e08e"/><rect x="114.65" y="306.86" width="4.70" height="2.35" fill="#eeaa62"/><rect x="117.00" y="311.56" width="2.35" height="2.35" fill="#d8342b"/><rect x="124.06" y="313.90" width="2.35" height="2.35" fill="#eeaa62"/><rect x="95.84" y="309.21" width="4.70" height="4.70" fill="#acdce8"/><rect x="100.54" y="313.90" width="4.70" height="4.70" fill="#eeaa62"/><rect x="105.25" y="313.90" width="7.05" height="4.70" fill="#77aed1"/><rect x="109.95" y="318.60" width="2.35" height="4.70" fill="#eeaa62"/><rect x="117.00" y="309.21" width="4.70" height="4.70" fill="#eb6c46"/><rect x="117.00" y="323.30" width="11.76" height="9.39" fill="#eeaa62"/><rect x="126.41" y="325.64" width="2.35" height="4.70" fill="#f2e08e"/><rect x="121.71" y="323.30" width="2.35" height="2.35" fill="#d8342b"/><rect x="124.06" y="323.30" width="4.70" height="2.35" fill="#4876b5"/><rect x="128.76" y="323.30" width="11.76" height="7.04" fill="#acdce8"/><rect x="117.00" y="330.34" width="7.05" height="11.74" fill="#acdce8"/><rect x="124.06" y="332.69" width="21.16" height="11.74" fill="#77aed1"/><rect x="145.22" y="332.69" width="4.70" height="11.74" fill="#acdce8"/><rect x="140.52" y="332.69" width="7.05" height="2.35" fill="#323595"/><rect x="138.17" y="339.73" width="9.41" height="4.70" fill="#323595"/><rect x="142.87" y="337.38" width="4.70" height="2.35" fill="#ffffff"/><rect x="121.71" y="342.08" width="7.05" height="2.35" fill="#d8342b"/><rect x="117.00" y="332.69" width="2.35" height="2.35" fill="#d8342b"/><rect x="121.71" y="344.43" width="23.52" height="16.44" fill="#acdce8"/><rect x="126.41" y="346.78" width="2.35" height="2.35" fill="#323595"/><rect x="131.12" y="349.12" width="7.05" height="7.04" fill="#eeaa62"/><rect x="124.06" y="351.47" width="2.35" height="4.70" fill="#eeaa62"/><rect x="126.41" y="358.52" width="2.35" height="2.35" fill="#eeaa62"/><rect x="135.82" y="346.78" width="4.70" height="2.35" fill="#eeaa62"/><rect x="121.71" y="360.86" width="4.70" height="11.74" fill="#acdce8"/><rect x="121.71" y="363.21" width="2.35" height="2.35" fill="#eeaa62"/><rect x="128.76" y="363.21" width="2.35" height="2.35" fill="#d8342b"/><rect x="171.09" y="288.08" width="4.70" height="2.35" fill="#acdce8"/><rect x="175.80" y="283.38" width="4.70" height="7.04" fill="#eeaa62"/><rect x="175.80" y="285.73" width="2.35" height="2.35" fill="#d8342b"/><rect x="180.50" y="288.08" width="7.05" height="4.70" fill="#eeaa62"/><rect x="175.80" y="290.42" width="7.05" height="4.70" fill="#77aed1"/><rect x="180.50" y="295.12" width="2.35" height="2.35" fill="#77aed1"/><rect x="185.20" y="276.34" width="18.81" height="11.74" fill="#acdce8"/><rect x="194.61" y="281.03" width="2.35" height="4.70" fill="#ffffff"/><rect x="201.66" y="276.34" width="2.35" height="2.35" fill="#f2e08e"/><rect x="185.20" y="285.73" width="9.41" height="2.35" fill="#eeaa62"/><rect x="192.26" y="288.08" width="2.35" height="2.35" fill="#f2e08e"/><rect x="199.31" y="283.38" width="4.70" height="4.70" fill="#eeaa62"/><rect x="204.02" y="281.03" width="39.98" height="7.04" fill="#acdce8"/><rect x="204.02" y="278.68" width="25.87" height="2.35" fill="#acdce8"/><rect x="204.02" y="281.03" width="30.57" height="7.04" fill="#77aed1"/><rect x="222.83" y="278.68" width="2.35" height="2.35" fill="#eeaa62"/><rect x="234.59" y="281.03" width="2.35" height="2.35" fill="#eeaa62"/><rect x="225.18" y="288.08" width="2.35" height="2.35" fill="#77aed1"/><rect x="187.56" y="288.08" width="16.46" height="7.04" fill="#acdce8"/><rect x="194.61" y="290.42" width="9.41" height="4.70" fill="#4876b5"/><rect x="196.96" y="292.77" width="2.35" height="2.35" fill="#323595"/><rect x="213.42" y="295.12" width="2.35" height="2.35" fill="#323595"/><rect x="185.20" y="299.82" width="2.35" height="2.35" fill="#77aed1"/><rect x="241.64" y="306.86" width="2.35" height="2.35" fill="#77aed1"/><rect x="168.74" y="320.95" width="21.16" height="7.04" fill="#acdce8"/><rect x="175.80" y="323.30" width="7.05" height="2.35" fill="#77aed1"/><rect x="171.09" y="323.30" width="2.35" height="2.35" fill="#eeaa62"/><rect x="189.91" y="325.64" width="21.16" height="16.44" fill="#acdce8"/><rect x="192.26" y="323.30" width="11.76" height="4.70" fill="#eeaa62"/><rect x="199.31" y="323.30" width="2.35" height="2.35" fill="#eb6c46"/><rect x="189.91" y="325.64" width="2.35" height="2.35" fill="#f2e08e"/><rect x="199.31" y="327.99" width="2.35" height="4.70" fill="#eeaa62"/><rect x="187.56" y="332.69" width="7.05" height="7.04" fill="#eb6c46"/><rect x="194.61" y="332.69" width="18.81" height="9.39" fill="#77aed1"/><rect x="199.31" y="339.73" width="4.70" height="4.70" fill="#323595"/><rect x="204.02" y="337.38" width="7.05" height="4.70" fill="#4876b5"/><rect x="192.26" y="339.73" width="4.70" height="2.35" fill="#4876b5"/><rect x="206.37" y="320.95" width="4.70" height="7.04" fill="#d8342b"/><rect x="206.37" y="323.30" width="4.70" height="2.35" fill="#eeaa62"/><rect x="208.72" y="330.34" width="2.35" height="2.35" fill="#eeaa62"/><rect x="196.96" y="342.08" width="11.76" height="4.70" fill="#acdce8"/><rect x="201.66" y="346.78" width="7.05" height="2.35" fill="#eeaa62"/><rect x="196.96" y="349.12" width="9.41" height="7.04" fill="#acdce8"/><rect x="196.96" y="349.12" width="4.70" height="4.70" fill="#323595"/><rect x="201.66" y="349.12" width="2.35" height="4.70" fill="#4876b5"/><rect x="201.66" y="351.47" width="2.35" height="2.35" fill="#eb6c46"/><rect x="194.61" y="356.17" width="7.05" height="2.35" fill="#acdce8"/><rect x="199.31" y="356.17" width="2.35" height="2.35" fill="#eeaa62"/><rect x="213.42" y="339.73" width="7.05" height="9.39" fill="#acdce8"/><rect x="215.78" y="344.43" width="2.35" height="4.70" fill="#77aed1"/><rect x="239.29" y="281.03" width="18.81" height="7.04" fill="#acdce8"/><rect x="244.00" y="281.03" width="4.70" height="2.35" fill="#f2e08e"/><rect x="253.40" y="281.03" width="2.35" height="2.35" fill="#f2e08e"/><rect x="255.75" y="281.03" width="2.35" height="2.35" fill="#eeaa62"/><rect x="246.35" y="283.38" width="9.41" height="9.39" fill="#77aed1"/><rect x="258.10" y="283.38" width="14.11" height="9.39" fill="#acdce8"/><rect x="258.10" y="285.73" width="11.76" height="7.04" fill="#77aed1"/><rect x="267.51" y="290.42" width="2.35" height="2.35" fill="#4876b5"/><rect x="274.57" y="288.08" width="18.81" height="4.70" fill="#acdce8"/><rect x="281.62" y="288.08" width="2.35" height="4.70" fill="#eeaa62"/><rect x="274.57" y="290.42" width="2.35" height="2.35" fill="#77aed1"/><rect x="286.32" y="285.73" width="7.05" height="11.74" fill="#acdce8"/><rect x="286.32" y="292.77" width="7.05" height="2.35" fill="#77aed1"/><rect x="279.27" y="299.82" width="2.35" height="4.70" fill="#eb6c46"/><rect x="281.62" y="302.16" width="2.35" height="2.35" fill="#eeaa62"/><rect x="281.62" y="299.82" width="9.41" height="4.70" fill="#acdce8"/><rect x="288.68" y="299.82" width="2.35" height="2.35" fill="#eeaa62"/><rect x="251.05" y="299.82" width="25.87" height="21.13" fill="#acdce8"/><rect x="262.81" y="302.16" width="11.76" height="4.70" fill="#77aed1"/><rect x="255.75" y="304.51" width="14.11" height="2.35" fill="#4876b5"/><rect x="260.46" y="302.16" width="2.35" height="2.35" fill="#eeaa62"/><rect x="267.51" y="306.86" width="4.70" height="2.35" fill="#eeaa62"/><rect x="255.75" y="309.21" width="7.05" height="2.35" fill="#eb6c46"/><rect x="255.75" y="313.90" width="2.35" height="2.35" fill="#f2e08e"/><rect x="258.10" y="313.90" width="2.35" height="2.35" fill="#eeaa62"/><rect x="260.46" y="316.25" width="7.05" height="4.70" fill="#77aed1"/><rect x="241.64" y="306.86" width="2.35" height="2.35" fill="#4876b5"/><rect x="244.00" y="306.86" width="2.35" height="2.35" fill="#acdce8"/><rect x="246.35" y="309.21" width="2.35" height="2.35" fill="#77aed1"/><rect x="269.86" y="299.82" width="2.35" height="2.35" fill="#f2e08e"/><rect x="255.75" y="309.21" width="18.81" height="4.70" fill="#acdce8"/><rect x="255.75" y="309.21" width="7.05" height="2.35" fill="#eeaa62"/><rect x="258.10" y="313.90" width="9.41" height="7.04" fill="#acdce8"/><rect x="260.46" y="313.90" width="7.05" height="7.04" fill="#77aed1"/><rect x="255.75" y="313.90" width="4.70" height="2.35" fill="#eeaa62"/><rect x="255.75" y="320.95" width="7.05" height="11.74" fill="#eeaa62"/><rect x="260.46" y="323.30" width="2.35" height="4.70" fill="#acdce8"/><rect x="265.16" y="325.64" width="11.76" height="9.39" fill="#eeaa62"/><rect x="274.57" y="316.25" width="4.70" height="7.04" fill="#eeaa62"/><rect x="262.81" y="335.04" width="9.41" height="2.35" fill="#f2e08e"/><rect x="279.27" y="327.99" width="18.81" height="11.74" fill="#eeaa62"/><rect x="291.03" y="335.04" width="2.35" height="4.70" fill="#acdce8"/><rect x="281.62" y="339.73" width="4.70" height="7.04" fill="#4876b5"/><rect x="276.92" y="342.08" width="4.70" height="2.35" fill="#323595"/><rect x="288.68" y="344.43" width="4.70" height="2.35" fill="#77aed1"/><rect x="281.62" y="346.78" width="9.41" height="11.74" fill="#acdce8"/><rect x="286.32" y="349.12" width="4.70" height="4.70" fill="#ffffff"/><rect x="274.57" y="349.12" width="2.35" height="7.04" fill="#77aed1"/><rect x="276.92" y="351.47" width="4.70" height="2.35" fill="#eeaa62"/><rect x="283.97" y="346.78" width="7.05" height="2.35" fill="#eeaa62"/><rect x="291.03" y="346.78" width="9.41" height="9.39" fill="#eeaa62"/><rect x="291.03" y="351.47" width="7.05" height="7.04" fill="#eb6c46"/><rect x="286.32" y="356.17" width="2.35" height="2.35" fill="#77aed1"/><rect x="293.38" y="363.21" width="2.35" height="2.35" fill="#eeaa62"/><rect x="316.90" y="358.52" width="2.35" height="2.35" fill="#f2e08e"/><rect x="314.54" y="363.21" width="2.35" height="2.35" fill="#eeaa62"/><rect x="314.54" y="363.21" width="2.35" height="2.35" fill="#d8342b"/><rect x="312.19" y="365.56" width="2.35" height="2.35" fill="#eeaa62"/><rect x="239.29" y="320.95" width="4.70" height="2.35" fill="#d8342b"/><rect x="244.00" y="313.90" width="4.70" height="4.70" fill="#acdce8"/></g><path d="M73.05 281.76h0.9v0.9h-0.9z M73.05 284.10h0.9v0.9h-0.9z M75.40 281.76h0.9v0.9h-0.9z M75.40 284.10h0.9v0.9h-0.9z M80.10 286.45h0.9v0.9h-0.9z M80.10 288.80h0.9v0.9h-0.9z M82.46 286.45h0.9v0.9h-0.9z M82.46 288.80h0.9v0.9h-0.9z M82.46 291.15h0.9v0.9h-0.9z M84.81 286.45h0.9v0.9h-0.9z M84.81 288.80h0.9v0.9h-0.9z M87.16 286.45h0.9v0.9h-0.9z M87.16 288.80h0.9v0.9h-0.9z M89.51 281.76h0.9v0.9h-0.9z M89.51 286.45h0.9v0.9h-0.9z M89.51 288.80h0.9v0.9h-0.9z M89.51 291.15h0.9v0.9h-0.9z M91.86 281.76h0.9v0.9h-0.9z M94.21 300.54h0.9v0.9h-0.9z M94.21 302.89h0.9v0.9h-0.9z M96.57 300.54h0.9v0.9h-0.9z M96.57 302.89h0.9v0.9h-0.9z M98.92 300.54h0.9v0.9h-0.9z M98.92 302.89h0.9v0.9h-0.9z M101.27 300.54h0.9v0.9h-0.9z M101.27 302.89h0.9v0.9h-0.9z M101.27 305.24h0.9v0.9h-0.9z M101.27 307.58h0.9v0.9h-0.9z M103.62 300.54h0.9v0.9h-0.9z M103.62 302.89h0.9v0.9h-0.9z M103.62 305.24h0.9v0.9h-0.9z M103.62 307.58h0.9v0.9h-0.9z M105.97 288.80h0.9v0.9h-0.9z M105.97 291.15h0.9v0.9h-0.9z M105.97 293.50h0.9v0.9h-0.9z M105.97 300.54h0.9v0.9h-0.9z M105.97 302.89h0.9v0.9h-0.9z M105.97 305.24h0.9v0.9h-0.9z M105.97 307.58h0.9v0.9h-0.9z M108.32 288.80h0.9v0.9h-0.9z M108.32 291.15h0.9v0.9h-0.9z M108.32 293.50h0.9v0.9h-0.9z M108.32 300.54h0.9v0.9h-0.9z M108.32 302.89h0.9v0.9h-0.9z M108.32 307.58h0.9v0.9h-0.9z M110.68 288.80h0.9v0.9h-0.9z M110.68 291.15h0.9v0.9h-0.9z M110.68 293.50h0.9v0.9h-0.9z M113.03 288.80h0.9v0.9h-0.9z M113.03 291.15h0.9v0.9h-0.9z M113.03 293.50h0.9v0.9h-0.9z M115.38 291.15h0.9v0.9h-0.9z M115.38 293.50h0.9v0.9h-0.9z M117.73 291.15h0.9v0.9h-0.9z M117.73 293.50h0.9v0.9h-0.9z M117.73 324.02h0.9v0.9h-0.9z M117.73 326.37h0.9v0.9h-0.9z M117.73 328.72h0.9v0.9h-0.9z M120.08 291.15h0.9v0.9h-0.9z M120.08 293.50h0.9v0.9h-0.9z M120.08 324.02h0.9v0.9h-0.9z M120.08 326.37h0.9v0.9h-0.9z M120.08 328.72h0.9v0.9h-0.9z M122.43 326.37h0.9v0.9h-0.9z M122.43 328.72h0.9v0.9h-0.9z M124.79 326.37h0.9v0.9h-0.9z M124.79 328.72h0.9v0.9h-0.9z M124.79 331.06h0.9v0.9h-0.9z M124.79 333.41h0.9v0.9h-0.9z M124.79 335.76h0.9v0.9h-0.9z M124.79 338.11h0.9v0.9h-0.9z M124.79 340.46h0.9v0.9h-0.9z M127.14 331.06h0.9v0.9h-0.9z M127.14 333.41h0.9v0.9h-0.9z M127.14 335.76h0.9v0.9h-0.9z M127.14 338.11h0.9v0.9h-0.9z M127.14 340.46h0.9v0.9h-0.9z M129.49 333.41h0.9v0.9h-0.9z M129.49 335.76h0.9v0.9h-0.9z M129.49 338.11h0.9v0.9h-0.9z M129.49 340.46h0.9v0.9h-0.9z M129.49 342.80h0.9v0.9h-0.9z M131.84 333.41h0.9v0.9h-0.9z M131.84 335.76h0.9v0.9h-0.9z M131.84 338.11h0.9v0.9h-0.9z M131.84 340.46h0.9v0.9h-0.9z M131.84 342.80h0.9v0.9h-0.9z M134.19 333.41h0.9v0.9h-0.9z M134.19 335.76h0.9v0.9h-0.9z M134.19 338.11h0.9v0.9h-0.9z M134.19 340.46h0.9v0.9h-0.9z M134.19 342.80h0.9v0.9h-0.9z M136.54 333.41h0.9v0.9h-0.9z M136.54 335.76h0.9v0.9h-0.9z M136.54 338.11h0.9v0.9h-0.9z M136.54 340.46h0.9v0.9h-0.9z M136.54 342.80h0.9v0.9h-0.9z M138.90 333.41h0.9v0.9h-0.9z M138.90 335.76h0.9v0.9h-0.9z M138.90 338.11h0.9v0.9h-0.9z M138.90 340.46h0.9v0.9h-0.9z M138.90 342.80h0.9v0.9h-0.9z M141.25 335.76h0.9v0.9h-0.9z M141.25 338.11h0.9v0.9h-0.9z M141.25 340.46h0.9v0.9h-0.9z M141.25 342.80h0.9v0.9h-0.9z M143.60 335.76h0.9v0.9h-0.9z M143.60 340.46h0.9v0.9h-0.9z M143.60 342.80h0.9v0.9h-0.9z M145.95 340.46h0.9v0.9h-0.9z M145.95 342.80h0.9v0.9h-0.9z M181.23 288.80h0.9v0.9h-0.9z M183.58 288.80h0.9v0.9h-0.9z M183.58 291.15h0.9v0.9h-0.9z M185.93 277.06h0.9v0.9h-0.9z M185.93 279.41h0.9v0.9h-0.9z M185.93 281.76h0.9v0.9h-0.9z M185.93 284.10h0.9v0.9h-0.9z M185.93 286.45h0.9v0.9h-0.9z M185.93 288.80h0.9v0.9h-0.9z M185.93 291.15h0.9v0.9h-0.9z M188.28 277.06h0.9v0.9h-0.9z M188.28 279.41h0.9v0.9h-0.9z M188.28 281.76h0.9v0.9h-0.9z M188.28 284.10h0.9v0.9h-0.9z M188.28 286.45h0.9v0.9h-0.9z M190.63 277.06h0.9v0.9h-0.9z M190.63 279.41h0.9v0.9h-0.9z M190.63 281.76h0.9v0.9h-0.9z M190.63 284.10h0.9v0.9h-0.9z M190.63 286.45h0.9v0.9h-0.9z M192.98 277.06h0.9v0.9h-0.9z M192.98 279.41h0.9v0.9h-0.9z M192.98 281.76h0.9v0.9h-0.9z M192.98 284.10h0.9v0.9h-0.9z M192.98 286.45h0.9v0.9h-0.9z M195.34 277.06h0.9v0.9h-0.9z M195.34 279.41h0.9v0.9h-0.9z M195.34 286.45h0.9v0.9h-0.9z M195.34 291.15h0.9v0.9h-0.9z M195.34 293.50h0.9v0.9h-0.9z M195.34 333.41h0.9v0.9h-0.9z M195.34 335.76h0.9v0.9h-0.9z M195.34 338.11h0.9v0.9h-0.9z M197.69 277.06h0.9v0.9h-0.9z M197.69 279.41h0.9v0.9h-0.9z M197.69 281.76h0.9v0.9h-0.9z M197.69 284.10h0.9v0.9h-0.9z M197.69 286.45h0.9v0.9h-0.9z M197.69 291.15h0.9v0.9h-0.9z M197.69 333.41h0.9v0.9h-0.9z M197.69 335.76h0.9v0.9h-0.9z M197.69 338.11h0.9v0.9h-0.9z M197.69 340.46h0.9v0.9h-0.9z M200.04 277.06h0.9v0.9h-0.9z M200.04 279.41h0.9v0.9h-0.9z M200.04 281.76h0.9v0.9h-0.9z M200.04 291.15h0.9v0.9h-0.9z M200.04 293.50h0.9v0.9h-0.9z M200.04 333.41h0.9v0.9h-0.9z M200.04 335.76h0.9v0.9h-0.9z M200.04 338.11h0.9v0.9h-0.9z M202.39 279.41h0.9v0.9h-0.9z M202.39 281.76h0.9v0.9h-0.9z M202.39 291.15h0.9v0.9h-0.9z M202.39 293.50h0.9v0.9h-0.9z M202.39 333.41h0.9v0.9h-0.9z M202.39 335.76h0.9v0.9h-0.9z M202.39 338.11h0.9v0.9h-0.9z M204.74 281.76h0.9v0.9h-0.9z M204.74 284.10h0.9v0.9h-0.9z M204.74 286.45h0.9v0.9h-0.9z M204.74 333.41h0.9v0.9h-0.9z M204.74 335.76h0.9v0.9h-0.9z M204.74 338.11h0.9v0.9h-0.9z M204.74 340.46h0.9v0.9h-0.9z M207.09 281.76h0.9v0.9h-0.9z M207.09 284.10h0.9v0.9h-0.9z M207.09 286.45h0.9v0.9h-0.9z M207.09 333.41h0.9v0.9h-0.9z M207.09 335.76h0.9v0.9h-0.9z M207.09 338.11h0.9v0.9h-0.9z M207.09 340.46h0.9v0.9h-0.9z M209.45 281.76h0.9v0.9h-0.9z M209.45 284.10h0.9v0.9h-0.9z M209.45 286.45h0.9v0.9h-0.9z M209.45 333.41h0.9v0.9h-0.9z M209.45 335.76h0.9v0.9h-0.9z M209.45 338.11h0.9v0.9h-0.9z M209.45 340.46h0.9v0.9h-0.9z M211.80 281.76h0.9v0.9h-0.9z M211.80 284.10h0.9v0.9h-0.9z M211.80 286.45h0.9v0.9h-0.9z M211.80 333.41h0.9v0.9h-0.9z M211.80 335.76h0.9v0.9h-0.9z M211.80 338.11h0.9v0.9h-0.9z M211.80 340.46h0.9v0.9h-0.9z M214.15 281.76h0.9v0.9h-0.9z M214.15 284.10h0.9v0.9h-0.9z M214.15 286.45h0.9v0.9h-0.9z M216.50 281.76h0.9v0.9h-0.9z M216.50 284.10h0.9v0.9h-0.9z M216.50 286.45h0.9v0.9h-0.9z M218.85 281.76h0.9v0.9h-0.9z M218.85 284.10h0.9v0.9h-0.9z M218.85 286.45h0.9v0.9h-0.9z M221.20 281.76h0.9v0.9h-0.9z M221.20 284.10h0.9v0.9h-0.9z M221.20 286.45h0.9v0.9h-0.9z M223.56 281.76h0.9v0.9h-0.9z M223.56 284.10h0.9v0.9h-0.9z M223.56 286.45h0.9v0.9h-0.9z M225.91 281.76h0.9v0.9h-0.9z M225.91 284.10h0.9v0.9h-0.9z M225.91 286.45h0.9v0.9h-0.9z M228.26 281.76h0.9v0.9h-0.9z M228.26 284.10h0.9v0.9h-0.9z M228.26 286.45h0.9v0.9h-0.9z M230.61 281.76h0.9v0.9h-0.9z M230.61 284.10h0.9v0.9h-0.9z M230.61 286.45h0.9v0.9h-0.9z M232.96 281.76h0.9v0.9h-0.9z M232.96 284.10h0.9v0.9h-0.9z M232.96 286.45h0.9v0.9h-0.9z M247.07 284.10h0.9v0.9h-0.9z M247.07 286.45h0.9v0.9h-0.9z M247.07 288.80h0.9v0.9h-0.9z M247.07 291.15h0.9v0.9h-0.9z M249.42 284.10h0.9v0.9h-0.9z M249.42 286.45h0.9v0.9h-0.9z M249.42 288.80h0.9v0.9h-0.9z M249.42 291.15h0.9v0.9h-0.9z M251.78 284.10h0.9v0.9h-0.9z M251.78 286.45h0.9v0.9h-0.9z M251.78 288.80h0.9v0.9h-0.9z M251.78 291.15h0.9v0.9h-0.9z M254.13 284.10h0.9v0.9h-0.9z M254.13 286.45h0.9v0.9h-0.9z M254.13 288.80h0.9v0.9h-0.9z M254.13 291.15h0.9v0.9h-0.9z M256.48 305.24h0.9v0.9h-0.9z M256.48 321.67h0.9v0.9h-0.9z M256.48 324.02h0.9v0.9h-0.9z M256.48 326.37h0.9v0.9h-0.9z M256.48 328.72h0.9v0.9h-0.9z M256.48 331.06h0.9v0.9h-0.9z M258.83 286.45h0.9v0.9h-0.9z M258.83 288.80h0.9v0.9h-0.9z M258.83 291.15h0.9v0.9h-0.9z M258.83 305.24h0.9v0.9h-0.9z M258.83 321.67h0.9v0.9h-0.9z M258.83 324.02h0.9v0.9h-0.9z M258.83 326.37h0.9v0.9h-0.9z M258.83 328.72h0.9v0.9h-0.9z M258.83 331.06h0.9v0.9h-0.9z M261.18 286.45h0.9v0.9h-0.9z M261.18 288.80h0.9v0.9h-0.9z M261.18 291.15h0.9v0.9h-0.9z M261.18 305.24h0.9v0.9h-0.9z M261.18 314.63h0.9v0.9h-0.9z M261.18 316.98h0.9v0.9h-0.9z M261.18 319.32h0.9v0.9h-0.9z M261.18 321.67h0.9v0.9h-0.9z M261.18 328.72h0.9v0.9h-0.9z M261.18 331.06h0.9v0.9h-0.9z M263.53 286.45h0.9v0.9h-0.9z M263.53 288.80h0.9v0.9h-0.9z M263.53 291.15h0.9v0.9h-0.9z M263.53 302.89h0.9v0.9h-0.9z M263.53 305.24h0.9v0.9h-0.9z M263.53 314.63h0.9v0.9h-0.9z M263.53 316.98h0.9v0.9h-0.9z M263.53 319.32h0.9v0.9h-0.9z M265.89 286.45h0.9v0.9h-0.9z M265.89 288.80h0.9v0.9h-0.9z M265.89 291.15h0.9v0.9h-0.9z M265.89 302.89h0.9v0.9h-0.9z M265.89 305.24h0.9v0.9h-0.9z M265.89 314.63h0.9v0.9h-0.9z M265.89 316.98h0.9v0.9h-0.9z M265.89 319.32h0.9v0.9h-0.9z M268.24 286.45h0.9v0.9h-0.9z M268.24 288.80h0.9v0.9h-0.9z M268.24 302.89h0.9v0.9h-0.9z M268.24 305.24h0.9v0.9h-0.9z M270.59 302.89h0.9v0.9h-0.9z M270.59 305.24h0.9v0.9h-0.9z M272.94 302.89h0.9v0.9h-0.9z M272.94 305.24h0.9v0.9h-0.9z M280.00 328.72h0.9v0.9h-0.9z M280.00 331.06h0.9v0.9h-0.9z M280.00 333.41h0.9v0.9h-0.9z M280.00 335.76h0.9v0.9h-0.9z M280.00 338.11h0.9v0.9h-0.9z M282.35 328.72h0.9v0.9h-0.9z M282.35 331.06h0.9v0.9h-0.9z M282.35 333.41h0.9v0.9h-0.9z M282.35 335.76h0.9v0.9h-0.9z M282.35 338.11h0.9v0.9h-0.9z M282.35 340.46h0.9v0.9h-0.9z M282.35 342.80h0.9v0.9h-0.9z M282.35 345.15h0.9v0.9h-0.9z M284.70 328.72h0.9v0.9h-0.9z M284.70 331.06h0.9v0.9h-0.9z M284.70 333.41h0.9v0.9h-0.9z M284.70 335.76h0.9v0.9h-0.9z M284.70 338.11h0.9v0.9h-0.9z M284.70 340.46h0.9v0.9h-0.9z M284.70 342.80h0.9v0.9h-0.9z M284.70 345.15h0.9v0.9h-0.9z M287.05 328.72h0.9v0.9h-0.9z M287.05 331.06h0.9v0.9h-0.9z M287.05 333.41h0.9v0.9h-0.9z M287.05 335.76h0.9v0.9h-0.9z M287.05 338.11h0.9v0.9h-0.9z M289.40 328.72h0.9v0.9h-0.9z M289.40 331.06h0.9v0.9h-0.9z M289.40 333.41h0.9v0.9h-0.9z M289.40 335.76h0.9v0.9h-0.9z M289.40 338.11h0.9v0.9h-0.9z M291.75 328.72h0.9v0.9h-0.9z M291.75 331.06h0.9v0.9h-0.9z M291.75 333.41h0.9v0.9h-0.9z M291.75 352.20h0.9v0.9h-0.9z M291.75 354.54h0.9v0.9h-0.9z M291.75 356.89h0.9v0.9h-0.9z M294.11 328.72h0.9v0.9h-0.9z M294.11 331.06h0.9v0.9h-0.9z M294.11 333.41h0.9v0.9h-0.9z M294.11 335.76h0.9v0.9h-0.9z M294.11 338.11h0.9v0.9h-0.9z M294.11 352.20h0.9v0.9h-0.9z M294.11 354.54h0.9v0.9h-0.9z M294.11 356.89h0.9v0.9h-0.9z M296.46 328.72h0.9v0.9h-0.9z M296.46 331.06h0.9v0.9h-0.9z M296.46 333.41h0.9v0.9h-0.9z M296.46 335.76h0.9v0.9h-0.9z M296.46 338.11h0.9v0.9h-0.9z M296.46 352.20h0.9v0.9h-0.9z M296.46 354.54h0.9v0.9h-0.9z M296.46 356.89h0.9v0.9h-0.9z" fill="#2a2a2a" fill-opacity="0.75"/></g>
<use href="#coast" transform="translate(0,234.9)"/>
<line x1="35.9" y1="259.9" x2="325.1" y2="259.9" stroke="#a8a8a8" stroke-width="1.8"/>
<line x1="39.4" y1="256.9" x2="39.4" y2="380.3" stroke="#555" stroke-width="1.3"/>
<line x1="321.6" y1="256.9" x2="321.6" y2="380.3" stroke="#666" stroke-width="1.3"/>
<line x1="35.9" y1="377.3" x2="325.1" y2="377.3" stroke="#555" stroke-width="1.3"/>
<path d="M39.4 377.3 L39.4 380.3 M39.4 259.9 L39.4 256.9 M86.4 377.3 L86.4 380.3 M86.4 259.9 L86.4 256.9 M133.5 377.3 L133.5 380.3 M133.5 259.9 L133.5 256.9 M180.5 377.3 L180.5 380.3 M180.5 259.9 L180.5 256.9 M227.5 377.3 L227.5 380.3 M227.5 259.9 L227.5 256.9 M274.6 377.3 L274.6 380.3 M274.6 259.9 L274.6 256.9 M321.6 377.3 L321.6 380.3 M321.6 259.9 L321.6 256.9 M39.4 377.3 L36.4 377.3 M321.6 377.3 L324.6 377.3 M39.4 353.8 L36.4 353.8 M321.6 353.8 L324.6 353.8 M39.4 330.3 L36.4 330.3 M321.6 330.3 L324.6 330.3 M39.4 306.9 L36.4 306.9 M321.6 306.9 L324.6 306.9 M39.4 283.4 L36.4 283.4 M321.6 283.4 L324.6 283.4 M39.4 259.9 L36.4 259.9 M321.6 259.9 L324.6 259.9" stroke="#555" stroke-width="0.9"/>
<text x="39.4" y="389.6" font-size="9.2" text-anchor="middle" fill="#333" >180°</text>
<text x="86.4" y="389.6" font-size="9.2" text-anchor="middle" fill="#333" >120°W</text>
<text x="133.5" y="389.6" font-size="9.2" text-anchor="middle" fill="#333" >60°W</text>
<text x="180.5" y="389.6" font-size="9.2" text-anchor="middle" fill="#333" >0°</text>
<text x="227.5" y="389.6" font-size="9.2" text-anchor="middle" fill="#333" >60°E</text>
<text x="274.6" y="389.6" font-size="9.2" text-anchor="middle" fill="#333" >120°E</text>
<text x="321.6" y="389.6" font-size="9.2" text-anchor="middle" fill="#333" >180°</text>
<text x="34.4" y="263.2" font-size="9.2" text-anchor="end" fill="#333" >90°N</text>
<text x="34.4" y="286.7" font-size="9.2" text-anchor="end" fill="#333" >60°N</text>
<text x="34.4" y="310.2" font-size="9.2" text-anchor="end" fill="#333" >30°N</text>
<text x="34.4" y="333.6" font-size="9.2" text-anchor="end" fill="#333" >0°</text>
<text x="34.4" y="357.1" font-size="9.2" text-anchor="end" fill="#333" >30°S</text>
<text x="34.4" y="380.6" font-size="9.2" text-anchor="end" fill="#333" >60°S</text>
<text x="180.5" y="401.8" font-size="11.5" text-anchor="middle" fill="#222" letter-spacing="0.4">Longitude</text>
<text transform="translate(9.8,318.2) rotate(-90)" font-size="11.5" text-anchor="middle" fill="#2b2b2b" letter-spacing="0.45">Latitude</text>
<mask id="lm_d" maskUnits="userSpaceOnUse" x="0" y="0" width="685" height="461"><use href="#land" transform="translate(353.1,234.9)"/></mask>
<g mask="url(#lm_d)"><g shape-rendering="crispEdges"><rect x="406.61" y="276.34" width="23.52" height="9.39" fill="#e0562a"/><rect x="406.61" y="276.34" width="2.35" height="4.70" fill="#3b78c2"/><rect x="408.96" y="276.34" width="4.70" height="9.39" fill="#e0562a"/><rect x="413.67" y="276.34" width="16.46" height="4.70" fill="#3b78c2"/><rect x="418.37" y="276.34" width="11.76" height="2.35" fill="#e0562a"/><rect x="408.96" y="283.38" width="7.05" height="2.35" fill="#3b78c2"/><rect x="425.42" y="281.03" width="7.05" height="4.70" fill="#e0562a"/><rect x="430.13" y="278.68" width="4.70" height="7.04" fill="#3b78c2"/><rect x="432.48" y="283.38" width="11.76" height="9.39" fill="#e0562a"/><rect x="437.18" y="281.03" width="2.35" height="2.35" fill="#3b78c2"/><rect x="439.53" y="278.68" width="2.35" height="2.35" fill="#3b78c2"/><rect x="439.53" y="281.03" width="4.70" height="2.35" fill="#e0562a"/><rect x="444.24" y="281.03" width="2.35" height="2.35" fill="#3b78c2"/><rect x="444.24" y="283.38" width="9.41" height="4.70" fill="#e0562a"/><rect x="448.94" y="281.03" width="2.35" height="4.70" fill="#3b78c2"/><rect x="453.64" y="283.38" width="4.70" height="7.04" fill="#3b78c2"/><rect x="430.13" y="288.08" width="2.35" height="2.35" fill="#3b78c2"/><rect x="444.24" y="292.77" width="2.35" height="2.35" fill="#e0562a"/><rect x="458.35" y="288.08" width="14.11" height="4.70" fill="#e0562a"/><rect x="467.75" y="288.08" width="4.70" height="2.35" fill="#3b78c2"/><rect x="463.05" y="292.77" width="4.70" height="2.35" fill="#3b78c2"/><rect x="446.59" y="299.82" width="25.87" height="14.09" fill="#e0562a"/><rect x="456.00" y="306.86" width="4.70" height="2.35" fill="#3b78c2"/><rect x="453.64" y="311.56" width="4.70" height="2.35" fill="#3b78c2"/><rect x="467.75" y="297.47" width="4.70" height="4.70" fill="#3b78c2"/><rect x="467.75" y="288.08" width="14.11" height="7.04" fill="#e0562a"/><rect x="467.75" y="288.08" width="4.70" height="2.35" fill="#3b78c2"/><rect x="472.46" y="292.77" width="2.35" height="2.35" fill="#3b78c2"/><rect x="484.22" y="288.08" width="7.05" height="4.70" fill="#e0562a"/><rect x="488.92" y="288.08" width="2.35" height="2.35" fill="#3b78c2"/><rect x="467.75" y="295.12" width="11.76" height="7.04" fill="#3b78c2"/><rect x="472.46" y="295.12" width="4.70" height="2.35" fill="#e0562a"/><rect x="467.75" y="302.16" width="4.70" height="11.74" fill="#e0562a"/><rect x="477.16" y="313.90" width="2.35" height="2.35" fill="#e0562a"/><rect x="448.94" y="309.21" width="9.41" height="9.39" fill="#e0562a"/><rect x="453.64" y="313.90" width="2.35" height="4.70" fill="#3b78c2"/><rect x="456.00" y="313.90" width="11.76" height="9.39" fill="#e0562a"/><rect x="463.05" y="318.60" width="2.35" height="2.35" fill="#3b78c2"/><rect x="470.11" y="309.21" width="2.35" height="4.70" fill="#e0562a"/><rect x="470.11" y="323.30" width="30.57" height="23.48" fill="#e0562a"/><rect x="474.81" y="320.95" width="2.35" height="2.35" fill="#3b78c2"/><rect x="479.51" y="323.30" width="4.70" height="9.39" fill="#3b78c2"/><rect x="474.81" y="332.69" width="4.70" height="4.70" fill="#3b78c2"/><rect x="495.97" y="337.38" width="4.70" height="2.35" fill="#ffffff"/><rect x="486.57" y="342.08" width="2.35" height="2.35" fill="#ffffff"/><rect x="474.81" y="346.78" width="18.81" height="14.09" fill="#e0562a"/><rect x="479.51" y="344.43" width="4.70" height="2.35" fill="#3b78c2"/><rect x="481.86" y="349.12" width="7.05" height="7.04" fill="#3b78c2"/><rect x="484.22" y="349.12" width="2.35" height="2.35" fill="#ffffff"/><rect x="486.57" y="356.17" width="2.35" height="4.70" fill="#3b78c2"/><rect x="477.16" y="353.82" width="2.35" height="2.35" fill="#3b78c2"/><rect x="481.86" y="360.86" width="2.35" height="2.35" fill="#3b78c2"/><rect x="474.81" y="360.86" width="7.05" height="11.74" fill="#e0562a"/><rect x="479.51" y="367.91" width="2.35" height="2.35" fill="#3b78c2"/><rect x="524.19" y="288.08" width="4.70" height="2.35" fill="#e0562a"/><rect x="524.19" y="288.08" width="4.70" height="2.35" fill="#3b78c2"/><rect x="528.90" y="283.38" width="4.70" height="7.04" fill="#e0562a"/><rect x="528.90" y="288.08" width="32.92" height="7.04" fill="#e0562a"/><rect x="538.30" y="290.42" width="2.35" height="2.35" fill="#3b78c2"/><rect x="531.25" y="288.08" width="2.35" height="2.35" fill="#3b78c2"/><rect x="538.30" y="276.34" width="35.27" height="11.74" fill="#e0562a"/><rect x="573.58" y="278.68" width="23.52" height="9.39" fill="#e0562a"/><rect x="547.71" y="281.03" width="2.35" height="7.04" fill="#ffffff"/><rect x="547.71" y="276.34" width="9.41" height="4.70" fill="#3b78c2"/><rect x="538.30" y="283.38" width="9.41" height="2.35" fill="#3b78c2"/><rect x="550.06" y="283.38" width="7.05" height="4.70" fill="#3b78c2"/><rect x="552.41" y="283.38" width="2.35" height="2.35" fill="#e0562a"/><rect x="557.12" y="276.34" width="9.41" height="2.35" fill="#3b78c2"/><rect x="573.58" y="278.68" width="9.41" height="4.70" fill="#3b78c2"/><rect x="578.28" y="288.08" width="2.35" height="2.35" fill="#e0562a"/><rect x="566.52" y="295.12" width="2.35" height="2.35" fill="#e0562a"/><rect x="538.30" y="299.82" width="2.35" height="2.35" fill="#e0562a"/><rect x="594.74" y="306.86" width="2.35" height="2.35" fill="#e0562a"/><rect x="524.19" y="320.95" width="2.35" height="2.35" fill="#e0562a"/><rect x="524.19" y="323.30" width="18.81" height="4.70" fill="#e0562a"/><rect x="521.84" y="320.95" width="2.35" height="2.35" fill="#3b78c2"/><rect x="533.60" y="320.95" width="7.05" height="2.35" fill="#3b78c2"/><rect x="545.36" y="323.30" width="11.76" height="9.39" fill="#e0562a"/><rect x="543.01" y="325.64" width="7.05" height="7.04" fill="#3b78c2"/><rect x="540.65" y="330.34" width="4.70" height="7.04" fill="#3b78c2"/><rect x="545.36" y="332.69" width="21.16" height="9.39" fill="#e0562a"/><rect x="554.76" y="327.99" width="2.35" height="4.70" fill="#3b78c2"/><rect x="545.36" y="337.38" width="2.35" height="2.35" fill="#3b78c2"/><rect x="561.82" y="330.34" width="2.35" height="2.35" fill="#3b78c2"/><rect x="559.47" y="320.95" width="4.70" height="7.04" fill="#e0562a"/><rect x="559.47" y="320.95" width="2.35" height="2.35" fill="#3b78c2"/><rect x="559.47" y="325.64" width="4.70" height="2.35" fill="#3b78c2"/><rect x="552.41" y="342.08" width="14.11" height="4.70" fill="#e0562a"/><rect x="554.76" y="346.78" width="4.70" height="7.04" fill="#3b78c2"/><rect x="550.06" y="349.12" width="4.70" height="7.04" fill="#e0562a"/><rect x="547.71" y="356.17" width="7.05" height="2.35" fill="#e0562a"/><rect x="550.06" y="356.17" width="2.35" height="2.35" fill="#3b78c2"/><rect x="566.52" y="339.73" width="7.05" height="9.39" fill="#e0562a"/><rect x="571.23" y="339.73" width="2.35" height="4.70" fill="#3b78c2"/><rect x="592.39" y="281.03" width="18.81" height="7.04" fill="#e0562a"/><rect x="599.45" y="288.08" width="7.05" height="4.70" fill="#e0562a"/><rect x="597.10" y="281.03" width="2.35" height="2.35" fill="#3b78c2"/><rect x="604.15" y="281.03" width="7.05" height="4.70" fill="#3b78c2"/><rect x="611.20" y="285.73" width="14.11" height="7.04" fill="#e0562a"/><rect x="615.91" y="283.38" width="7.05" height="4.70" fill="#3b78c2"/><rect x="627.67" y="288.08" width="18.81" height="4.70" fill="#e0562a"/><rect x="630.02" y="288.08" width="11.76" height="4.70" fill="#3b78c2"/><rect x="639.42" y="285.73" width="7.05" height="11.74" fill="#e0562a"/><rect x="644.13" y="288.08" width="2.35" height="7.04" fill="#3b78c2"/><rect x="632.37" y="297.47" width="4.70" height="9.39" fill="#e0562a"/><rect x="632.37" y="297.47" width="2.35" height="2.35" fill="#3b78c2"/><rect x="641.78" y="299.82" width="2.35" height="4.70" fill="#e0562a"/><rect x="641.78" y="302.16" width="2.35" height="2.35" fill="#3b78c2"/><rect x="604.15" y="302.16" width="25.87" height="11.74" fill="#e0562a"/><rect x="606.50" y="313.90" width="14.11" height="7.04" fill="#e0562a"/><rect x="608.85" y="304.51" width="18.81" height="9.39" fill="#3b78c2"/><rect x="613.56" y="302.16" width="4.70" height="2.35" fill="#3b78c2"/><rect x="620.61" y="299.82" width="4.70" height="2.35" fill="#3b78c2"/><rect x="606.50" y="306.86" width="2.35" height="2.35" fill="#3b78c2"/><rect x="594.74" y="306.86" width="2.35" height="2.35" fill="#3b78c2"/><rect x="597.10" y="306.86" width="2.35" height="2.35" fill="#e0562a"/><rect x="599.45" y="309.21" width="2.35" height="2.35" fill="#e0562a"/><rect x="597.10" y="313.90" width="2.35" height="2.35" fill="#e0562a"/><rect x="597.10" y="316.25" width="2.35" height="2.35" fill="#3b78c2"/><rect x="608.85" y="309.21" width="18.81" height="4.70" fill="#3b78c2"/><rect x="608.85" y="311.56" width="11.76" height="11.74" fill="#e0562a"/><rect x="611.20" y="309.21" width="4.70" height="2.35" fill="#e0562a"/><rect x="613.56" y="320.95" width="4.70" height="2.35" fill="#3b78c2"/><rect x="608.85" y="323.30" width="7.05" height="9.39" fill="#e0562a"/><rect x="608.85" y="327.99" width="4.70" height="2.35" fill="#3b78c2"/><rect x="618.26" y="325.64" width="11.76" height="9.39" fill="#e0562a"/><rect x="625.32" y="325.64" width="2.35" height="2.35" fill="#3b78c2"/><rect x="627.67" y="316.25" width="4.70" height="7.04" fill="#e0562a"/><rect x="630.02" y="323.30" width="2.35" height="2.35" fill="#3b78c2"/><rect x="615.91" y="335.04" width="9.41" height="2.35" fill="#3b78c2"/><rect x="632.37" y="327.99" width="7.05" height="4.70" fill="#e0562a"/><rect x="632.37" y="327.99" width="2.35" height="2.35" fill="#3b78c2"/><rect x="641.78" y="330.34" width="7.05" height="9.39" fill="#3b78c2"/><rect x="648.83" y="335.04" width="2.35" height="4.70" fill="#e0562a"/><rect x="641.78" y="335.04" width="2.35" height="2.35" fill="#e0562a"/><rect x="637.07" y="346.78" width="16.46" height="14.09" fill="#3b78c2"/><rect x="630.02" y="339.73" width="18.81" height="7.04" fill="#e0562a"/><rect x="627.67" y="349.12" width="11.76" height="7.04" fill="#e0562a"/><rect x="634.72" y="344.43" width="4.70" height="11.74" fill="#e0562a"/><rect x="639.42" y="349.12" width="4.70" height="4.70" fill="#ffffff"/><rect x="630.02" y="351.47" width="4.70" height="2.35" fill="#3b78c2"/><rect x="648.83" y="358.52" width="2.35" height="2.35" fill="#e0562a"/><rect x="651.18" y="353.82" width="2.35" height="2.35" fill="#e0562a"/><rect x="622.96" y="356.17" width="2.35" height="2.35" fill="#3b78c2"/><rect x="625.32" y="356.17" width="2.35" height="2.35" fill="#e0562a"/><rect x="646.48" y="363.21" width="2.35" height="2.35" fill="#e0562a"/><rect x="670.00" y="358.52" width="2.35" height="2.35" fill="#e0562a"/><rect x="667.64" y="363.21" width="2.35" height="2.35" fill="#e0562a"/><rect x="665.29" y="365.56" width="2.35" height="2.35" fill="#e0562a"/><rect x="597.10" y="313.90" width="2.35" height="2.35" fill="#e0562a"/><rect x="597.10" y="316.25" width="2.35" height="2.35" fill="#3b78c2"/><rect x="592.39" y="320.95" width="2.35" height="2.35" fill="#3b78c2"/></g><path d="M409.69 277.06h0.9v0.9h-0.9z M409.69 279.41h0.9v0.9h-0.9z M409.69 281.76h0.9v0.9h-0.9z M412.04 277.06h0.9v0.9h-0.9z M412.04 279.41h0.9v0.9h-0.9z M412.04 281.76h0.9v0.9h-0.9z M419.09 277.06h0.9v0.9h-0.9z M421.45 277.06h0.9v0.9h-0.9z M423.80 277.06h0.9v0.9h-0.9z M426.15 277.06h0.9v0.9h-0.9z M428.50 277.06h0.9v0.9h-0.9z M433.20 284.10h0.9v0.9h-0.9z M433.20 286.45h0.9v0.9h-0.9z M433.20 288.80h0.9v0.9h-0.9z M433.20 291.15h0.9v0.9h-0.9z M435.56 284.10h0.9v0.9h-0.9z M435.56 286.45h0.9v0.9h-0.9z M435.56 288.80h0.9v0.9h-0.9z M435.56 291.15h0.9v0.9h-0.9z M437.91 284.10h0.9v0.9h-0.9z M437.91 286.45h0.9v0.9h-0.9z M437.91 288.80h0.9v0.9h-0.9z M437.91 291.15h0.9v0.9h-0.9z M440.26 281.76h0.9v0.9h-0.9z M440.26 284.10h0.9v0.9h-0.9z M440.26 286.45h0.9v0.9h-0.9z M440.26 288.80h0.9v0.9h-0.9z M440.26 291.15h0.9v0.9h-0.9z M442.61 281.76h0.9v0.9h-0.9z M442.61 284.10h0.9v0.9h-0.9z M442.61 286.45h0.9v0.9h-0.9z M442.61 288.80h0.9v0.9h-0.9z M442.61 291.15h0.9v0.9h-0.9z M447.31 300.54h0.9v0.9h-0.9z M447.31 302.89h0.9v0.9h-0.9z M447.31 305.24h0.9v0.9h-0.9z M447.31 307.58h0.9v0.9h-0.9z M447.31 309.93h0.9v0.9h-0.9z M447.31 312.28h0.9v0.9h-0.9z M449.67 300.54h0.9v0.9h-0.9z M449.67 302.89h0.9v0.9h-0.9z M449.67 305.24h0.9v0.9h-0.9z M449.67 307.58h0.9v0.9h-0.9z M452.02 300.54h0.9v0.9h-0.9z M452.02 302.89h0.9v0.9h-0.9z M452.02 305.24h0.9v0.9h-0.9z M452.02 307.58h0.9v0.9h-0.9z M454.37 300.54h0.9v0.9h-0.9z M454.37 302.89h0.9v0.9h-0.9z M454.37 305.24h0.9v0.9h-0.9z M454.37 307.58h0.9v0.9h-0.9z M456.72 300.54h0.9v0.9h-0.9z M456.72 302.89h0.9v0.9h-0.9z M456.72 305.24h0.9v0.9h-0.9z M459.07 288.80h0.9v0.9h-0.9z M459.07 291.15h0.9v0.9h-0.9z M459.07 300.54h0.9v0.9h-0.9z M459.07 302.89h0.9v0.9h-0.9z M459.07 305.24h0.9v0.9h-0.9z M459.07 309.93h0.9v0.9h-0.9z M459.07 312.28h0.9v0.9h-0.9z M461.42 288.80h0.9v0.9h-0.9z M461.42 291.15h0.9v0.9h-0.9z M461.42 300.54h0.9v0.9h-0.9z M461.42 302.89h0.9v0.9h-0.9z M461.42 305.24h0.9v0.9h-0.9z M461.42 307.58h0.9v0.9h-0.9z M461.42 309.93h0.9v0.9h-0.9z M461.42 312.28h0.9v0.9h-0.9z M463.78 288.80h0.9v0.9h-0.9z M463.78 291.15h0.9v0.9h-0.9z M463.78 300.54h0.9v0.9h-0.9z M463.78 302.89h0.9v0.9h-0.9z M463.78 305.24h0.9v0.9h-0.9z M463.78 307.58h0.9v0.9h-0.9z M463.78 309.93h0.9v0.9h-0.9z M463.78 312.28h0.9v0.9h-0.9z M466.13 288.80h0.9v0.9h-0.9z M466.13 291.15h0.9v0.9h-0.9z M466.13 300.54h0.9v0.9h-0.9z M466.13 302.89h0.9v0.9h-0.9z M466.13 305.24h0.9v0.9h-0.9z M466.13 307.58h0.9v0.9h-0.9z M466.13 309.93h0.9v0.9h-0.9z M466.13 312.28h0.9v0.9h-0.9z M468.48 291.15h0.9v0.9h-0.9z M468.48 293.50h0.9v0.9h-0.9z M470.83 291.15h0.9v0.9h-0.9z M470.83 293.50h0.9v0.9h-0.9z M470.83 324.02h0.9v0.9h-0.9z M470.83 326.37h0.9v0.9h-0.9z M470.83 328.72h0.9v0.9h-0.9z M470.83 331.06h0.9v0.9h-0.9z M470.83 333.41h0.9v0.9h-0.9z M470.83 335.76h0.9v0.9h-0.9z M470.83 338.11h0.9v0.9h-0.9z M470.83 340.46h0.9v0.9h-0.9z M470.83 342.80h0.9v0.9h-0.9z M470.83 345.15h0.9v0.9h-0.9z M473.18 288.80h0.9v0.9h-0.9z M473.18 291.15h0.9v0.9h-0.9z M473.18 324.02h0.9v0.9h-0.9z M473.18 326.37h0.9v0.9h-0.9z M473.18 328.72h0.9v0.9h-0.9z M473.18 331.06h0.9v0.9h-0.9z M473.18 333.41h0.9v0.9h-0.9z M473.18 335.76h0.9v0.9h-0.9z M473.18 338.11h0.9v0.9h-0.9z M473.18 340.46h0.9v0.9h-0.9z M473.18 342.80h0.9v0.9h-0.9z M473.18 345.15h0.9v0.9h-0.9z M475.53 288.80h0.9v0.9h-0.9z M475.53 291.15h0.9v0.9h-0.9z M475.53 293.50h0.9v0.9h-0.9z M475.53 324.02h0.9v0.9h-0.9z M475.53 326.37h0.9v0.9h-0.9z M475.53 328.72h0.9v0.9h-0.9z M475.53 331.06h0.9v0.9h-0.9z M475.53 338.11h0.9v0.9h-0.9z M475.53 340.46h0.9v0.9h-0.9z M475.53 342.80h0.9v0.9h-0.9z M475.53 345.15h0.9v0.9h-0.9z M475.53 347.50h0.9v0.9h-0.9z M475.53 349.85h0.9v0.9h-0.9z M475.53 352.20h0.9v0.9h-0.9z M475.53 354.54h0.9v0.9h-0.9z M475.53 356.89h0.9v0.9h-0.9z M475.53 359.24h0.9v0.9h-0.9z M477.89 288.80h0.9v0.9h-0.9z M477.89 291.15h0.9v0.9h-0.9z M477.89 293.50h0.9v0.9h-0.9z M477.89 324.02h0.9v0.9h-0.9z M477.89 326.37h0.9v0.9h-0.9z M477.89 328.72h0.9v0.9h-0.9z M477.89 331.06h0.9v0.9h-0.9z M477.89 338.11h0.9v0.9h-0.9z M477.89 340.46h0.9v0.9h-0.9z M477.89 342.80h0.9v0.9h-0.9z M477.89 345.15h0.9v0.9h-0.9z M477.89 347.50h0.9v0.9h-0.9z M477.89 349.85h0.9v0.9h-0.9z M477.89 352.20h0.9v0.9h-0.9z M477.89 356.89h0.9v0.9h-0.9z M477.89 359.24h0.9v0.9h-0.9z M480.24 288.80h0.9v0.9h-0.9z M480.24 291.15h0.9v0.9h-0.9z M480.24 293.50h0.9v0.9h-0.9z M480.24 333.41h0.9v0.9h-0.9z M480.24 335.76h0.9v0.9h-0.9z M480.24 338.11h0.9v0.9h-0.9z M480.24 340.46h0.9v0.9h-0.9z M480.24 342.80h0.9v0.9h-0.9z M480.24 347.50h0.9v0.9h-0.9z M480.24 349.85h0.9v0.9h-0.9z M480.24 352.20h0.9v0.9h-0.9z M480.24 354.54h0.9v0.9h-0.9z M480.24 356.89h0.9v0.9h-0.9z M480.24 359.24h0.9v0.9h-0.9z M482.59 333.41h0.9v0.9h-0.9z M482.59 335.76h0.9v0.9h-0.9z M482.59 338.11h0.9v0.9h-0.9z M482.59 340.46h0.9v0.9h-0.9z M482.59 342.80h0.9v0.9h-0.9z M482.59 347.50h0.9v0.9h-0.9z M482.59 356.89h0.9v0.9h-0.9z M482.59 359.24h0.9v0.9h-0.9z M484.94 324.02h0.9v0.9h-0.9z M484.94 326.37h0.9v0.9h-0.9z M484.94 328.72h0.9v0.9h-0.9z M484.94 331.06h0.9v0.9h-0.9z M484.94 333.41h0.9v0.9h-0.9z M484.94 335.76h0.9v0.9h-0.9z M484.94 338.11h0.9v0.9h-0.9z M484.94 340.46h0.9v0.9h-0.9z M484.94 342.80h0.9v0.9h-0.9z M484.94 345.15h0.9v0.9h-0.9z M484.94 347.50h0.9v0.9h-0.9z M484.94 356.89h0.9v0.9h-0.9z M484.94 359.24h0.9v0.9h-0.9z M487.29 324.02h0.9v0.9h-0.9z M487.29 326.37h0.9v0.9h-0.9z M487.29 328.72h0.9v0.9h-0.9z M487.29 331.06h0.9v0.9h-0.9z M487.29 333.41h0.9v0.9h-0.9z M487.29 335.76h0.9v0.9h-0.9z M487.29 338.11h0.9v0.9h-0.9z M487.29 340.46h0.9v0.9h-0.9z M487.29 345.15h0.9v0.9h-0.9z M487.29 347.50h0.9v0.9h-0.9z M489.64 324.02h0.9v0.9h-0.9z M489.64 326.37h0.9v0.9h-0.9z M489.64 328.72h0.9v0.9h-0.9z M489.64 331.06h0.9v0.9h-0.9z M489.64 333.41h0.9v0.9h-0.9z M489.64 335.76h0.9v0.9h-0.9z M489.64 338.11h0.9v0.9h-0.9z M489.64 340.46h0.9v0.9h-0.9z M489.64 342.80h0.9v0.9h-0.9z M489.64 345.15h0.9v0.9h-0.9z M489.64 347.50h0.9v0.9h-0.9z M489.64 349.85h0.9v0.9h-0.9z M489.64 352.20h0.9v0.9h-0.9z M489.64 354.54h0.9v0.9h-0.9z M489.64 356.89h0.9v0.9h-0.9z M489.64 359.24h0.9v0.9h-0.9z M492.00 324.02h0.9v0.9h-0.9z M492.00 326.37h0.9v0.9h-0.9z M492.00 328.72h0.9v0.9h-0.9z M492.00 331.06h0.9v0.9h-0.9z M492.00 333.41h0.9v0.9h-0.9z M492.00 335.76h0.9v0.9h-0.9z M492.00 338.11h0.9v0.9h-0.9z M492.00 340.46h0.9v0.9h-0.9z M492.00 342.80h0.9v0.9h-0.9z M492.00 345.15h0.9v0.9h-0.9z M492.00 347.50h0.9v0.9h-0.9z M492.00 349.85h0.9v0.9h-0.9z M492.00 352.20h0.9v0.9h-0.9z M492.00 354.54h0.9v0.9h-0.9z M492.00 356.89h0.9v0.9h-0.9z M492.00 359.24h0.9v0.9h-0.9z M494.35 324.02h0.9v0.9h-0.9z M494.35 326.37h0.9v0.9h-0.9z M494.35 328.72h0.9v0.9h-0.9z M494.35 331.06h0.9v0.9h-0.9z M494.35 333.41h0.9v0.9h-0.9z M494.35 335.76h0.9v0.9h-0.9z M494.35 338.11h0.9v0.9h-0.9z M494.35 340.46h0.9v0.9h-0.9z M494.35 342.80h0.9v0.9h-0.9z M494.35 345.15h0.9v0.9h-0.9z M496.70 324.02h0.9v0.9h-0.9z M496.70 326.37h0.9v0.9h-0.9z M496.70 328.72h0.9v0.9h-0.9z M496.70 331.06h0.9v0.9h-0.9z M496.70 333.41h0.9v0.9h-0.9z M496.70 335.76h0.9v0.9h-0.9z M496.70 340.46h0.9v0.9h-0.9z M496.70 342.80h0.9v0.9h-0.9z M496.70 345.15h0.9v0.9h-0.9z M499.05 324.02h0.9v0.9h-0.9z M499.05 326.37h0.9v0.9h-0.9z M499.05 328.72h0.9v0.9h-0.9z M499.05 331.06h0.9v0.9h-0.9z M499.05 333.41h0.9v0.9h-0.9z M499.05 335.76h0.9v0.9h-0.9z M499.05 340.46h0.9v0.9h-0.9z M499.05 342.80h0.9v0.9h-0.9z M499.05 345.15h0.9v0.9h-0.9z M524.92 324.02h0.9v0.9h-0.9z M524.92 326.37h0.9v0.9h-0.9z M527.27 324.02h0.9v0.9h-0.9z M527.27 326.37h0.9v0.9h-0.9z M529.62 284.10h0.9v0.9h-0.9z M529.62 286.45h0.9v0.9h-0.9z M529.62 288.80h0.9v0.9h-0.9z M529.62 291.15h0.9v0.9h-0.9z M529.62 293.50h0.9v0.9h-0.9z M529.62 324.02h0.9v0.9h-0.9z M529.62 326.37h0.9v0.9h-0.9z M531.97 284.10h0.9v0.9h-0.9z M531.97 286.45h0.9v0.9h-0.9z M531.97 291.15h0.9v0.9h-0.9z M531.97 293.50h0.9v0.9h-0.9z M531.97 324.02h0.9v0.9h-0.9z M531.97 326.37h0.9v0.9h-0.9z M534.33 288.80h0.9v0.9h-0.9z M534.33 291.15h0.9v0.9h-0.9z M534.33 293.50h0.9v0.9h-0.9z M534.33 324.02h0.9v0.9h-0.9z M534.33 326.37h0.9v0.9h-0.9z M536.68 288.80h0.9v0.9h-0.9z M536.68 291.15h0.9v0.9h-0.9z M536.68 293.50h0.9v0.9h-0.9z M536.68 324.02h0.9v0.9h-0.9z M536.68 326.37h0.9v0.9h-0.9z M539.03 277.06h0.9v0.9h-0.9z M539.03 279.41h0.9v0.9h-0.9z M539.03 281.76h0.9v0.9h-0.9z M539.03 286.45h0.9v0.9h-0.9z M539.03 288.80h0.9v0.9h-0.9z M539.03 293.50h0.9v0.9h-0.9z M539.03 324.02h0.9v0.9h-0.9z M539.03 326.37h0.9v0.9h-0.9z M541.38 277.06h0.9v0.9h-0.9z M541.38 279.41h0.9v0.9h-0.9z M541.38 281.76h0.9v0.9h-0.9z M541.38 286.45h0.9v0.9h-0.9z M541.38 288.80h0.9v0.9h-0.9z M541.38 291.15h0.9v0.9h-0.9z M541.38 293.50h0.9v0.9h-0.9z M541.38 324.02h0.9v0.9h-0.9z M541.38 326.37h0.9v0.9h-0.9z M543.73 277.06h0.9v0.9h-0.9z M543.73 279.41h0.9v0.9h-0.9z M543.73 281.76h0.9v0.9h-0.9z M543.73 286.45h0.9v0.9h-0.9z M543.73 288.80h0.9v0.9h-0.9z M543.73 291.15h0.9v0.9h-0.9z M543.73 293.50h0.9v0.9h-0.9z M546.08 277.06h0.9v0.9h-0.9z M546.08 279.41h0.9v0.9h-0.9z M546.08 281.76h0.9v0.9h-0.9z M546.08 286.45h0.9v0.9h-0.9z M546.08 288.80h0.9v0.9h-0.9z M546.08 291.15h0.9v0.9h-0.9z M546.08 293.50h0.9v0.9h-0.9z M546.08 324.02h0.9v0.9h-0.9z M546.08 333.41h0.9v0.9h-0.9z M546.08 335.76h0.9v0.9h-0.9z M546.08 340.46h0.9v0.9h-0.9z M548.44 288.80h0.9v0.9h-0.9z M548.44 291.15h0.9v0.9h-0.9z M548.44 293.50h0.9v0.9h-0.9z M548.44 324.02h0.9v0.9h-0.9z M548.44 333.41h0.9v0.9h-0.9z M548.44 335.76h0.9v0.9h-0.9z M548.44 338.11h0.9v0.9h-0.9z M548.44 340.46h0.9v0.9h-0.9z M550.79 281.76h0.9v0.9h-0.9z M550.79 288.80h0.9v0.9h-0.9z M550.79 291.15h0.9v0.9h-0.9z M550.79 293.50h0.9v0.9h-0.9z M550.79 324.02h0.9v0.9h-0.9z M550.79 326.37h0.9v0.9h-0.9z M550.79 328.72h0.9v0.9h-0.9z M550.79 331.06h0.9v0.9h-0.9z M550.79 333.41h0.9v0.9h-0.9z M550.79 335.76h0.9v0.9h-0.9z M550.79 338.11h0.9v0.9h-0.9z M550.79 340.46h0.9v0.9h-0.9z M550.79 349.85h0.9v0.9h-0.9z M550.79 352.20h0.9v0.9h-0.9z M550.79 354.54h0.9v0.9h-0.9z M553.14 281.76h0.9v0.9h-0.9z M553.14 288.80h0.9v0.9h-0.9z M553.14 291.15h0.9v0.9h-0.9z M553.14 293.50h0.9v0.9h-0.9z M553.14 324.02h0.9v0.9h-0.9z M553.14 326.37h0.9v0.9h-0.9z M553.14 328.72h0.9v0.9h-0.9z M553.14 331.06h0.9v0.9h-0.9z M553.14 333.41h0.9v0.9h-0.9z M553.14 335.76h0.9v0.9h-0.9z M553.14 338.11h0.9v0.9h-0.9z M553.14 340.46h0.9v0.9h-0.9z M553.14 342.80h0.9v0.9h-0.9z M553.14 345.15h0.9v0.9h-0.9z M553.14 349.85h0.9v0.9h-0.9z M553.14 352.20h0.9v0.9h-0.9z M553.14 354.54h0.9v0.9h-0.9z M555.49 281.76h0.9v0.9h-0.9z M555.49 288.80h0.9v0.9h-0.9z M555.49 291.15h0.9v0.9h-0.9z M555.49 293.50h0.9v0.9h-0.9z M555.49 324.02h0.9v0.9h-0.9z M555.49 326.37h0.9v0.9h-0.9z M555.49 333.41h0.9v0.9h-0.9z M555.49 335.76h0.9v0.9h-0.9z M555.49 338.11h0.9v0.9h-0.9z M555.49 340.46h0.9v0.9h-0.9z M555.49 342.80h0.9v0.9h-0.9z M555.49 345.15h0.9v0.9h-0.9z M557.84 279.41h0.9v0.9h-0.9z M557.84 281.76h0.9v0.9h-0.9z M557.84 284.10h0.9v0.9h-0.9z M557.84 286.45h0.9v0.9h-0.9z M557.84 288.80h0.9v0.9h-0.9z M557.84 291.15h0.9v0.9h-0.9z M557.84 293.50h0.9v0.9h-0.9z M557.84 333.41h0.9v0.9h-0.9z M557.84 335.76h0.9v0.9h-0.9z M557.84 338.11h0.9v0.9h-0.9z M557.84 340.46h0.9v0.9h-0.9z M557.84 342.80h0.9v0.9h-0.9z M557.84 345.15h0.9v0.9h-0.9z M560.19 279.41h0.9v0.9h-0.9z M560.19 281.76h0.9v0.9h-0.9z M560.19 284.10h0.9v0.9h-0.9z M560.19 286.45h0.9v0.9h-0.9z M560.19 288.80h0.9v0.9h-0.9z M560.19 291.15h0.9v0.9h-0.9z M560.19 293.50h0.9v0.9h-0.9z M560.19 333.41h0.9v0.9h-0.9z M560.19 335.76h0.9v0.9h-0.9z M560.19 338.11h0.9v0.9h-0.9z M560.19 340.46h0.9v0.9h-0.9z M560.19 342.80h0.9v0.9h-0.9z M560.19 345.15h0.9v0.9h-0.9z M562.55 279.41h0.9v0.9h-0.9z M562.55 281.76h0.9v0.9h-0.9z M562.55 284.10h0.9v0.9h-0.9z M562.55 286.45h0.9v0.9h-0.9z M562.55 333.41h0.9v0.9h-0.9z M562.55 335.76h0.9v0.9h-0.9z M562.55 338.11h0.9v0.9h-0.9z M562.55 340.46h0.9v0.9h-0.9z M562.55 342.80h0.9v0.9h-0.9z M562.55 345.15h0.9v0.9h-0.9z M564.90 279.41h0.9v0.9h-0.9z M564.90 281.76h0.9v0.9h-0.9z M564.90 284.10h0.9v0.9h-0.9z M564.90 286.45h0.9v0.9h-0.9z M564.90 333.41h0.9v0.9h-0.9z M564.90 335.76h0.9v0.9h-0.9z M564.90 338.11h0.9v0.9h-0.9z M564.90 340.46h0.9v0.9h-0.9z M564.90 342.80h0.9v0.9h-0.9z M564.90 345.15h0.9v0.9h-0.9z M567.25 277.06h0.9v0.9h-0.9z M567.25 279.41h0.9v0.9h-0.9z M567.25 281.76h0.9v0.9h-0.9z M567.25 284.10h0.9v0.9h-0.9z M567.25 286.45h0.9v0.9h-0.9z M569.60 277.06h0.9v0.9h-0.9z M569.60 279.41h0.9v0.9h-0.9z M569.60 281.76h0.9v0.9h-0.9z M569.60 284.10h0.9v0.9h-0.9z M569.60 286.45h0.9v0.9h-0.9z M571.95 277.06h0.9v0.9h-0.9z M571.95 279.41h0.9v0.9h-0.9z M571.95 281.76h0.9v0.9h-0.9z M571.95 284.10h0.9v0.9h-0.9z M571.95 286.45h0.9v0.9h-0.9z M574.30 284.10h0.9v0.9h-0.9z M574.30 286.45h0.9v0.9h-0.9z M576.66 284.10h0.9v0.9h-0.9z M576.66 286.45h0.9v0.9h-0.9z M579.01 284.10h0.9v0.9h-0.9z M579.01 286.45h0.9v0.9h-0.9z M581.36 284.10h0.9v0.9h-0.9z M581.36 286.45h0.9v0.9h-0.9z M583.71 279.41h0.9v0.9h-0.9z M583.71 281.76h0.9v0.9h-0.9z M583.71 284.10h0.9v0.9h-0.9z M583.71 286.45h0.9v0.9h-0.9z M586.06 279.41h0.9v0.9h-0.9z M586.06 281.76h0.9v0.9h-0.9z M586.06 284.10h0.9v0.9h-0.9z M586.06 286.45h0.9v0.9h-0.9z M588.41 279.41h0.9v0.9h-0.9z M588.41 281.76h0.9v0.9h-0.9z M588.41 284.10h0.9v0.9h-0.9z M588.41 286.45h0.9v0.9h-0.9z M590.77 279.41h0.9v0.9h-0.9z M590.77 281.76h0.9v0.9h-0.9z M590.77 284.10h0.9v0.9h-0.9z M590.77 286.45h0.9v0.9h-0.9z M593.12 279.41h0.9v0.9h-0.9z M593.12 281.76h0.9v0.9h-0.9z M593.12 284.10h0.9v0.9h-0.9z M593.12 286.45h0.9v0.9h-0.9z M595.47 279.41h0.9v0.9h-0.9z M595.47 281.76h0.9v0.9h-0.9z M595.47 284.10h0.9v0.9h-0.9z M595.47 286.45h0.9v0.9h-0.9z M597.82 284.10h0.9v0.9h-0.9z M597.82 286.45h0.9v0.9h-0.9z M600.17 281.76h0.9v0.9h-0.9z M600.17 284.10h0.9v0.9h-0.9z M600.17 286.45h0.9v0.9h-0.9z M600.17 288.80h0.9v0.9h-0.9z M600.17 291.15h0.9v0.9h-0.9z M602.52 281.76h0.9v0.9h-0.9z M602.52 284.10h0.9v0.9h-0.9z M602.52 286.45h0.9v0.9h-0.9z M602.52 288.80h0.9v0.9h-0.9z M602.52 291.15h0.9v0.9h-0.9z M604.88 286.45h0.9v0.9h-0.9z M604.88 288.80h0.9v0.9h-0.9z M604.88 291.15h0.9v0.9h-0.9z M604.88 302.89h0.9v0.9h-0.9z M604.88 305.24h0.9v0.9h-0.9z M604.88 307.58h0.9v0.9h-0.9z M604.88 309.93h0.9v0.9h-0.9z M604.88 312.28h0.9v0.9h-0.9z M607.23 286.45h0.9v0.9h-0.9z M607.23 302.89h0.9v0.9h-0.9z M607.23 305.24h0.9v0.9h-0.9z M607.23 309.93h0.9v0.9h-0.9z M607.23 312.28h0.9v0.9h-0.9z M607.23 314.63h0.9v0.9h-0.9z M607.23 316.98h0.9v0.9h-0.9z M607.23 319.32h0.9v0.9h-0.9z M609.58 286.45h0.9v0.9h-0.9z M609.58 302.89h0.9v0.9h-0.9z M609.58 312.28h0.9v0.9h-0.9z M609.58 314.63h0.9v0.9h-0.9z M609.58 316.98h0.9v0.9h-0.9z M609.58 319.32h0.9v0.9h-0.9z M609.58 321.67h0.9v0.9h-0.9z M609.58 324.02h0.9v0.9h-0.9z M609.58 326.37h0.9v0.9h-0.9z M609.58 331.06h0.9v0.9h-0.9z M611.93 286.45h0.9v0.9h-0.9z M611.93 288.80h0.9v0.9h-0.9z M611.93 291.15h0.9v0.9h-0.9z M611.93 302.89h0.9v0.9h-0.9z M611.93 312.28h0.9v0.9h-0.9z M611.93 314.63h0.9v0.9h-0.9z M611.93 316.98h0.9v0.9h-0.9z M611.93 319.32h0.9v0.9h-0.9z M611.93 321.67h0.9v0.9h-0.9z M611.93 324.02h0.9v0.9h-0.9z M611.93 326.37h0.9v0.9h-0.9z M611.93 331.06h0.9v0.9h-0.9z M614.28 286.45h0.9v0.9h-0.9z M614.28 288.80h0.9v0.9h-0.9z M614.28 291.15h0.9v0.9h-0.9z M614.28 312.28h0.9v0.9h-0.9z M614.28 314.63h0.9v0.9h-0.9z M614.28 316.98h0.9v0.9h-0.9z M614.28 319.32h0.9v0.9h-0.9z M614.28 324.02h0.9v0.9h-0.9z M614.28 326.37h0.9v0.9h-0.9z M614.28 328.72h0.9v0.9h-0.9z M614.28 331.06h0.9v0.9h-0.9z M616.63 288.80h0.9v0.9h-0.9z M616.63 291.15h0.9v0.9h-0.9z M616.63 312.28h0.9v0.9h-0.9z M616.63 314.63h0.9v0.9h-0.9z M616.63 316.98h0.9v0.9h-0.9z M616.63 319.32h0.9v0.9h-0.9z M618.99 288.80h0.9v0.9h-0.9z M618.99 291.15h0.9v0.9h-0.9z M618.99 302.89h0.9v0.9h-0.9z M618.99 312.28h0.9v0.9h-0.9z M618.99 314.63h0.9v0.9h-0.9z M618.99 316.98h0.9v0.9h-0.9z M618.99 319.32h0.9v0.9h-0.9z M618.99 321.67h0.9v0.9h-0.9z M618.99 326.37h0.9v0.9h-0.9z M618.99 328.72h0.9v0.9h-0.9z M618.99 331.06h0.9v0.9h-0.9z M618.99 333.41h0.9v0.9h-0.9z M621.34 288.80h0.9v0.9h-0.9z M621.34 291.15h0.9v0.9h-0.9z M621.34 302.89h0.9v0.9h-0.9z M621.34 326.37h0.9v0.9h-0.9z M621.34 328.72h0.9v0.9h-0.9z M621.34 331.06h0.9v0.9h-0.9z M621.34 333.41h0.9v0.9h-0.9z M623.69 286.45h0.9v0.9h-0.9z M623.69 288.80h0.9v0.9h-0.9z M623.69 291.15h0.9v0.9h-0.9z M623.69 302.89h0.9v0.9h-0.9z M623.69 326.37h0.9v0.9h-0.9z M623.69 328.72h0.9v0.9h-0.9z M623.69 331.06h0.9v0.9h-0.9z M623.69 333.41h0.9v0.9h-0.9z M626.04 302.89h0.9v0.9h-0.9z M626.04 328.72h0.9v0.9h-0.9z M626.04 331.06h0.9v0.9h-0.9z M626.04 333.41h0.9v0.9h-0.9z M628.39 302.89h0.9v0.9h-0.9z M628.39 305.24h0.9v0.9h-0.9z M628.39 307.58h0.9v0.9h-0.9z M628.39 309.93h0.9v0.9h-0.9z M628.39 312.28h0.9v0.9h-0.9z M628.39 326.37h0.9v0.9h-0.9z M628.39 328.72h0.9v0.9h-0.9z M628.39 331.06h0.9v0.9h-0.9z M628.39 333.41h0.9v0.9h-0.9z M628.39 349.85h0.9v0.9h-0.9z M628.39 352.20h0.9v0.9h-0.9z M628.39 354.54h0.9v0.9h-0.9z M630.74 340.46h0.9v0.9h-0.9z M630.74 342.80h0.9v0.9h-0.9z M630.74 345.15h0.9v0.9h-0.9z M630.74 349.85h0.9v0.9h-0.9z M630.74 354.54h0.9v0.9h-0.9z M633.10 340.46h0.9v0.9h-0.9z M633.10 342.80h0.9v0.9h-0.9z M633.10 345.15h0.9v0.9h-0.9z M633.10 349.85h0.9v0.9h-0.9z M633.10 354.54h0.9v0.9h-0.9z M635.45 340.46h0.9v0.9h-0.9z M635.45 342.80h0.9v0.9h-0.9z M635.45 345.15h0.9v0.9h-0.9z M635.45 347.50h0.9v0.9h-0.9z M635.45 349.85h0.9v0.9h-0.9z M635.45 352.20h0.9v0.9h-0.9z M635.45 354.54h0.9v0.9h-0.9z M637.80 340.46h0.9v0.9h-0.9z M637.80 342.80h0.9v0.9h-0.9z M637.80 345.15h0.9v0.9h-0.9z M637.80 347.50h0.9v0.9h-0.9z M637.80 349.85h0.9v0.9h-0.9z M637.80 352.20h0.9v0.9h-0.9z M637.80 354.54h0.9v0.9h-0.9z M640.15 340.46h0.9v0.9h-0.9z M640.15 342.80h0.9v0.9h-0.9z M640.15 345.15h0.9v0.9h-0.9z M642.50 340.46h0.9v0.9h-0.9z M642.50 342.80h0.9v0.9h-0.9z M642.50 345.15h0.9v0.9h-0.9z M644.85 340.46h0.9v0.9h-0.9z M644.85 342.80h0.9v0.9h-0.9z M644.85 345.15h0.9v0.9h-0.9z M647.21 340.46h0.9v0.9h-0.9z M647.21 342.80h0.9v0.9h-0.9z M647.21 345.15h0.9v0.9h-0.9z" fill="#2a2a2a" fill-opacity="0.75"/></g>
<use href="#coast" transform="translate(353.1,234.9)"/>
<line x1="389.0" y1="259.9" x2="678.2" y2="259.9" stroke="#a8a8a8" stroke-width="1.8"/>
<line x1="392.5" y1="256.9" x2="392.5" y2="380.3" stroke="#555" stroke-width="1.3"/>
<line x1="674.7" y1="256.9" x2="674.7" y2="380.3" stroke="#666" stroke-width="1.3"/>
<line x1="389.0" y1="377.3" x2="678.2" y2="377.3" stroke="#555" stroke-width="1.3"/>
<path d="M392.5 377.3 L392.5 380.3 M392.5 259.9 L392.5 256.9 M439.5 377.3 L439.5 380.3 M439.5 259.9 L439.5 256.9 M486.6 377.3 L486.6 380.3 M486.6 259.9 L486.6 256.9 M533.6 377.3 L533.6 380.3 M533.6 259.9 L533.6 256.9 M580.6 377.3 L580.6 380.3 M580.6 259.9 L580.6 256.9 M627.7 377.3 L627.7 380.3 M627.7 259.9 L627.7 256.9 M674.7 377.3 L674.7 380.3 M674.7 259.9 L674.7 256.9 M392.5 377.3 L389.5 377.3 M674.7 377.3 L677.7 377.3 M392.5 353.8 L389.5 353.8 M674.7 353.8 L677.7 353.8 M392.5 330.3 L389.5 330.3 M674.7 330.3 L677.7 330.3 M392.5 306.9 L389.5 306.9 M674.7 306.9 L677.7 306.9 M392.5 283.4 L389.5 283.4 M674.7 283.4 L677.7 283.4 M392.5 259.9 L389.5 259.9 M674.7 259.9 L677.7 259.9" stroke="#555" stroke-width="0.9"/>
<text x="392.5" y="389.6" font-size="9.2" text-anchor="middle" fill="#333" >180°</text>
<text x="439.5" y="389.6" font-size="9.2" text-anchor="middle" fill="#333" >120°W</text>
<text x="486.6" y="389.6" font-size="9.2" text-anchor="middle" fill="#333" >60°W</text>
<text x="533.6" y="389.6" font-size="9.2" text-anchor="middle" fill="#333" >0°</text>
<text x="580.6" y="389.6" font-size="9.2" text-anchor="middle" fill="#333" >60°E</text>
<text x="627.7" y="389.6" font-size="9.2" text-anchor="middle" fill="#333" >120°E</text>
<text x="674.7" y="389.6" font-size="9.2" text-anchor="middle" fill="#333" >180°</text>
<text x="387.5" y="263.2" font-size="9.2" text-anchor="end" fill="#333" >90°N</text>
<text x="387.5" y="286.7" font-size="9.2" text-anchor="end" fill="#333" >60°N</text>
<text x="387.5" y="310.2" font-size="9.2" text-anchor="end" fill="#333" >30°N</text>
<text x="387.5" y="333.6" font-size="9.2" text-anchor="end" fill="#333" >0°</text>
<text x="387.5" y="357.1" font-size="9.2" text-anchor="end" fill="#333" >30°S</text>
<text x="387.5" y="380.6" font-size="9.2" text-anchor="end" fill="#333" >60°S</text>
<text x="533.6" y="401.8" font-size="11.5" text-anchor="middle" fill="#222" letter-spacing="0.4">Longitude</text>
<text transform="translate(362.9,318.2) rotate(-90)" font-size="11.5" text-anchor="middle" fill="#2b2b2b" letter-spacing="0.45">Latitude</text>
<line x1="67.5" y1="90.4" x2="67.5" y2="137.5" stroke="#444" stroke-width="0.9"/>
<line x1="67.5" y1="114.2" x2="109.7" y2="114.2" stroke="#444" stroke-width="0.9"/>
<path d="M67.5 99.4 L69.0 99.4 M67.5 128.9 L69.0 128.9" stroke="#444" stroke-width="0.8"/>
<text x="47.9" y="102.2" font-size="7.5" text-anchor="start" fill="#333" >0.01</text>
<text x="52.7" y="117.0" font-size="7.5" text-anchor="start" fill="#333" >0</text>
<text x="47.7" y="132.1" font-size="7.5" text-anchor="start" fill="#333" >-0.01</text>
<rect x="73.8" y="114.2" width="8.8" height="12.3" fill="#3a78c4" stroke="#222" stroke-width="0.8"/>
<path d="M78.2 126.5 L78.2 136.4 M74.0 136.4 L82.4 136.4" stroke="#444" stroke-width="0.9"/>
<rect x="84.4" y="114.2" width="8.8" height="5.3" fill="#a3a3a3" stroke="#222" stroke-width="0.8"/>
<path d="M88.8 119.5 L88.8 121.6 M84.6 121.6 L93.0 121.6" stroke="#666" stroke-width="0.9"/>
<rect x="95.0" y="113.2" width="8.8" height="1.0" fill="#a8352a" stroke="#222" stroke-width="0.8"/>
<path d="M99.4 113.2 L99.4 111.4 M95.2 111.4 L103.6 111.4" stroke="#444" stroke-width="0.9"/>
<line x1="420.6" y1="90.4" x2="420.6" y2="137.5" stroke="#444" stroke-width="0.9"/>
<line x1="420.6" y1="114.2" x2="462.8" y2="114.2" stroke="#444" stroke-width="0.9"/>
<path d="M420.6 99.4 L422.1 99.4 M420.6 128.9 L422.1 128.9" stroke="#444" stroke-width="0.8"/>
<text x="401.0" y="102.2" font-size="7.5" text-anchor="start" fill="#333" >0.01</text>
<text x="405.8" y="117.0" font-size="7.5" text-anchor="start" fill="#333" >0</text>
<text x="400.8" y="132.1" font-size="7.5" text-anchor="start" fill="#333" >-0.01</text>
<rect x="426.9" y="114.2" width="8.8" height="2.3" fill="#3a78c4" stroke="#222" stroke-width="0.8"/>
<path d="M431.3 116.5 L431.3 120.8 M427.1 120.8 L435.5 120.8" stroke="#444" stroke-width="0.9"/>
<rect x="437.5" y="114.2" width="8.8" height="2.3" fill="#a3a3a3" stroke="#222" stroke-width="0.8"/>
<path d="M441.9 116.5 L441.9 120.0 M437.7 120.0 L446.1 120.0" stroke="#666" stroke-width="0.9"/>
<rect x="448.1" y="108.8" width="8.8" height="5.4" fill="#e0562a" stroke="#222" stroke-width="0.8"/>
<path d="M452.5 108.8 L452.5 106.3 M448.3 106.3 L456.7 106.3" stroke="#444" stroke-width="0.9"/>
<line x1="67.5" y1="325.3" x2="67.5" y2="372.4" stroke="#444" stroke-width="0.9"/>
<line x1="67.5" y1="349.1" x2="109.7" y2="349.1" stroke="#444" stroke-width="0.9"/>
<path d="M67.5 334.3 L69.0 334.3 M67.5 363.8 L69.0 363.8" stroke="#444" stroke-width="0.8"/>
<text x="47.9" y="337.1" font-size="7.5" text-anchor="start" fill="#333" >0.01</text>
<text x="52.7" y="351.9" font-size="7.5" text-anchor="start" fill="#333" >0</text>
<text x="47.7" y="367.0" font-size="7.5" text-anchor="start" fill="#333" >-0.01</text>
<rect x="73.8" y="349.1" width="8.8" height="10.6" fill="#3a78c4" stroke="#222" stroke-width="0.8"/>
<path d="M78.2 359.7 L78.2 366.3 M74.0 366.3 L82.4 366.3" stroke="#444" stroke-width="0.9"/>
<rect x="84.4" y="349.1" width="8.8" height="6.3" fill="#a3a3a3" stroke="#222" stroke-width="0.8"/>
<path d="M88.8 355.4 L88.8 358.1 M84.6 358.1 L93.0 358.1" stroke="#666" stroke-width="0.9"/>
<rect x="95.0" y="349.1" width="8.8" height="8.4" fill="#e0562a" stroke="#222" stroke-width="0.8"/>
<path d="M99.4 357.5 L99.4 362.6 M95.2 362.6 L103.6 362.6" stroke="#444" stroke-width="0.9"/>
<rect x="39.10" y="182.20" width="28.58" height="12.00" fill="#323595"/>
<rect x="67.38" y="182.20" width="28.58" height="12.00" fill="#4876b5"/>
<rect x="95.66" y="182.20" width="28.58" height="12.00" fill="#77aed1"/>
<rect x="123.94" y="182.20" width="28.58" height="12.00" fill="#acdce8"/>
<rect x="152.22" y="182.20" width="28.58" height="12.00" fill="#e0f3f7"/>
<rect x="180.50" y="182.20" width="28.58" height="12.00" fill="#f2e08e"/>
<rect x="208.78" y="182.20" width="28.58" height="12.00" fill="#eeaa62"/>
<rect x="237.06" y="182.20" width="28.58" height="12.00" fill="#eb6c46"/>
<rect x="265.34" y="182.20" width="28.58" height="12.00" fill="#d8342b"/>
<rect x="293.62" y="182.20" width="28.58" height="12.00" fill="#a31b2b"/>
<rect x="39.10" y="182.20" width="282.80" height="12.00" fill="none" stroke="#444" stroke-width="0.9"/>
<path d="M67.38 194.20 L67.38 192.20 M95.66 194.20 L95.66 192.20 M123.94 194.20 L123.94 192.20 M152.22 194.20 L152.22 192.20 M180.50 194.20 L180.50 192.20 M208.78 194.20 L208.78 192.20 M237.06 194.20 L237.06 192.20 M265.34 194.20 L265.34 192.20 M293.62 194.20 L293.62 192.20" stroke="#444" stroke-width="0.9"/>
<text x="66.4" y="208.5" font-size="9" text-anchor="middle" fill="#333" >-0.03</text>
<text x="94.7" y="208.5" font-size="9" text-anchor="middle" fill="#333" >-0.02</text>
<text x="122.9" y="208.5" font-size="9" text-anchor="middle" fill="#333" >-0.01</text>
<text x="152.2" y="208.5" font-size="9" text-anchor="middle" fill="#333" >-0.001</text>
<text x="174.0" y="208.5" font-size="9" text-anchor="middle" fill="#333" >0</text>
<text x="207.8" y="208.5" font-size="9" text-anchor="middle" fill="#333" >0.001</text>
<text x="234.6" y="208.5" font-size="9" text-anchor="middle" fill="#333" >0.01</text>
<text x="262.8" y="208.5" font-size="9" text-anchor="middle" fill="#333" >0.02</text>
<text x="291.1" y="208.5" font-size="9" text-anchor="middle" fill="#333" >0.03</text>
<text x="180.5" y="220.2" font-size="12" text-anchor="middle" fill="#2b2b2b" letter-spacing="0.15">ΔT (°C)</text>
<rect x="392.40" y="182.20" width="28.58" height="12.00" fill="#323595"/>
<rect x="420.68" y="182.20" width="28.58" height="12.00" fill="#4876b5"/>
<rect x="448.96" y="182.20" width="28.58" height="12.00" fill="#77aed1"/>
<rect x="477.24" y="182.20" width="28.58" height="12.00" fill="#acdce8"/>
<rect x="505.52" y="182.20" width="28.58" height="12.00" fill="#e0f3f7"/>
<rect x="533.80" y="182.20" width="28.58" height="12.00" fill="#f2e08e"/>
<rect x="562.08" y="182.20" width="28.58" height="12.00" fill="#eeaa62"/>
<rect x="590.36" y="182.20" width="28.58" height="12.00" fill="#eb6c46"/>
<rect x="618.64" y="182.20" width="28.58" height="12.00" fill="#d8342b"/>
<rect x="646.92" y="182.20" width="28.58" height="12.00" fill="#a31b2b"/>
<rect x="392.40" y="182.20" width="282.80" height="12.00" fill="none" stroke="#444" stroke-width="0.9"/>
<path d="M420.68 194.20 L420.68 192.20 M448.96 194.20 L448.96 192.20 M477.24 194.20 L477.24 192.20 M505.52 194.20 L505.52 192.20 M533.80 194.20 L533.80 192.20 M562.08 194.20 L562.08 192.20 M590.36 194.20 L590.36 192.20 M618.64 194.20 L618.64 192.20 M646.92 194.20 L646.92 192.20" stroke="#444" stroke-width="0.9"/>
<text x="419.7" y="208.5" font-size="9" text-anchor="middle" fill="#333" >-0.03</text>
<text x="448.0" y="208.5" font-size="9" text-anchor="middle" fill="#333" >-0.02</text>
<text x="476.2" y="208.5" font-size="9" text-anchor="middle" fill="#333" >-0.01</text>
<text x="505.5" y="208.5" font-size="9" text-anchor="middle" fill="#333" >-0.001</text>
<text x="527.3" y="208.5" font-size="9" text-anchor="middle" fill="#333" >0</text>
<text x="561.1" y="208.5" font-size="9" text-anchor="middle" fill="#333" >0.001</text>
<text x="587.9" y="208.5" font-size="9" text-anchor="middle" fill="#333" >0.01</text>
<text x="616.1" y="208.5" font-size="9" text-anchor="middle" fill="#333" >0.02</text>
<text x="644.4" y="208.5" font-size="9" text-anchor="middle" fill="#333" >0.03</text>
<text x="506.1" y="220.4" font-size="12" fill="#2b2b2b" letter-spacing="0.15">ΔT<tspan font-size="8.2" dy="3.4">LAI</tspan><tspan dy="-3.4"> (°C)</tspan></text>
<rect x="39.50" y="416.90" width="28.58" height="12.00" fill="#323595"/>
<rect x="67.78" y="416.90" width="28.58" height="12.00" fill="#4876b5"/>
<rect x="96.06" y="416.90" width="28.58" height="12.00" fill="#77aed1"/>
<rect x="124.34" y="416.90" width="28.58" height="12.00" fill="#acdce8"/>
<rect x="152.62" y="416.90" width="28.58" height="12.00" fill="#e0f3f7"/>
<rect x="180.90" y="416.90" width="28.58" height="12.00" fill="#f2e08e"/>
<rect x="209.18" y="416.90" width="28.58" height="12.00" fill="#eeaa62"/>
<rect x="237.46" y="416.90" width="28.58" height="12.00" fill="#eb6c46"/>
<rect x="265.74" y="416.90" width="28.58" height="12.00" fill="#d8342b"/>
<rect x="294.02" y="416.90" width="28.58" height="12.00" fill="#a31b2b"/>
<rect x="39.50" y="416.90" width="282.80" height="12.00" fill="none" stroke="#444" stroke-width="0.9"/>
<path d="M67.78 428.90 L67.78 426.90 M96.06 428.90 L96.06 426.90 M124.34 428.90 L124.34 426.90 M152.62 428.90 L152.62 426.90 M180.90 428.90 L180.90 426.90 M209.18 428.90 L209.18 426.90 M237.46 428.90 L237.46 426.90 M265.74 428.90 L265.74 426.90 M294.02 428.90 L294.02 426.90" stroke="#444" stroke-width="0.9"/>
<text x="66.8" y="443.2" font-size="9" text-anchor="middle" fill="#333" >-0.03</text>
<text x="95.1" y="443.2" font-size="9" text-anchor="middle" fill="#333" >-0.02</text>
<text x="123.3" y="443.2" font-size="9" text-anchor="middle" fill="#333" >-0.01</text>
<text x="152.6" y="443.2" font-size="9" text-anchor="middle" fill="#333" >-0.001</text>
<text x="174.4" y="443.2" font-size="9" text-anchor="middle" fill="#333" >0</text>
<text x="208.2" y="443.2" font-size="9" text-anchor="middle" fill="#333" >0.001</text>
<text x="235.0" y="443.2" font-size="9" text-anchor="middle" fill="#333" >0.01</text>
<text x="263.2" y="443.2" font-size="9" text-anchor="middle" fill="#333" >0.02</text>
<text x="291.5" y="443.2" font-size="9" text-anchor="middle" fill="#333" >0.03</text>
<text x="143.7" y="455.7" font-size="12" fill="#2b2b2b" letter-spacing="0.15">ΔT<tspan font-size="9" dy="3.4" letter-spacing="0.15">dT/dLAI</tspan><tspan dy="-3.4"> (°C)</tspan></text>
<rect x="449.1" y="420.1" width="25.8" height="8.7" fill="#3a78c4"/>
<rect x="554.7" y="420.1" width="26.9" height="8.7" fill="#e0562a"/>
<text x="481.1" y="426.8" font-size="12" fill="#2b2b2b" letter-spacing="0.15">ΔT<tspan font-size="8.2" dy="6.2">LAI</tspan></text>
<text x="587.2" y="426.8" font-size="12" fill="#2b2b2b" letter-spacing="0.15">ΔT<tspan font-size="9" dy="6.4" letter-spacing="0.3">dt/dLAI</tspan></text>
</svg></body></html>
